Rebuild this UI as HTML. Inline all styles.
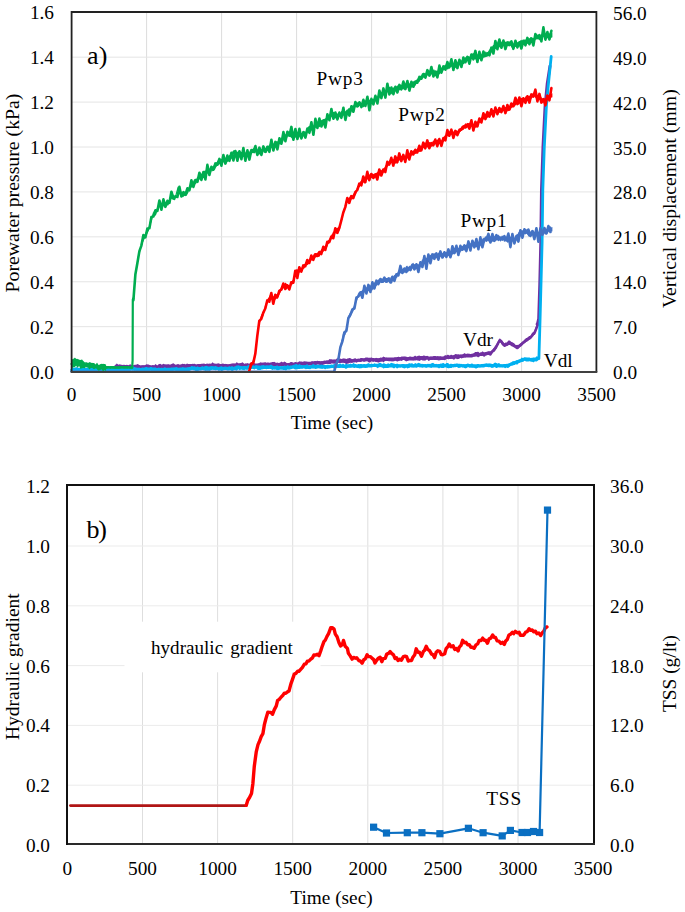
<!DOCTYPE html>
<html><head><meta charset="utf-8"><style>
html,body{margin:0;padding:0;background:#fff;}
svg{display:block;}
text{font-family:"Liberation Serif",serif;fill:#000;}
</style></head><body>
<svg width="685" height="912" viewBox="0 0 685 912">
<rect width="685" height="912" fill="#fff"/>
<g stroke="#e2e2e2" stroke-width="1"><line x1="146.6" y1="12" x2="146.6" y2="372" stroke="#dcdcdc"/><line x1="221.6" y1="12" x2="221.6" y2="372" stroke="#dcdcdc"/><line x1="296.6" y1="12" x2="296.6" y2="372" stroke="#dcdcdc"/><line x1="371.6" y1="12" x2="371.6" y2="372" stroke="#dcdcdc"/><line x1="446.6" y1="12" x2="446.6" y2="372" stroke="#dcdcdc"/><line x1="521.6" y1="12" x2="521.6" y2="372" stroke="#dcdcdc"/><line x1="72" y1="326.68" x2="597" y2="326.68" stroke="#e4e4e4"/><line x1="72" y1="281.76" x2="597" y2="281.76" stroke="#e4e4e4"/><line x1="72" y1="236.84" x2="597" y2="236.84" stroke="#e4e4e4"/><line x1="72" y1="191.92" x2="597" y2="191.92" stroke="#e4e4e4"/><line x1="72" y1="147.0" x2="597" y2="147.0" stroke="#e4e4e4"/><line x1="72" y1="102.08" x2="597" y2="102.08" stroke="#e4e4e4"/><line x1="72" y1="57.16" x2="597" y2="57.16" stroke="#e4e4e4"/></g>
<path d="M115.1,365.2 L115.6,364.6 L116.1,364.2 L116.6,363.4 L117.1,363.8 L117.6,364.1 L118.1,364.7 L118.6,364.5 L119.1,364.5 L119.6,364.3 L120.1,364.5 L120.6,364.6 L121.1,364.7 L121.6,364.8 L122.1,364.8 L122.6,364.9 L123.1,364.9 L123.6,364.8 L124.1,364.6 L124.6,364.9 L125.1,364.9 L125.6,364.9 L126.1,364.9 L126.6,364.8 L127.1,364.8 L127.6,364.9 L128.1,365.2 L128.6,365.3 L129.1,364.9 L129.6,364.5 L130.1,364.3 L130.6,364.5 L131.1,364.7 L131.6,365.3 L132.1,365.1 L132.6,365 L133.1,365 L133.6,365.2 L134.1,365.1 L134.6,364.8 L135.1,364.8 L135.6,364.8 L136.1,364.8 L136.6,364.5 L137.1,364.3 L137.6,364 L138.1,364.2 L138.6,364.6 L139.1,365 L139.6,365.1 L140.1,365.2 L140.6,365.4 L141.1,365.4 L141.6,365.3 L142.1,365.2 L142.6,365.3 L143.1,365.3 L143.6,365.2 L144.1,365.2 L144.6,365.2 L145.1,365.3 L145.6,364.7 L146.1,364.6 L146.6,364.3 L147.1,364.2 L147.6,364.4 L148.1,364.4 L148.6,364.5 L149.1,364.8 L149.6,365.1 L150.1,365.1 L150.6,365.3 L151.1,365.5 L151.6,365.3 L152.1,365.1 L152.6,365.2 L153.1,365.1 L153.6,365.2 L154.1,365.4 L154.6,365 L155.1,364.6 L155.6,363.9 L156.1,364.6 L156.6,365.1 L157.1,365.6 L157.6,365.3 L158.1,364.8 L158.6,364.3 L159.1,364 L159.6,364.1 L160.1,363.8 L160.6,364.1 L161.1,364.3 L161.6,364.7 L162.1,364.5 L162.6,364.3 L163.1,363.9 L163.6,363.8 L164.1,364.1 L164.6,364.3 L165.1,364.4 L165.6,364.3 L166.1,364.2 L166.6,364.4 L167.1,364.3 L167.6,364.4 L168.1,364.2 L168.6,364.3 L169.1,364.5 L169.6,364.5 L170.1,364.5 L170.6,364.5 L171.1,364.3 L171.6,364 L172.1,363.8 L172.6,363.5 L173.1,363.4 L173.6,363.3 L174.1,363.7 L174.6,364.2 L175.1,364.6 L175.6,364.7 L176.1,364.6 L176.6,364.6 L177.1,364.4 L177.6,364.1 L178.1,363.9 L178.6,364.2 L179.1,364.3 L179.6,364.7 L180.1,364.5 L180.6,364.4 L181.1,364.3 L181.6,364.2 L182.1,363.7 L182.6,363.8 L183.1,363.9 L183.6,363.9 L184.1,363.8 L184.6,364 L185.1,364.2 L185.6,364.3 L186.1,364.2 L186.6,363.8 L187.1,363.5 L187.6,363.8 L188.1,364 L188.6,364 L189.1,364 L189.6,363.9 L190.1,363.9 L190.6,364 L191.1,363.9 L191.6,363.9 L192.1,364 L192.6,363.8 L193.1,363.7 L193.6,363.9 L194.1,363.8 L194.6,363.7 L195.1,364 L195.6,364.2 L196.1,364.5 L196.6,364.5 L197.1,364.2 L197.6,364.1 L198.1,364 L198.6,363.9 L199.1,363.9 L199.6,364.1 L200.1,364.1 L200.6,363.9 L201.1,363.7 L201.6,363.8 L202.1,363.9 L202.6,363.6 L203.1,363.8 L203.6,363.6 L204.1,363.6 L204.6,363.8 L205.1,364.1 L205.6,364 L206.1,363.9 L206.6,363.6 L207.1,363.7 L207.6,363.6 L208.1,363.8 L208.6,363.7 L209.1,363.7 L209.6,363.5 L210.1,363.6 L210.6,363.7 L211.1,363.8 L211.6,363.3 L212.1,362.8 L212.6,362.3 L213.1,362.8 L213.6,363.2 L214.1,363.5 L214.6,363.6 L215.1,363.6 L215.6,363.7 L216.1,363.7 L216.6,363.7 L217.1,363.6 L217.6,363.5 L218.1,363.4 L218.6,363.3 L219.1,363.5 L219.6,363.7 L220.1,363.9 L220.6,364 L221.1,363.9 L221.6,364 L222.1,363.8 L222.6,363.5 L223.1,363.4 L223.6,363.7 L224.1,363.9 L224.6,364 L225.1,363.8 L225.6,363.9 L226.1,363.9 L226.6,364.1 L227.1,364.1 L227.6,364.2 L228.1,364.2 L228.6,364.2 L229.1,364.2 L229.6,364.1 L230.1,363.9 L230.6,363.7 L231.1,363.7 L231.6,363.5 L232.1,363.4 L232.6,363.4 L233.1,363.4 L233.6,363.6 L234.1,363.5 L234.6,363.4 L235.1,363.7 L235.6,363.3 L236.1,362.8 L236.6,362.3 L237.1,362.6 L237.6,362.8 L238.1,363.2 L238.6,363.3 L239.1,363.3 L239.6,363.3 L240.1,363.2 L240.6,363 L241.1,362.9 L241.6,362.8 L242.1,362.5 L242.6,362.3 L243.1,362.8 L243.6,363.2 L244.1,363.8 L244.6,363.7 L245.1,363.6 L245.6,363.5 L246.1,363.5 L246.6,363.4 L247.1,363.1 L247.6,363.2 L248.1,363.4 L248.6,363.5 L249.1,363.4 L249.6,363.5 L250.1,363.6 L250.6,363.5 L251.1,363.3 L251.6,363.1 L252.1,362.8 L252.6,362.3 L253.1,362.2 L253.6,362.5 L254.1,362.7 L254.6,363.3 L255.1,363.4 L255.6,363.5 L256.1,363.6 L256.6,363.6 L257.1,363.5 L257.6,363.4 L258.1,363.3 L258.6,363.3 L259.1,363.3 L259.6,362.8 L260.1,362.5 L260.6,362.2 L261.1,362.4 L261.6,362.6 L262.1,362.7 L262.6,362.6 L263.1,362.5 L263.6,362.6 L264.1,362.4 L264.6,362.3 L265.1,362.2 L265.6,362.3 L266.1,362.5 L266.6,362.7 L267.1,362.4 L267.6,362.5 L268.1,362.6 L268.6,362.6 L269.1,362.8 L269.6,362.8 L270.1,362.6 L270.6,362.6 L271.1,362.5 L271.6,362.3 L272.1,362 L272.6,362 L273.1,361.9 L273.6,361.9 L274.1,361.8 L274.6,362 L275.1,362.2 L275.6,362.7 L276.1,362.8 L276.6,362.8 L277.1,362.7 L277.6,362.6 L278.1,362.7 L278.6,362.9 L279.1,362.9 L279.6,362.8 L280.1,362.6 L280.6,362.3 L281.1,361.9 L281.6,361.5 L282.1,361.9 L282.6,362.3 L283.1,362.6 L283.6,362.1 L284.1,361.7 L284.6,361.5 L285.1,361.9 L285.6,362.1 L286.1,362.7 L286.6,362.7 L287.1,363.2 L287.6,363.1 L288.1,363 L288.6,362.9 L289.1,362.9 L289.6,362.7 L290.1,362.4 L290.6,362 L291.1,362.1 L291.6,362.1 L292.1,362.2 L292.6,362.5 L293.1,362.6 L293.6,362.8 L294.1,362.5 L294.6,362.3 L295.1,362 L295.6,362 L296.1,362.2 L296.6,362.3 L297.1,362.3 L297.6,362.4 L298.1,362.2 L298.6,361.8 L299.1,361.6 L299.6,361.3 L300.1,361.4 L300.6,361.5 L301.1,361.5 L301.6,361.6 L302.1,361.8 L302.6,361.8 L303.1,361.7 L303.6,361.4 L304.1,361.1 L304.6,361.4 L305.1,361.3 L305.6,361.4 L306.1,361.4 L306.6,361.5 L307.1,361.6 L307.6,361.7 L308.1,361.7 L308.6,361.8 L309.1,361.8 L309.6,361.7 L310.1,361.7 L310.6,361.7 L311.1,361.5 L311.6,361.3 L312.1,361.3 L312.6,361.2 L313.1,361.4 L313.6,361.3 L314.1,361.2 L314.6,361 L315.1,361 L315.6,361.1 L316.1,361.3 L316.6,361 L317.1,360.8 L317.6,360.8 L318.1,361 L318.6,361 L319.1,361.1 L319.6,361.1 L320.1,361.3 L320.6,361.2 L321.1,361.2 L321.6,361.1 L322.1,361.2 L322.6,361 L323.1,360.9 L323.6,360.7 L324.1,360.6 L324.6,360.6 L325.1,360.7 L325.6,360.6 L326.1,360.4 L326.6,360.2 L327.1,360.2 L327.6,360.3 L328.1,360.4 L328.6,359.9 L329.1,359.6 L329.6,359.1 L330.1,359.3 L330.6,359.2 L331.1,359.2 L331.6,359.3 L332.1,359.5 L332.6,359.6 L333.1,359.5 L333.6,359.4 L334.1,359.3 L334.6,359.4 L335.1,359.6 L335.6,359.6 L336.1,359.1 L336.6,358.7 L337.1,358.1 L337.6,358.4 L338.1,358.6 L338.6,358.9 L339.1,358.7 L339.6,358.6 L340.1,358.6 L340.6,358.8 L341.1,358.8 L341.6,359.1 L342.1,358.9 L342.6,358.5 L343.1,358.3 L343.6,358.4 L344.1,358.4 L344.6,358.5 L345.1,358.6 L345.6,358.8 L346.1,359.1 L346.6,358.9 L347.1,358.6 L347.6,358.6 L348.1,358.4 L348.6,358.2 L349.1,357.9 L349.6,358 L350.1,358.2 L350.6,358.3 L351.1,358.5 L351.6,358.9 L352.1,359.2 L352.6,359 L353.1,358.9 L353.6,358.8 L354.1,358.6 L354.6,358.5 L355.1,358.1 L355.6,358.5 L356.1,358.7 L356.6,359 L357.1,358.8 L357.6,358.8 L358.1,358.7 L358.6,358.5 L359.1,358.6 L359.6,358.7 L360.1,358.4 L360.6,358.1 L361.1,357.9 L361.6,357.9 L362.1,358.1 L362.6,358.2 L363.1,358.3 L363.6,358.3 L364.1,358.2 L364.6,358.2 L365.1,357.8 L365.6,357.6 L366.1,357.5 L366.6,357.5 L367.1,357.5 L367.6,357.6 L368.1,357.8 L368.6,357.8 L369.1,357.8 L369.6,357.7 L370.1,357.7 L370.6,357.7 L371.1,357.6 L371.6,357.6 L372.1,357.7 L372.6,357.9 L373.1,357.9 L373.6,358 L374.1,358.3 L374.6,358.3 L375.1,358.2 L375.6,358.1 L376.1,357.8 L376.6,358 L377.1,358.1 L377.6,358.2 L378.1,358.2 L378.6,358.2 L379.1,358.1 L379.6,357.9 L380.1,357.7 L380.6,357.5 L381.1,357.6 L381.6,357.7 L382.1,357.6 L382.6,357.2 L383.1,356.8 L383.6,356.6 L384.1,356.9 L384.6,357 L385.1,357.4 L385.6,357.5 L386.1,357.6 L386.6,357.5 L387.1,357.4 L387.6,357.4 L388.1,357.4 L388.6,357.5 L389.1,357.6 L389.6,357.5 L390.1,357.5 L390.6,357.5 L391.1,357.5 L391.6,357.6 L392.1,357.5 L392.6,357.5 L393.1,357.5 L393.6,357.5 L394.1,357.5 L394.6,357.3 L395.1,357.3 L395.6,357.3 L396.1,357.2 L396.6,357.2 L397.1,357.1 L397.6,357 L398.1,356.9 L398.6,356.6 L399.1,357 L399.6,357.1 L400.1,357.3 L400.6,357 L401.1,356.7 L401.6,356.6 L402.1,356.6 L402.6,356.6 L403.1,356.7 L403.6,356.5 L404.1,356.5 L404.6,356.6 L405.1,356.6 L405.6,356.6 L406.1,356.7 L406.6,356.8 L407.1,356.9 L407.6,357.2 L408.1,357 L408.6,356.9 L409.1,356.8 L409.6,356.6 L410.1,356.6 L410.6,356.6 L411.1,356.7 L411.6,356.8 L412.1,357 L412.6,356.8 L413.1,356.7 L413.6,356.7 L414.1,356.2 L414.6,355.9 L415.1,355.5 L415.6,356 L416.1,356.2 L416.6,356.6 L417.1,356.3 L417.6,356.1 L418.1,355.8 L418.6,355.8 L419.1,355.7 L419.6,355.6 L420.1,355.9 L420.6,355.9 L421.1,356 L421.6,356 L422.1,356 L422.6,355.9 L423.1,355.7 L423.6,355.6 L424.1,355.5 L424.6,355.7 L425.1,355.8 L425.6,356.2 L426.1,356 L426.6,355.9 L427.1,355.8 L427.6,355.9 L428.1,356.3 L428.6,356.6 L429.1,356.7 L429.6,356.6 L430.1,356.4 L430.6,356.5 L431.1,356.5 L431.6,356.6 L432.1,356.5 L432.6,356.4 L433.1,356.2 L433.6,356.1 L434.1,356.1 L434.6,356 L435.1,356 L435.6,356.1 L436.1,356.3 L436.6,356.2 L437.1,356.3 L437.6,356.1 L438.1,356.2 L438.6,356.3 L439.1,356.4 L439.6,356.3 L440.1,356.3 L440.6,356.2 L441.1,356.3 L441.6,356.4 L442.1,356.4 L442.6,356.4 L443.1,356.5 L443.6,356.4 L444.1,356.1 L444.6,355.6 L445.1,355.2 L445.6,355.2 L446.1,355.3 L446.6,355.4 L447.1,355 L447.6,354.8 L448.1,354.7 L448.6,355 L449.1,355.3 L449.6,355.6 L450.1,355.2 L450.6,355 L451.1,354.5 L451.6,354.9 L452.1,355 L452.6,355.5 L453.1,355.5 L453.6,355.1 L454.1,354.9 L454.6,354.6 L455.1,354.2 L455.6,354 L456.1,354.1 L456.6,354.3 L457.1,354.4 L457.6,354.3 L458.1,354.3 L458.6,354.3 L459.1,354.5 L459.6,354.6 L460.1,354.6 L460.6,354.5 L461.1,354.5 L461.6,354.5 L462.1,354.4 L462.6,354.2 L463.1,354 L463.6,353.7 L464.1,353.5 L464.6,353.1 L465.1,353.6 L465.6,353.8 L466.1,354 L466.6,353.8 L467.1,353.8 L467.6,353.6 L468.1,353.6 L468.6,353.7 L469.1,353.8 L469.6,353.8 L470.1,353.9 L470.6,354 L471.1,353.9 L471.6,353.8 L472.1,353.6 L472.6,353.7 L473.1,353.5 L473.6,353.3 L474.1,353 L474.6,352.5 L475.1,352 L475.6,352.1 L476.1,352.1 L476.6,352.1 L477.1,352 L477.6,351.8 L478.1,351.8 L478.6,352.1 L479.1,352.4 L479.6,352.9 L480.1,352.6 L480.6,352.4 L481.1,352.4 L481.6,352.1 L482.1,351.7 L482.6,351.2 L483.1,351.7 L483.6,352.1 L484.1,352.6 L484.6,352.3 L485.1,352.2 L485.6,352.1 L486.1,351.9 L486.6,351.8 L487.1,351.8 L487.6,351.5 L488.1,351.3 L488.6,351.2 L489.1,351.3 L489.6,351.3 L490.1,351.5 L490.6,351.3 L491.1,351 L491.6,350.4 L492.1,350 L492.6,349.6 L493.1,349.1 L493.6,348.2 L494.1,347.4 L494.6,346.4 L495.1,346 L495.6,345.4 L496.1,344.5 L496.6,343.5 L497.1,342.7 L497.6,342.1 L498.1,341 L498.6,339.9 L499.1,339 L499.6,338.5 L500.1,338.6 L500.6,339.3 L501.1,339.6 L501.6,340 L502.1,340.3 L502.6,341.1 L503.1,342 L503.6,342.9 L504.1,343.3 L504.6,343.2 L505.1,342.8 L505.6,342.6 L506.1,342.6 L506.6,342.5 L507.1,342.2 L507.6,341.5 L508.1,340.8 L508.6,340.5 L509.1,340.5 L509.6,340.5 L510.1,340.7 L510.6,341.3 L511.1,341.8 L511.6,342.1 L512.1,342.3 L512.6,342.3 L513.1,342.7 L513.6,343.1 L514.1,343.3 L514.6,343.8 L515.1,344.4 L515.6,344.9 L516.1,344.9 L516.6,345 L517.1,344.8 L517.6,345.1 L518.1,345 L518.6,344.8 L519.1,344.5 L519.6,343.9 L520.1,343.5 L520.6,343.2 L521.1,342.8 L521.6,342.4 L522.1,342.1 L522.6,341.5 L523.1,341.1 L523.6,340.7 L524.1,340 L524.6,339.5 L525.1,339.1 L525.6,338.4 L526.1,337.9 L526.6,337.9 L527.1,337.8 L527.6,337.5 L528.1,337 L528.6,336.4 L529.1,335.9 L529.6,336 L530.1,336 L530.6,335.8 L531.1,334.9 L531.6,333.8 L532.1,332.9 L532.6,332.6 L533.1,332.2 L533.6,332.1 L534.1,331.2 L534.6,330.2 L535.1,328.9 L535.6,327.6 L536.1,326.3 L536.6,324.9 L537.1,323.8 L537.6,322.6 L538.1,321.6 L538.1,326.4 L537.6,327.3 L537.1,328.5 L536.6,329.6 L536.1,331.3 L535.6,333 L535.1,334.6 L534.6,335 L534.1,335.1 L533.6,335.2 L533.1,335.7 L532.6,336.6 L532.1,337.2 L531.6,337.8 L531.1,338.4 L530.6,338.9 L530.1,339.4 L529.6,339.8 L529.1,340 L528.6,340.4 L528.1,340.8 L527.6,341.2 L527.1,341.6 L526.6,341.8 L526.1,342 L525.6,342.4 L525.1,343 L524.6,343.3 L524.1,343.6 L523.6,344.1 L523.1,344.3 L522.6,344.9 L522.1,345.6 L521.6,346.1 L521.1,346.4 L520.6,346.7 L520.1,346.8 L519.6,347.3 L519.1,348 L518.6,348.4 L518.1,348.9 L517.6,349.3 L517.1,349.3 L516.6,349.2 L516.1,348.7 L515.6,348.4 L515.1,348 L514.6,347.6 L514.1,347.4 L513.6,347.2 L513.1,346.8 L512.6,346.5 L512.1,346.4 L511.6,346.3 L511.1,346 L510.6,345.6 L510.1,345.1 L509.6,344.9 L509.1,345 L508.6,345.1 L508.1,345.4 L507.6,345.8 L507.1,346.1 L506.6,346.1 L506.1,346.4 L505.6,346.4 L505.1,346.8 L504.6,347 L504.1,347 L503.6,346.4 L503.1,346 L502.6,345.6 L502.1,345.2 L501.6,344.4 L501.1,343.5 L500.6,342.6 L500.1,342.2 L499.6,342.3 L499.1,343.1 L498.6,343.9 L498.1,345 L497.6,346 L497.1,346.8 L496.6,347.9 L496.1,349.1 L495.6,350.2 L495.1,350.9 L494.6,351.5 L494.1,351.9 L493.6,352.1 L493.1,352.3 L492.6,353.3 L492.1,354.1 L491.6,354.9 L491.1,355.4 L490.6,355.7 L490.1,355.8 L489.6,355.5 L489.1,355.2 L488.6,354.9 L488.1,354.9 L487.6,355.1 L487.1,355.3 L486.6,355.4 L486.1,355.5 L485.6,355.7 L485.1,356.2 L484.6,356.5 L484.1,357 L483.6,356.6 L483.1,356.2 L482.6,355.7 L482.1,355.9 L481.6,356 L481.1,355.9 L480.6,355.9 L480.1,356.1 L479.6,356.4 L479.1,356.7 L478.6,357.1 L478.1,357.6 L477.6,357.1 L477.1,356.8 L476.6,356.5 L476.1,356.6 L475.6,356.6 L475.1,356.6 L474.6,356.7 L474.1,356.8 L473.6,356.7 L473.1,357 L472.6,357.3 L472.1,357.4 L471.6,357.5 L471.1,357.4 L470.6,357.4 L470.1,357.5 L469.6,357.4 L469.1,357.4 L468.6,357.5 L468.1,357.4 L467.6,357.5 L467.1,357.5 L466.6,357.4 L466.1,357.4 L465.6,357.6 L465.1,357.7 L464.6,357.6 L464.1,357.8 L463.6,357.8 L463.1,357.9 L462.6,358.1 L462.1,358.3 L461.6,358.4 L461.1,358.2 L460.6,358 L460.1,357.9 L459.6,358.4 L459.1,358.7 L458.6,359 L458.1,359 L457.6,359.1 L457.1,359.3 L456.6,359.1 L456.1,358.6 L455.6,358.4 L455.1,358.8 L454.6,359.3 L454.1,359.8 L453.6,359.5 L453.1,359.4 L452.6,359 L452.1,358.7 L451.6,358.9 L451.1,358.8 L450.6,359 L450.1,358.9 L449.6,358.9 L449.1,359.1 L448.6,359.2 L448.1,359.2 L447.6,359.1 L447.1,359 L446.6,359.1 L446.1,359.4 L445.6,359.8 L445.1,360.2 L444.6,360.2 L444.1,360.1 L443.6,360 L443.1,360.1 L442.6,360 L442.1,360 L441.6,360.1 L441.1,360.1 L440.6,360.1 L440.1,360.3 L439.6,360.3 L439.1,360.6 L438.6,360.4 L438.1,360.2 L437.6,360 L437.1,360.2 L436.6,360.1 L436.1,360.1 L435.6,359.9 L435.1,359.9 L434.6,360 L434.1,360 L433.6,359.9 L433.1,359.8 L432.6,360 L432.1,359.9 L431.6,359.9 L431.1,359.9 L430.6,359.9 L430.1,359.9 L429.6,360.4 L429.1,360.7 L428.6,360.9 L428.1,360.4 L427.6,359.8 L427.1,359.5 L426.6,359.8 L426.1,360.1 L425.6,360.5 L425.1,360.4 L424.6,360.6 L424.1,360.8 L423.6,360.6 L423.1,360.4 L422.6,360.4 L422.1,360.3 L421.6,360.1 L421.1,359.8 L420.6,360.2 L420.1,360.7 L419.6,360.9 L419.1,360.8 L418.6,360.7 L418.1,360.6 L417.6,360.5 L417.1,360.4 L416.6,360.2 L416.1,360.3 L415.6,360.5 L415.1,360.5 L414.6,360.6 L414.1,360.6 L413.6,360.7 L413.1,360.6 L412.6,360.6 L412.1,360.6 L411.6,360.5 L411.1,360.4 L410.6,360.4 L410.1,360.4 L409.6,360.4 L409.1,360.6 L408.6,360.7 L408.1,360.8 L407.6,360.9 L407.1,361 L406.6,361.2 L406.1,361.5 L405.6,361.1 L405.1,360.7 L404.6,360.4 L404.1,360.1 L403.6,360 L403.1,360.1 L402.6,360.3 L402.1,360.7 L401.6,361.1 L401.1,360.7 L400.6,360.7 L400.1,360.6 L399.6,360.8 L399.1,361.1 L398.6,361.1 L398.1,361.3 L397.6,361.4 L397.1,361.4 L396.6,361.2 L396.1,360.9 L395.6,360.7 L395.1,360.8 L394.6,361 L394.1,361.2 L393.6,361.3 L393.1,361.4 L392.6,361.5 L392.1,361.3 L391.6,361.4 L391.1,361.2 L390.6,361.3 L390.1,361.3 L389.6,361.3 L389.1,361.3 L388.6,361.2 L388.1,361.1 L387.6,360.9 L387.1,360.9 L386.6,360.8 L386.1,360.9 L385.6,360.9 L385.1,360.8 L384.6,361.3 L384.1,362 L383.6,362.5 L383.1,362.1 L382.6,361.8 L382.1,361.5 L381.6,361.7 L381.1,361.8 L380.6,361.7 L380.1,361.9 L379.6,362.1 L379.1,362.4 L378.6,362.4 L378.1,362.4 L377.6,362.3 L377.1,362.2 L376.6,362.1 L376.1,362 L375.6,362 L375.1,361.8 L374.6,361.6 L374.1,361.8 L373.6,361.8 L373.1,362 L372.6,361.8 L372.1,361.5 L371.6,361.3 L371.1,361.7 L370.6,362.1 L370.1,362.5 L369.6,362.4 L369.1,362.4 L368.6,362.3 L368.1,362 L367.6,361.6 L367.1,361.3 L366.6,361.3 L366.1,361.4 L365.6,361.6 L365.1,361.6 L364.6,361.8 L364.1,361.7 L363.6,361.7 L363.1,361.6 L362.6,361.3 L362.1,361.6 L361.6,361.8 L361.1,362.1 L360.6,362 L360.1,362 L359.6,362 L359.1,361.8 L358.6,361.8 L358.1,361.9 L357.6,362.1 L357.1,362.4 L356.6,362.7 L356.1,362.5 L355.6,362.4 L355.1,362.1 L354.6,362.4 L354.1,362.5 L353.6,362.6 L353.1,362.6 L352.6,362.7 L352.1,362.8 L351.6,362.9 L351.1,362.7 L350.6,362.8 L350.1,362.8 L349.6,362.9 L349.1,363 L348.6,363.4 L348.1,363.6 L347.6,363.8 L347.1,363.8 L346.6,364.2 L346.1,364.3 L345.6,363.7 L345.1,363.3 L344.6,362.9 L344.1,362.9 L343.6,362.8 L343.1,362.7 L342.6,362.7 L342.1,362.8 L341.6,362.8 L341.1,362.9 L340.6,363.1 L340.1,363.1 L339.6,363 L339.1,362.9 L338.6,362.8 L338.1,362.9 L337.6,362.9 L337.1,362.8 L336.6,363.2 L336.1,363.3 L335.6,363.5 L335.1,363.7 L334.6,363.7 L334.1,363.8 L333.6,363.7 L333.1,363.5 L332.6,363.4 L332.1,363.5 L331.6,363.5 L331.1,363.6 L330.6,363.9 L330.1,364.1 L329.6,364.2 L329.1,364.1 L328.6,364 L328.1,364 L327.6,363.9 L327.1,363.8 L326.6,363.8 L326.1,363.9 L325.6,364.1 L325.1,364.1 L324.6,364.2 L324.1,364.4 L323.6,364.5 L323.1,364.9 L322.6,365.1 L322.1,365.4 L321.6,365.5 L321.1,365.6 L320.6,365.8 L320.1,365.5 L319.6,365 L319.1,364.6 L318.6,364.6 L318.1,364.6 L317.6,364.4 L317.1,364.6 L316.6,365.1 L316.1,365.6 L315.6,365.2 L315.1,364.9 L314.6,364.7 L314.1,364.8 L313.6,365 L313.1,365 L312.6,365 L312.1,365.3 L311.6,365.5 L311.1,365.5 L310.6,365.5 L310.1,365.4 L309.6,365.5 L309.1,365.6 L308.6,365.8 L308.1,365.4 L307.6,365.2 L307.1,364.9 L306.6,365 L306.1,365.2 L305.6,365.5 L305.1,365.7 L304.6,366.3 L304.1,366.4 L303.6,366.4 L303.1,366.5 L302.6,366.4 L302.1,366 L301.6,365.5 L301.1,365.2 L300.6,365.5 L300.1,365.7 L299.6,366 L299.1,366.2 L298.6,366.3 L298.1,366.5 L297.6,366.9 L297.1,367.1 L296.6,367.3 L296.1,366.8 L295.6,366.4 L295.1,366 L294.6,366 L294.1,366 L293.6,366.1 L293.1,366.1 L292.6,366.1 L292.1,365.9 L291.6,366 L291.1,366 L290.6,366 L290.1,366.2 L289.6,366.4 L289.1,366.5 L288.6,366.8 L288.1,367.2 L287.6,367.6 L287.1,367.4 L286.6,366.7 L286.1,366.4 L285.6,366.3 L285.1,366.5 L284.6,366.6 L284.1,366.2 L283.6,366 L283.1,365.9 L282.6,366.1 L282.1,366.1 L281.6,366.2 L281.1,366.2 L280.6,366.2 L280.1,366.2 L279.6,366.6 L279.1,366.9 L278.6,367 L278.1,366.7 L277.6,366.5 L277.1,366.5 L276.6,366.5 L276.1,366.4 L275.6,366.1 L275.1,366.3 L274.6,366.6 L274.1,367 L273.6,366.7 L273.1,366.4 L272.6,366.1 L272.1,366 L271.6,366.1 L271.1,366.1 L270.6,366.2 L270.1,366.2 L269.6,366.4 L269.1,366.5 L268.6,366.3 L268.1,366.5 L267.6,366.3 L267.1,366.2 L266.6,366.4 L266.1,366.3 L265.6,366.2 L265.1,366.3 L264.6,366.3 L264.1,366.2 L263.6,366.2 L263.1,366 L262.6,366 L262.1,366 L261.6,366.5 L261.1,367 L260.6,367.4 L260.1,367.2 L259.6,366.9 L259.1,366.8 L258.6,366.9 L258.1,367 L257.6,367.1 L257.1,367.2 L256.6,367.1 L256.1,367.1 L255.6,367.1 L255.1,367.2 L254.6,367.2 L254.1,367.3 L253.6,367.7 L253.1,368 L252.6,367.6 L252.1,367.5 L251.6,367.2 L251.1,367.1 L250.6,367.1 L250.1,366.9 L249.6,367 L249.1,367.1 L248.6,367.3 L248.1,367.2 L247.6,367 L247.1,366.9 L246.6,367.1 L246.1,367.1 L245.6,367 L245.1,367 L244.6,367 L244.1,367 L243.6,367 L243.1,367.4 L242.6,367.6 L242.1,367.2 L241.6,366.9 L241.1,366.6 L240.6,366.8 L240.1,367.2 L239.6,367.5 L239.1,367.3 L238.6,367.1 L238.1,366.7 L237.6,366.7 L237.1,366.9 L236.6,367 L236.1,366.9 L235.6,366.9 L235.1,366.8 L234.6,366.8 L234.1,367.2 L233.6,367.6 L233.1,367.5 L232.6,367.5 L232.1,367.6 L231.6,367.3 L231.1,367.2 L230.6,366.9 L230.1,367 L229.6,367.2 L229.1,367.2 L228.6,367.6 L228.1,367.8 L227.6,368.1 L227.1,368 L226.6,368 L226.1,367.8 L225.6,367.6 L225.1,367.4 L224.6,367.3 L224.1,367.5 L223.6,367.4 L223.1,367.3 L222.6,367.4 L222.1,367.6 L221.6,367.9 L221.1,367.7 L220.6,367.7 L220.1,367.5 L219.6,367.8 L219.1,367.9 L218.6,368.2 L218.1,368 L217.6,367.7 L217.1,367.4 L216.6,367.7 L216.1,367.9 L215.6,368 L215.1,368 L214.6,368 L214.1,368 L213.6,367.8 L213.1,367.4 L212.6,366.9 L212.1,367.2 L211.6,367.4 L211.1,367.6 L210.6,367.6 L210.1,367.6 L209.6,367.6 L209.1,367.7 L208.6,367.7 L208.1,367.8 L207.6,367.8 L207.1,368 L206.6,368 L206.1,368.3 L205.6,368.5 L205.1,368.6 L204.6,368.6 L204.1,368.7 L203.6,369 L203.1,368.9 L202.6,368.6 L202.1,368.6 L201.6,368.2 L201.1,367.6 L200.6,367.4 L200.1,367.7 L199.6,367.9 L199.1,367.9 L198.6,368 L198.1,368.2 L197.6,368.3 L197.1,368 L196.6,368 L196.1,367.6 L195.6,367.7 L195.1,367.9 L194.6,367.8 L194.1,367.8 L193.6,367.8 L193.1,367.4 L192.6,367.6 L192.1,367.9 L191.6,367.9 L191.1,367.7 L190.6,367.6 L190.1,367.3 L189.6,367.4 L189.1,367.6 L188.6,367.7 L188.1,367.9 L187.6,368 L187.1,367.9 L186.6,368 L186.1,368.2 L185.6,368.1 L185.1,368.3 L184.6,368.4 L184.1,368.6 L183.6,368.7 L183.1,368.6 L182.6,368.4 L182.1,368.3 L181.6,368.7 L181.1,368.8 L180.6,368.7 L180.1,368.5 L179.6,368.5 L179.1,368.4 L178.6,368.6 L178.1,368.5 L177.6,368.4 L177.1,368.5 L176.6,368.3 L176.1,368.2 L175.6,368.3 L175.1,368.1 L174.6,368 L174.1,368 L173.6,367.9 L173.1,368.1 L172.6,368.3 L172.1,368.7 L171.6,368.6 L171.1,368.5 L170.6,368.3 L170.1,368.4 L169.6,368.4 L169.1,368.5 L168.6,368.2 L168.1,368.2 L167.6,368.3 L167.1,368.2 L166.6,368.2 L166.1,367.9 L165.6,368.1 L165.1,368.2 L164.6,368.2 L164.1,368.1 L163.6,368.1 L163.1,368.4 L162.6,368.6 L162.1,368.7 L161.6,368.7 L161.1,368.7 L160.6,368.8 L160.1,368.9 L159.6,369.3 L159.1,369.4 L158.6,369.8 L158.1,369.7 L157.6,369.6 L157.1,369.3 L156.6,369.4 L156.1,369.5 L155.6,369.4 L155.1,369.4 L154.6,369.2 L154.1,369 L153.6,368.9 L153.1,369.1 L152.6,369.4 L152.1,369.5 L151.6,369.7 L151.1,370 L150.6,369.8 L150.1,369.7 L149.6,369.7 L149.1,369.6 L148.6,369.7 L148.1,369.8 L147.6,369.7 L147.1,369.5 L146.6,369.5 L146.1,369.1 L145.6,368.6 L145.1,368.5 L144.6,368.6 L144.1,368.8 L143.6,368.9 L143.1,368.9 L142.6,368.8 L142.1,368.7 L141.6,368.7 L141.1,368.8 L140.6,368.7 L140.1,369 L139.6,369.5 L139.1,370 L138.6,369.4 L138.1,368.9 L137.6,368.5 L137.1,368.5 L136.6,368.6 L136.1,368.6 L135.6,368.9 L135.1,369.3 L134.6,369.5 L134.1,369.5 L133.6,369.3 L133.1,368.8 L132.6,368.9 L132.1,369.2 L131.6,369.7 L131.1,369.2 L130.6,369 L130.1,368.8 L129.6,368.7 L129.1,368.7 L128.6,368.8 L128.1,368.7 L127.6,368.3 L127.1,368.2 L126.6,368.4 L126.1,368.6 L125.6,368.7 L125.1,368.8 L124.6,368.8 L124.1,368.6 L123.6,368.6 L123.1,368.5 L122.6,368.4 L122.1,368.8 L121.6,369.2 L121.1,369.5 L120.6,369.5 L120.1,369.4 L119.6,369.3 L119.1,369.3 L118.6,369 L118.1,368.9 L117.6,368.6 L117.1,368.6 L116.6,368.4 L116.1,368.7 L115.6,368.6 L115.1,368.7Z" fill="#7030a0"/><polyline points="115.1,366.8 115.6,366.6 116.1,366.7 116.6,366.5 117.1,366.5 117.6,366.3 118.1,366.4 118.6,366.5 119.1,366.6 119.6,366.6 120.1,366.7 120.6,366.6 121.1,366.6 121.6,366.6 122.1,366.5 122.6,366.5 123.1,366.6 123.6,366.6 124.1,366.5 124.6,366.8 125.1,366.8 125.6,366.7 126.1,366.8 126.6,366.7 127.1,366.7 127.6,366.6 128.1,366.9 128.6,366.9 129.1,366.9 129.6,366.9 130.1,367.1 130.6,367.1 131.1,367 131.6,367.2 132.1,367 132.6,367 133.1,367 133.6,367.3 134.1,367.1 134.6,366.8 135.1,366.9 135.6,366.8 136.1,366.8 136.6,366.8 137.1,366.8 137.6,366.8 138.1,366.8 138.6,366.9 139.1,367.1 139.6,367 140.1,367 140.6,367 141.1,367.1 141.6,366.9 142.1,366.8 142.6,366.9 143.1,366.9 143.6,366.9 144.1,366.9 144.6,366.8 145.1,366.8 145.6,366.6 146.1,366.8 146.6,366.8 147.1,366.7 147.6,366.8 148.1,366.8 148.6,366.8 149.1,366.9 149.6,367.1 150.1,367.1 150.6,367.3 151.1,367.5 151.6,367.3 152.1,367.2 152.6,367.2 153.1,367 153.6,366.9 154.1,367 154.6,367.1 155.1,367.1 155.6,366.9 156.1,367.1 156.6,367.1 157.1,367.2 157.6,367.2 158.1,366.9 158.6,366.7 159.1,366.6 159.6,366.8 160.1,366.7 160.6,366.6 161.1,366.6 161.6,366.6 162.1,366.7 162.6,366.7 163.1,366.5 163.6,366.2 164.1,366.2 164.6,366.2 165.1,366.4 165.6,366.4 166.1,366.3 166.6,366.3 167.1,366.2 167.6,366.1 168.1,366 168.6,366 169.1,366.3 169.6,366.4 170.1,366.5 170.6,366.5 171.1,366.5 171.6,366.4 172.1,366.4 172.6,366.1 173.1,366 173.6,365.9 174.1,366 174.6,366.1 175.1,366.2 175.6,366.4 176.1,366.4 176.6,366.5 177.1,366.7 177.6,366.6 178.1,366.7 178.6,366.7 179.1,366.5 179.6,366.4 180.1,366.3 180.6,366.3 181.1,366.3 181.6,366.3 182.1,366.1 182.6,366.3 183.1,366.4 183.6,366.4 184.1,366.3 184.6,366.2 185.1,366.3 185.6,366.3 186.1,366.4 186.6,366.1 187.1,366 187.6,366.2 188.1,366.2 188.6,366 189.1,365.9 189.6,365.8 190.1,365.7 190.6,365.8 191.1,365.8 191.6,366 192.1,366 192.6,365.8 193.1,365.8 193.6,366 194.1,365.9 194.6,365.8 195.1,366 195.6,366 196.1,366 196.6,366.2 197.1,365.9 197.6,366 198.1,365.9 198.6,365.7 199.1,365.6 199.6,365.8 200.1,365.8 200.6,365.6 201.1,365.5 201.6,365.7 202.1,365.8 202.6,365.7 203.1,366 203.6,365.9 204.1,365.8 204.6,365.8 205.1,365.9 205.6,366.1 206.1,366.2 206.6,366.1 207.1,366 207.6,365.9 208.1,365.8 208.6,365.8 209.1,365.8 209.6,365.7 210.1,365.6 210.6,365.5 211.1,365.4 211.6,365.3 212.1,365.2 212.6,365.1 213.1,365.2 213.6,365.3 214.1,365.2 214.6,365.3 215.1,365.3 215.6,365.5 216.1,365.5 216.6,365.5 217.1,365.5 217.6,365.5 218.1,365.6 218.6,365.6 219.1,365.6 219.6,365.6 220.1,365.7 220.6,365.7 221.1,365.6 221.6,365.6 222.1,365.5 222.6,365.4 223.1,365.4 223.6,365.7 224.1,365.8 224.6,365.8 225.1,365.7 225.6,365.8 226.1,366 226.6,366.1 227.1,366 227.6,366 228.1,365.9 228.6,365.8 229.1,365.7 229.6,365.7 230.1,365.4 230.6,365.3 231.1,365.3 231.6,365.2 232.1,365.3 232.6,365.1 233.1,365.1 233.6,365.2 234.1,365.1 234.6,365 235.1,365.3 235.6,365.2 236.1,365.1 236.6,365.1 237.1,365.1 237.6,365.1 238.1,365.2 238.6,365.3 239.1,365.3 239.6,365.2 240.1,365 240.6,364.9 241.1,364.8 241.6,364.9 242.1,364.9 242.6,365 243.1,365.2 243.6,365.1 244.1,365.4 244.6,365.3 245.1,365.2 245.6,365.1 246.1,365.3 246.6,365.2 247.1,365.1 247.6,365.2 248.1,365.3 248.6,365.2 249.1,365.2 249.6,365.3 250.1,365.4 250.6,365.5 251.1,365.3 251.6,365.3 252.1,365.3 252.6,365.1 253.1,365.2 253.6,365.2 254.1,365.1 254.6,365.4 255.1,365.4 255.6,365.2 256.1,365.2 256.6,365.2 257.1,365.3 257.6,365.2 258.1,365.1 258.6,365 259.1,364.9 259.6,364.8 260.1,364.7 260.6,364.7 261.1,364.7 261.6,364.6 262.1,364.5 262.6,364.5 263.1,364.5 263.6,364.6 264.1,364.5 264.6,364.5 265.1,364.5 265.6,364.4 266.1,364.5 266.6,364.5 267.1,364.3 267.6,364.3 268.1,364.5 268.6,364.4 269.1,364.6 269.6,364.6 270.1,364.4 270.6,364.5 271.1,364.5 271.6,364.3 272.1,364.1 272.6,364.1 273.1,364 273.6,364.1 274.1,364.2 274.6,364.1 275.1,364.1 275.6,364.3 276.1,364.5 276.6,364.6 277.1,364.5 277.6,364.4 278.1,364.3 278.6,364.5 279.1,364.5 279.6,364.5 280.1,364.3 280.6,364.3 281.1,364.2 281.6,364.2 282.1,364.3 282.6,364.4 283.1,364.4 283.6,364.4 284.1,364.4 284.6,364.5 285.1,364.6 285.6,364.4 286.1,364.5 286.6,364.5 287.1,364.9 287.6,364.8 288.1,364.7 288.6,364.6 289.1,364.6 289.6,364.5 290.1,364.3 290.6,364.1 291.1,364 291.6,364 292.1,363.9 292.6,364.1 293.1,364.2 293.6,364.3 294.1,364.2 294.6,364.2 295.1,364.2 295.6,364.1 296.1,364.2 296.6,364.2 297.1,364.2 297.6,364.2 298.1,364 298.6,363.9 299.1,363.9 299.6,363.8 300.1,363.7 300.6,363.7 301.1,363.6 301.6,363.5 302.1,363.5 302.6,363.5 303.1,363.6 303.6,363.6 304.1,363.7 304.6,363.8 305.1,363.5 305.6,363.4 306.1,363.3 306.6,363.2 307.1,363.2 307.6,363.3 308.1,363.3 308.6,363.4 309.1,363.3 309.6,363.3 310.1,363.2 310.6,363.3 311.1,363.3 311.6,363.2 312.1,363.1 312.6,362.9 313.1,363 313.6,363.1 314.1,363.1 314.6,363.1 315.1,363 315.6,362.9 316.1,362.9 316.6,362.8 317.1,362.7 317.6,362.8 318.1,363 318.6,362.9 319.1,363 319.6,362.9 320.1,363 320.6,362.9 321.1,362.9 321.6,362.9 322.1,363 322.6,362.9 323.1,362.8 323.6,362.7 324.1,362.6 324.6,362.5 325.1,362.4 325.6,362.5 326.1,362.4 326.6,362.3 327.1,362.2 327.6,362.2 328.1,362.2 328.6,362 329.1,362.1 329.6,361.9 330.1,362 330.6,361.8 331.1,361.7 331.6,361.6 332.1,361.6 332.6,361.4 333.1,361.5 333.6,361.5 334.1,361.5 334.6,361.5 335.1,361.6 335.6,361.5 336.1,361.4 336.6,361.4 337.1,361.2 337.6,361.2 338.1,361.1 338.6,361 339.1,361 339.6,361 340.1,361 340.6,361.1 341.1,361 341.6,361.1 342.1,361.1 342.6,361 343.1,361 343.6,361.1 344.1,361.1 344.6,361.2 345.1,361.1 345.6,361.2 346.1,361.5 346.6,361.4 347.1,361.2 347.6,361.4 348.1,361.2 348.6,361 349.1,360.7 349.6,360.8 350.1,360.9 350.6,360.9 351.1,360.9 351.6,361 352.1,360.9 352.6,360.8 353.1,360.8 353.6,360.8 354.1,360.8 354.6,360.8 355.1,360.5 355.6,360.6 356.1,360.5 356.6,360.6 357.1,360.4 357.6,360.4 358.1,360.4 358.6,360.2 359.1,360.2 359.6,360.3 360.1,360.1 360.6,359.9 361.1,359.8 361.6,359.7 362.1,359.7 362.6,359.7 363.1,359.9 363.6,360 364.1,359.9 364.6,359.9 365.1,359.6 365.6,359.5 366.1,359.4 366.6,359.4 367.1,359.4 367.6,359.5 368.1,359.6 368.6,359.5 369.1,359.5 369.6,359.5 370.1,359.5 370.6,359.5 371.1,359.5 371.6,359.5 372.1,359.5 372.6,359.6 373.1,359.5 373.6,359.5 374.1,359.8 374.6,359.8 375.1,359.8 375.6,359.9 376.1,359.7 376.6,359.7 377.1,359.8 377.6,359.8 378.1,359.8 378.6,359.8 379.1,359.9 379.6,359.8 380.1,359.8 380.6,359.7 381.1,359.8 381.6,359.7 382.1,359.5 382.6,359.5 383.1,359.4 383.6,359.5 384.1,359.4 384.6,359.1 385.1,359.1 385.6,359.2 386.1,359.2 386.6,359.1 387.1,359.2 387.6,359.2 388.1,359.4 388.6,359.4 389.1,359.5 389.6,359.3 390.1,359.3 390.6,359.3 391.1,359.3 391.6,359.3 392.1,359.2 392.6,359.2 393.1,359.2 393.6,359.2 394.1,359.2 394.6,359.1 395.1,359.1 395.6,359.2 396.1,359.1 396.6,359.1 397.1,359 397.6,359.1 398.1,359 398.6,358.9 399.1,359 399.6,358.9 400.1,358.9 400.6,358.7 401.1,358.5 401.6,358.6 402.1,358.5 402.6,358.3 403.1,358.3 403.6,358.1 404.1,358.1 404.6,358.4 405.1,358.3 405.6,358.4 406.1,358.5 406.6,358.5 407.1,358.5 407.6,358.7 408.1,358.7 408.6,358.7 409.1,358.7 409.6,358.6 410.1,358.6 410.6,358.6 411.1,358.7 411.6,358.7 412.1,358.9 412.6,358.6 413.1,358.6 413.6,358.5 414.1,358.4 414.6,358.5 415.1,358.5 415.6,358.5 416.1,358.3 416.6,358.2 417.1,358.2 417.6,358.2 418.1,358.1 418.6,358.1 419.1,358.1 419.6,358 420.1,358.2 420.6,358.2 421.1,358.2 421.6,358.3 422.1,358.4 422.6,358.4 423.1,358.2 423.6,358.3 424.1,358.3 424.6,358.1 425.1,357.8 425.6,357.8 426.1,357.8 426.6,357.8 427.1,357.8 427.6,357.8 428.1,358.1 428.6,358.2 429.1,358.3 429.6,358.4 430.1,358.1 430.6,358.1 431.1,358.1 431.6,358.1 432.1,358.1 432.6,358.2 433.1,358.1 433.6,358.1 434.1,358.1 434.6,358 435.1,357.9 435.6,358 436.1,358.2 436.6,358.2 437.1,358.3 437.6,358.1 438.1,358.1 438.6,358.1 439.1,358.2 439.6,358 440.1,358.1 440.6,358.1 441.1,358.2 441.6,358.3 442.1,358.3 442.6,358.2 443.1,358.2 443.6,358 444.1,357.9 444.6,357.7 445.1,357.5 445.6,357.4 446.1,357.3 446.6,357.3 447.1,357.2 447.6,357.2 448.1,357.2 448.6,357.3 449.1,357.3 449.6,357.3 450.1,357.3 450.6,357.3 451.1,357.2 451.6,357.2 452.1,356.9 452.6,357.1 453.1,357.2 453.6,356.9 454.1,356.9 454.6,356.7 455.1,356.5 455.6,356.5 456.1,356.4 456.6,356.5 457.1,356.4 457.6,356.3 458.1,356.3 458.6,356.3 459.1,356.4 459.6,356.4 460.1,356.2 460.6,356.1 461.1,356.1 461.6,356 462.1,356.1 462.6,356 463.1,356 463.6,356 464.1,355.9 464.6,355.8 465.1,356 465.6,355.9 466.1,355.8 466.6,355.6 467.1,355.6 467.6,355.4 468.1,355.4 468.6,355.5 469.1,355.6 469.6,355.5 470.1,355.6 470.6,355.6 471.1,355.5 471.6,355.5 472.1,355.4 472.6,355.4 473.1,355.2 473.6,355 474.1,355.1 474.6,355 475.1,354.9 475.6,354.9 476.1,354.8 476.6,354.6 477.1,354.6 477.6,354.5 478.1,354.5 478.6,354.4 479.1,354.4 479.6,354.4 480.1,354.2 480.6,354.1 481.1,354.1 481.6,354.2 482.1,354.2 482.6,354.1 483.1,354.2 483.6,354.2 484.1,354.2 484.6,353.9 485.1,353.8 485.6,353.6 486.1,353.4 486.6,353.4 487.1,353.4 487.6,353.2 488.1,353.1 488.6,353.2 489.1,353.2 489.6,353 490.1,353 490.6,352.9 491.1,352.6 491.6,352.1 492.1,351.7 492.6,351.3 493.1,350.6 493.6,350.1 494.1,349.5 494.6,348.9 495.1,348.6 495.6,348.1 496.1,347.3 496.6,346.1 497.1,345.1 497.6,344.4 498.1,343.3 498.6,342.2 499.1,341.4 499.6,340.6 500.1,340.5 500.6,340.9 501.1,341.5 501.6,342.1 502.1,342.6 502.6,343.2 503.1,343.8 503.6,344.4 504.1,345.1 504.6,345.2 505.1,345 505.6,344.6 506.1,344.5 506.6,344.2 507.1,344.3 507.6,344.1 508.1,343.7 508.6,343.4 509.1,343.3 509.6,343.2 510.1,343.2 510.6,343.6 511.1,343.8 511.6,344.2 512.1,344.4 512.6,344.6 513.1,345 513.6,345.4 514.1,345.6 514.6,345.9 515.1,346.3 515.6,346.7 516.1,346.9 516.6,347.3 517.1,347.4 517.6,347.4 518.1,347.1 518.6,346.7 519.1,346.3 519.6,345.7 520.1,345.3 520.6,345 521.1,344.5 521.6,344.2 522.1,343.8 522.6,343.1 523.1,342.7 523.6,342.4 524.1,341.9 524.6,341.5 525.1,341.2 525.6,340.7 526.1,340.3 526.6,340.1 527.1,339.8 527.6,339.3 528.1,339 528.6,338.7 529.1,338.3 529.6,338.1 530.1,337.8 530.6,337.4 531.1,336.8 531.6,336.2 532.1,335.7 532.6,335 533.1,334.1 533.6,333.7 534.1,333.1 534.6,332.5 535.1,331.6 535.6,330.3 536.1,329 536.6,327.6 537.1,326.5 537.6,325.2 538.1,324.1" fill="none" stroke="#7030a0" stroke-width="2.6" stroke-linejoin="round" stroke-linecap="round" />
<polyline points="537.2,324 537.6,323.3 538.7,318.8 539.8,284 540.8,242.5 541.5,189.9 543,147 545.1,105.9 547.2,84.1 550,66.1" fill="none" stroke="#7030a0" stroke-width="3.0" stroke-linejoin="round" stroke-linecap="round" />
<path d="M71.6,368 L72.1,367.6 L72.6,367.4 L73.1,367.2 L73.6,367.7 L74.1,368 L74.6,368.1 L75.1,367.7 L75.6,367.2 L76.1,367 L76.6,367.2 L77.1,367.5 L77.6,367.7 L78.1,367.7 L78.6,367.7 L79.1,367.9 L79.6,367.8 L80.1,367.9 L80.6,367.8 L81.1,367.7 L81.6,367.8 L82.1,367.7 L82.6,367.7 L83.1,367.6 L83.6,367.7 L84.1,367.9 L84.6,368 L85.1,368 L85.6,368.1 L86.1,368.1 L86.6,368.1 L87.1,367.6 L87.6,367.4 L88.1,367 L88.6,367.3 L89.1,367.6 L89.6,367.6 L90.1,367.6 L90.6,367.5 L91.1,367.2 L91.6,367.4 L92.1,367.6 L92.6,368.1 L93.1,367.7 L93.6,367.8 L94.1,367.8 L94.6,367.7 L95.1,367.6 L95.6,367.6 L96.1,367.3 L96.6,367.2 L97.1,366.8 L97.6,367.1 L98.1,367.5 L98.6,367.6 L99.1,367.7 L99.6,367.6 L100.1,367.6 L100.6,367.8 L101.1,368.1 L101.6,368.3 L102.1,368.3 L102.6,368.3 L103.1,368.3 L103.6,368 L104.1,368.1 L104.6,367.9 L105.1,367.8 L105.6,367.7 L106.1,367.7 L106.6,367.8 L107.1,367.9 L107.6,367.7 L108.1,367.6 L108.6,367.5 L109.1,367.3 L109.6,367.5 L110.1,367.7 L110.6,368.1 L111.1,368.2 L111.6,368.2 L112.1,368.1 L112.6,367.9 L113.1,368.1 L113.6,368.2 L114.1,368 L114.6,367.9 L115.1,367.9 L115.6,367.7 L116.1,367.7 L116.6,367.5 L117.1,367.4 L117.6,367.2 L118.1,367.2 L118.6,367.2 L119.1,367.3 L119.6,367.4 L120.1,367.4 L120.6,367.3 L121.1,367.4 L121.6,367.3 L122.1,367.5 L122.6,367.6 L123.1,367.3 L123.6,367.1 L124.1,366.6 L124.6,366.9 L125.1,367.4 L125.6,367.8 L126.1,367.7 L126.6,367.7 L127.1,367.7 L127.6,367.7 L128.1,367.6 L128.6,367.4 L129.1,367.1 L129.6,367.2 L130.1,367.2 L130.6,367.3 L131.1,367.4 L131.6,367.4 L132.1,367.2 L132.6,366.9 L133.1,366.3 L133.6,366.6 L134.1,366.9 L134.6,367.1 L135.1,367.2 L135.6,367.4 L136.1,367.4 L136.6,367.6 L137.1,367.8 L137.6,367.7 L138.1,367.8 L138.6,367.7 L139.1,367.6 L139.6,367.8 L140.1,368.1 L140.6,368.1 L141.1,367.9 L141.6,367.8 L142.1,367.5 L142.6,367.5 L143.1,367.6 L143.6,367.8 L144.1,367.6 L144.6,367.4 L145.1,367.2 L145.6,367.1 L146.1,367.1 L146.6,367 L147.1,367.1 L147.6,367.4 L148.1,367.6 L148.6,367.4 L149.1,367.5 L149.6,367.5 L150.1,367.1 L150.6,367 L151.1,367 L151.6,367.1 L152.1,367.2 L152.6,367.4 L153.1,367.4 L153.6,367.6 L154.1,367.6 L154.6,367.5 L155.1,367.3 L155.6,367.5 L156.1,367.8 L156.6,368 L157.1,368 L157.6,367.9 L158.1,367.7 L158.6,367.5 L159.1,367.7 L159.6,367.8 L160.1,367.9 L160.6,367.9 L161.1,367.8 L161.6,367.8 L162.1,367.8 L162.6,367.9 L163.1,367.9 L163.6,367.7 L164.1,367.4 L164.6,367.2 L165.1,367.3 L165.6,367.6 L166.1,367.9 L166.6,367.8 L167.1,367.7 L167.6,367.8 L168.1,367.7 L168.6,367.7 L169.1,367.7 L169.6,367.8 L170.1,367.7 L170.6,367.7 L171.1,367.6 L171.6,367.5 L172.1,367.5 L172.6,367.5 L173.1,367.5 L173.6,367.5 L174.1,367.4 L174.6,367.4 L175.1,367.4 L175.6,367.3 L176.1,367.1 L176.6,367 L177.1,367.2 L177.6,367.5 L178.1,367.8 L178.6,367.7 L179.1,367.7 L179.6,367.5 L180.1,367.5 L180.6,367.5 L181.1,367.6 L181.6,367.5 L182.1,367.2 L182.6,367 L183.1,367.2 L183.6,367.3 L184.1,367.5 L184.6,367.6 L185.1,367.5 L185.6,367.5 L186.1,367.6 L186.6,367.5 L187.1,367.5 L187.6,367.2 L188.1,367.4 L188.6,367.3 L189.1,367.2 L189.6,367.2 L190.1,367.1 L190.6,366.8 L191.1,366.3 L191.6,365.9 L192.1,365.9 L192.6,366.2 L193.1,366.6 L193.6,366.4 L194.1,366.2 L194.6,366.2 L195.1,366.4 L195.6,366.7 L196.1,366.9 L196.6,366.7 L197.1,366.4 L197.6,366.2 L198.1,366.6 L198.6,367 L199.1,367.3 L199.6,367.1 L200.1,366.9 L200.6,366.9 L201.1,366.8 L201.6,366.5 L202.1,366 L202.6,366.3 L203.1,366.6 L203.6,366.7 L204.1,366.5 L204.6,366.2 L205.1,365.9 L205.6,366 L206.1,365.9 L206.6,365.8 L207.1,366 L207.6,366.2 L208.1,366.4 L208.6,366.4 L209.1,366.4 L209.6,366.5 L210.1,366.3 L210.6,366.3 L211.1,366.2 L211.6,366.1 L212.1,366.1 L212.6,366.2 L213.1,366.2 L213.6,366.5 L214.1,366.6 L214.6,366.4 L215.1,366.1 L215.6,366.1 L216.1,366.3 L216.6,366.5 L217.1,366.6 L217.6,366.8 L218.1,367 L218.6,367.2 L219.1,367 L219.6,366.8 L220.1,366.4 L220.6,366.4 L221.1,366.3 L221.6,366.3 L222.1,366.5 L222.6,366.7 L223.1,366.9 L223.6,366.8 L224.1,366.7 L224.6,366.6 L225.1,366.5 L225.6,366.5 L226.1,366.5 L226.6,366.7 L227.1,366.9 L227.6,366.8 L228.1,366.8 L228.6,366.5 L229.1,366.3 L229.6,366.3 L230.1,366.5 L230.6,366.8 L231.1,366.6 L231.6,366.3 L232.1,366.1 L232.6,366.4 L233.1,366.5 L233.6,367 L234.1,366.8 L234.6,366.6 L235.1,366.4 L235.6,366 L236.1,365.7 L236.6,365.6 L237.1,365.5 L237.6,365.4 L238.1,365.2 L238.6,365.2 L239.1,365.5 L239.6,365.7 L240.1,365.8 L240.6,366.1 L241.1,366.1 L241.6,366.2 L242.1,366.2 L242.6,366.2 L243.1,366.2 L243.6,365.9 L244.1,366 L244.6,366.1 L245.1,366.1 L245.6,366.1 L246.1,366.2 L246.6,366 L247.1,365.9 L247.6,365.5 L248.1,365.2 L248.6,364.8 L249.1,364.9 L249.6,365.2 L250.1,365.2 L250.6,365.1 L251.1,365.3 L251.6,365.4 L252.1,365.4 L252.6,365.3 L253.1,365.2 L253.6,365.6 L254.1,365.8 L254.6,365.8 L255.1,365.5 L255.6,365.3 L256.1,365 L256.6,365.2 L257.1,365.3 L257.6,365.6 L258.1,365.6 L258.6,365.6 L259.1,365.5 L259.6,365.6 L260.1,365.7 L260.6,365.7 L261.1,365.3 L261.6,365.4 L262.1,365.3 L262.6,365.2 L263.1,365 L263.6,364.9 L264.1,365.3 L264.6,365.5 L265.1,365.6 L265.6,365.5 L266.1,365.5 L266.6,365.2 L267.1,365.2 L267.6,365.4 L268.1,365.4 L268.6,365.5 L269.1,365.5 L269.6,365.2 L270.1,365.1 L270.6,364.7 L271.1,364.4 L271.6,364.9 L272.1,365.3 L272.6,365.7 L273.1,365.7 L273.6,365.9 L274.1,365.9 L274.6,366.2 L275.1,366.2 L275.6,366.1 L276.1,365.9 L276.6,365.6 L277.1,365.5 L277.6,365.6 L278.1,365.9 L278.6,366.3 L279.1,366.4 L279.6,366.1 L280.1,366.2 L280.6,366.2 L281.1,366.3 L281.6,366.1 L282.1,366.1 L282.6,366.3 L283.1,366.3 L283.6,366.1 L284.1,365.8 L284.6,365.5 L285.1,365.6 L285.6,366 L286.1,366.1 L286.6,365.7 L287.1,365.3 L287.6,365.1 L288.1,365.4 L288.6,365.6 L289.1,365.7 L289.6,365.8 L290.1,365.6 L290.6,365.4 L291.1,365.5 L291.6,365.4 L292.1,365.5 L292.6,365.2 L293.1,365 L293.6,364.7 L294.1,364.7 L294.6,364.5 L295.1,364.3 L295.6,364.3 L296.1,364 L296.6,364 L297.1,364.3 L297.6,364.7 L298.1,364.9 L298.6,364.5 L299.1,364.3 L299.6,364 L300.1,364.4 L300.6,364.8 L301.1,365.3 L301.6,365.3 L302.1,365.3 L302.6,365.3 L303.1,365.1 L303.6,365.2 L304.1,365.2 L304.6,365.1 L305.1,364.9 L305.6,365.1 L306.1,364.8 L306.6,364.4 L307.1,364.1 L307.6,364.6 L308.1,365.2 L308.6,365.6 L309.1,365.6 L309.6,365.4 L310.1,365.3 L310.6,365.3 L311.1,365.3 L311.6,365.1 L312.1,364.8 L312.6,364.3 L313.1,363.8 L313.6,364.1 L314.1,364.5 L314.6,364.9 L315.1,364.9 L315.6,364.8 L316.1,364.7 L316.6,364.6 L317.1,364.7 L317.6,364.7 L318.1,364.8 L318.6,364.7 L319.1,364.8 L319.6,364.9 L320.1,364.8 L320.6,364.8 L321.1,364.7 L321.6,364.6 L322.1,364.6 L322.6,364.7 L323.1,365 L323.6,365.1 L324.1,365 L324.6,365 L325.1,365 L325.6,364.9 L326.1,364.9 L326.6,364.9 L327.1,364.8 L327.6,364.8 L328.1,364.8 L328.6,364.8 L329.1,365 L329.6,365.2 L330.1,364.8 L330.6,364.7 L331.1,364.4 L331.6,364.4 L332.1,364.5 L332.6,364.7 L333.1,364.5 L333.6,364.3 L334.1,364.1 L334.6,363.7 L335.1,363.5 L335.6,363.4 L336.1,364 L336.6,364.3 L337.1,364.5 L337.6,364.5 L338.1,364.3 L338.6,364.3 L339.1,363.9 L339.6,363.6 L340.1,363.3 L340.6,363.7 L341.1,364.2 L341.6,364.6 L342.1,364.2 L342.6,363.8 L343.1,363.4 L343.6,363.9 L344.1,364.3 L344.6,364.7 L345.1,364.4 L345.6,364 L346.1,363.5 L346.6,363.7 L347.1,364.1 L347.6,364.4 L348.1,364.3 L348.6,364.2 L349.1,364.2 L349.6,364 L350.1,363.8 L350.6,363.6 L351.1,364 L351.6,364.1 L352.1,364.3 L352.6,363.8 L353.1,363.3 L353.6,363 L354.1,363.6 L354.6,363.8 L355.1,364 L355.6,364 L356.1,364.3 L356.6,364.5 L357.1,364.4 L357.6,364.2 L358.1,363.9 L358.6,363.9 L359.1,364 L359.6,364.2 L360.1,364.1 L360.6,363.9 L361.1,364 L361.6,364 L362.1,364.3 L362.6,364.3 L363.1,364.3 L363.6,364.1 L364.1,364.1 L364.6,364.1 L365.1,364.2 L365.6,364.3 L366.1,364.2 L366.6,363.9 L367.1,363.8 L367.6,363.6 L368.1,363.6 L368.6,363.1 L369.1,363.4 L369.6,363.8 L370.1,364 L370.6,363.9 L371.1,363.8 L371.6,363.7 L372.1,363.8 L372.6,364 L373.1,363.9 L373.6,363.7 L374.1,363.6 L374.6,363.3 L375.1,363.6 L375.6,363.7 L376.1,363.8 L376.6,363.8 L377.1,363.8 L377.6,363.8 L378.1,363.7 L378.6,363.3 L379.1,362.9 L379.6,362.9 L380.1,362.7 L380.6,362.9 L381.1,363.2 L381.6,363.6 L382.1,364.2 L382.6,363.7 L383.1,363.6 L383.6,363.2 L384.1,363.3 L384.6,363.5 L385.1,363.8 L385.6,363.9 L386.1,364.1 L386.6,364.2 L387.1,363.9 L387.6,363.6 L388.1,363.3 L388.6,363.6 L389.1,363.8 L389.6,363.9 L390.1,363.6 L390.6,363.2 L391.1,362.8 L391.6,363 L392.1,363 L392.6,363.2 L393.1,363.3 L393.6,363.5 L394.1,363.5 L394.6,363.7 L395.1,364 L395.6,364.1 L396.1,364 L396.6,363.7 L397.1,363.4 L397.6,363.7 L398.1,364.2 L398.6,364.3 L399.1,364.2 L399.6,364.3 L400.1,364.5 L400.6,364.3 L401.1,364.2 L401.6,364.2 L402.1,363.9 L402.6,364 L403.1,363.9 L403.6,364 L404.1,364 L404.6,364.2 L405.1,364.2 L405.6,364.2 L406.1,364.1 L406.6,364.2 L407.1,364.2 L407.6,364.1 L408.1,363.8 L408.6,363.4 L409.1,363.2 L409.6,363.2 L410.1,363.4 L410.6,363.6 L411.1,363.4 L411.6,363.2 L412.1,363.2 L412.6,363.4 L413.1,363.9 L413.6,364.3 L414.1,363.9 L414.6,363.4 L415.1,362.9 L415.6,363.2 L416.1,363.6 L416.6,363.7 L417.1,363.5 L417.6,363.2 L418.1,362.9 L418.6,362.8 L419.1,363 L419.6,363.2 L420.1,363.3 L420.6,363.7 L421.1,363.9 L421.6,363.8 L422.1,363.9 L422.6,363.8 L423.1,364 L423.6,364.1 L424.1,364.2 L424.6,364.1 L425.1,364.1 L425.6,364.1 L426.1,364.2 L426.6,364.2 L427.1,364 L427.6,363.8 L428.1,363.9 L428.6,363.8 L429.1,363.9 L429.6,363.8 L430.1,363.9 L430.6,363.7 L431.1,363.6 L431.6,363.2 L432.1,363 L432.6,362.9 L433.1,362.8 L433.6,363.2 L434.1,363.6 L434.6,364.1 L435.1,364 L435.6,363.9 L436.1,363.8 L436.6,363.9 L437.1,364.1 L437.6,364.3 L438.1,364.1 L438.6,364.1 L439.1,364 L439.6,363.9 L440.1,363.8 L440.6,363.6 L441.1,363.7 L441.6,363.6 L442.1,363.3 L442.6,363.2 L443.1,363.1 L443.6,363 L444.1,363.4 L444.6,363.7 L445.1,364 L445.6,363.7 L446.1,363.2 L446.6,362.9 L447.1,362.9 L447.6,363 L448.1,363.1 L448.6,363.6 L449.1,364 L449.6,364.4 L450.1,364.1 L450.6,363.8 L451.1,363.5 L451.6,363.9 L452.1,363.9 L452.6,364 L453.1,364 L453.6,363.9 L454.1,363.7 L454.6,363.7 L455.1,363.7 L455.6,363.7 L456.1,363.6 L456.6,363.5 L457.1,363.6 L457.6,363.6 L458.1,363.7 L458.6,363.7 L459.1,363.8 L459.6,363.8 L460.1,363.8 L460.6,363.9 L461.1,363.8 L461.6,364 L462.1,364.1 L462.6,364.2 L463.1,364.3 L463.6,364.1 L464.1,364.2 L464.6,364.2 L465.1,364.3 L465.6,364.2 L466.1,364 L466.6,363.9 L467.1,363.8 L467.6,363.6 L468.1,363.6 L468.6,363.7 L469.1,364 L469.6,364.1 L470.1,364.2 L470.6,363.9 L471.1,363.8 L471.6,363.6 L472.1,363.5 L472.6,363.7 L473.1,364.1 L473.6,364.4 L474.1,364.2 L474.6,364.4 L475.1,364.4 L475.6,364.3 L476.1,364.4 L476.6,364.2 L477.1,364 L477.6,364.1 L478.1,364 L478.6,364.1 L479.1,364.1 L479.6,364.4 L480.1,364.4 L480.6,364.3 L481.1,364.1 L481.6,364.1 L482.1,363.9 L482.6,363.9 L483.1,363.8 L483.6,363.9 L484.1,363.8 L484.6,363.7 L485.1,363.4 L485.6,363.4 L486.1,363.4 L486.6,363.2 L487.1,363.4 L487.6,363.4 L488.1,363.6 L488.6,363.5 L489.1,363.3 L489.6,363.4 L490.1,363.6 L490.6,363.5 L491.1,363.7 L491.6,363.8 L492.1,363.9 L492.6,363.9 L493.1,363.9 L493.6,363.5 L494.1,363.1 L494.6,362.7 L495.1,362.8 L495.6,362.6 L496.1,362.9 L496.6,363.1 L497.1,363.4 L497.6,363.6 L498.1,363.4 L498.6,363 L499.1,363.1 L499.6,363.5 L500.1,363.9 L500.6,364.3 L501.1,364.2 L501.6,364.2 L502.1,364.3 L502.6,364.4 L503.1,364.1 L503.6,364.2 L504.1,363.9 L504.6,364 L505.1,364 L505.6,363.9 L506.1,363.9 L506.6,363.8 L507.1,363.7 L507.6,363.7 L508.1,363.7 L508.6,363.5 L509.1,363.3 L509.6,363.2 L510.1,362.8 L510.6,362.6 L511.1,362.4 L511.6,362 L512.1,361.7 L512.6,361.2 L513.1,361.1 L513.6,361.2 L514.1,361.2 L514.6,361.1 L515.1,361 L515.6,360.7 L516.1,360.3 L516.6,360.3 L517.1,360 L517.6,360 L518.1,359.8 L518.6,359.6 L519.1,359.6 L519.6,359.2 L520.1,359.1 L520.6,358.7 L521.1,358.2 L521.6,357.6 L522.1,357.6 L522.6,358 L523.1,358.1 L523.6,357.7 L524.1,357.4 L524.6,357.3 L525.1,357.3 L525.6,357.4 L526.1,357.4 L526.6,357.4 L527.1,357.4 L527.6,357.4 L528.1,357.4 L528.6,357.5 L529.1,357.4 L529.6,357.6 L530.1,357.8 L530.6,357.9 L531.1,357.9 L531.6,357.8 L532.1,357.8 L532.6,357.7 L533.1,357.5 L533.6,357.5 L534.1,357.5 L534.6,357.6 L535.1,357.7 L535.6,357.3 L536.1,356.7 L536.6,356.2 L537.1,356.4 L537.6,356.6 L538.1,356.8 L538.1,360.5 L537.6,360.8 L537.1,361.2 L536.6,361.5 L536.1,361.5 L535.6,361.4 L535.1,361.3 L534.6,361.6 L534.1,361.9 L533.6,362.4 L533.1,362.1 L532.6,362 L532.1,361.8 L531.6,361.7 L531.1,361.7 L530.6,361.5 L530.1,361.5 L529.6,361.3 L529.1,361.2 L528.6,361.4 L528.1,361.5 L527.6,361.6 L527.1,361.6 L526.6,361.6 L526.1,361.6 L525.6,361.3 L525.1,361 L524.6,360.8 L524.1,361 L523.6,361.4 L523.1,361.9 L522.6,361.9 L522.1,361.8 L521.6,362 L521.1,362.3 L520.6,362.5 L520.1,362.5 L519.6,362.8 L519.1,363.1 L518.6,363.2 L518.1,363.8 L517.6,364.3 L517.1,364.7 L516.6,364.6 L516.1,364.3 L515.6,364.3 L515.1,364.7 L514.6,364.9 L514.1,365 L513.6,365.2 L513.1,365.3 L512.6,365.6 L512.1,365.8 L511.6,365.8 L511.1,365.8 L510.6,366.1 L510.1,366.5 L509.6,367 L509.1,367.3 L508.6,367.7 L508.1,368.1 L507.6,367.9 L507.1,367.7 L506.6,367.5 L506.1,367.8 L505.6,368.1 L505.1,368.3 L504.6,368 L504.1,367.6 L503.6,367.5 L503.1,367.4 L502.6,367.6 L502.1,367.5 L501.6,367.4 L501.1,367.5 L500.6,367.6 L500.1,367.6 L499.6,367.5 L499.1,367.5 L498.6,367.3 L498.1,367.6 L497.6,367.6 L497.1,367.9 L496.6,367.9 L496.1,368.1 L495.6,367.6 L495.1,367.5 L494.6,367.1 L494.1,367.3 L493.6,367.5 L493.1,367.7 L492.6,367.8 L492.1,367.9 L491.6,367.9 L491.1,367.6 L490.6,367.3 L490.1,367.3 L489.6,367.2 L489.1,367 L488.6,367.2 L488.1,367.3 L487.6,367.1 L487.1,367.1 L486.6,366.8 L486.1,366.9 L485.6,366.8 L485.1,366.9 L484.6,367.2 L484.1,367.5 L483.6,367.6 L483.1,367.4 L482.6,367.4 L482.1,367.4 L481.6,367.6 L481.1,367.5 L480.6,367.6 L480.1,367.6 L479.6,367.6 L479.1,367.4 L478.6,367.5 L478.1,367.5 L477.6,367.9 L477.1,368.1 L476.6,368.6 L476.1,368.6 L475.6,368.4 L475.1,368.3 L474.6,368.1 L474.1,367.8 L473.6,367.7 L473.1,367.8 L472.6,367.7 L472.1,367.8 L471.6,367.7 L471.1,367.6 L470.6,367.5 L470.1,367.7 L469.6,367.7 L469.1,367.6 L468.6,367.3 L468.1,367.3 L467.6,367.3 L467.1,367.7 L466.6,368 L466.1,368.3 L465.6,368.3 L465.1,368.4 L464.6,368.1 L464.1,367.9 L463.6,367.6 L463.1,367.5 L462.6,367.5 L462.1,367.4 L461.6,367.3 L461.1,367.3 L460.6,367.6 L460.1,367.7 L459.6,367.8 L459.1,367.9 L458.6,367.9 L458.1,367.7 L457.6,367.4 L457.1,367.1 L456.6,367 L456.1,367.1 L455.6,367.2 L455.1,367.2 L454.6,367.3 L454.1,367.3 L453.6,367.4 L453.1,367.4 L452.6,367.3 L452.1,367.6 L451.6,367.9 L451.1,367.9 L450.6,367.9 L450.1,368 L449.6,368 L449.1,368.2 L448.6,368.3 L448.1,368.2 L447.6,368 L447.1,367.9 L446.6,367.7 L446.1,367.5 L445.6,367.4 L445.1,367.2 L444.6,367.4 L444.1,367.7 L443.6,367.9 L443.1,367.9 L442.6,367.9 L442.1,367.9 L441.6,367.9 L441.1,367.8 L440.6,367.4 L440.1,367.8 L439.6,368.1 L439.1,368.5 L438.6,368.2 L438.1,367.8 L437.6,367.5 L437.1,367.4 L436.6,367.4 L436.1,367.5 L435.6,367.5 L435.1,367.6 L434.6,367.6 L434.1,367.4 L433.6,367.4 L433.1,367.4 L432.6,367.5 L432.1,367.6 L431.6,367.8 L431.1,368 L430.6,367.7 L430.1,367.6 L429.6,367.5 L429.1,367.5 L428.6,367.3 L428.1,367.5 L427.6,367.4 L427.1,367.5 L426.6,367.8 L426.1,367.9 L425.6,367.8 L425.1,367.6 L424.6,367.4 L424.1,367.3 L423.6,367.4 L423.1,367.6 L422.6,367.7 L422.1,367.7 L421.6,367.5 L421.1,367.5 L420.6,367.5 L420.1,367.3 L419.6,367.5 L419.1,367.2 L418.6,367.1 L418.1,367.2 L417.6,367.3 L417.1,367.5 L416.6,367.7 L416.1,367.7 L415.6,367.6 L415.1,367.5 L414.6,367.5 L414.1,367.6 L413.6,367.6 L413.1,367.7 L412.6,367.6 L412.1,367.7 L411.6,367.5 L411.1,367.4 L410.6,367.3 L410.1,367.6 L409.6,367.7 L409.1,368.1 L408.6,368.1 L408.1,368.2 L407.6,368.4 L407.1,368.2 L406.6,367.8 L406.1,367.4 L405.6,367.9 L405.1,368.3 L404.6,368.6 L404.1,368.3 L403.6,368.2 L403.1,368 L402.6,367.9 L402.1,367.5 L401.6,367.5 L401.1,367.5 L400.6,367.5 L400.1,367.7 L399.6,367.4 L399.1,367.4 L398.6,367.4 L398.1,368 L397.6,368.2 L397.1,368.6 L396.6,368.2 L396.1,367.8 L395.6,367.3 L395.1,367.7 L394.6,368 L394.1,368.4 L393.6,368.2 L393.1,367.9 L392.6,367.7 L392.1,367.6 L391.6,367.5 L391.1,367.4 L390.6,367.4 L390.1,367.4 L389.6,367.4 L389.1,367.7 L388.6,367.8 L388.1,368 L387.6,368 L387.1,367.9 L386.6,367.9 L386.1,367.9 L385.6,367.9 L385.1,367.9 L384.6,368 L384.1,368.2 L383.6,368.6 L383.1,368.3 L382.6,367.7 L382.1,367.4 L381.6,367.2 L381.1,367.2 L380.6,367.3 L380.1,367.1 L379.6,367.3 L379.1,367.3 L378.6,367.6 L378.1,368 L377.6,368.2 L377.1,367.8 L376.6,367.4 L376.1,367 L375.6,367.1 L375.1,367.1 L374.6,367 L374.1,367 L373.6,366.9 L373.1,366.9 L372.6,367.3 L372.1,367.3 L371.6,367.5 L371.1,367.6 L370.6,367.5 L370.1,367.6 L369.6,367.6 L369.1,367.4 L368.6,367.3 L368.1,367.7 L367.6,367.7 L367.1,367.7 L366.6,367.8 L366.1,368 L365.6,368.1 L365.1,367.9 L364.6,367.8 L364.1,367.7 L363.6,367.6 L363.1,367.8 L362.6,367.8 L362.1,368.1 L361.6,368.1 L361.1,368.5 L360.6,368.3 L360.1,368.3 L359.6,368.4 L359.1,368.2 L358.6,368.1 L358.1,368.2 L357.6,368.1 L357.1,368 L356.6,367.8 L356.1,367.7 L355.6,367.6 L355.1,367.8 L354.6,367.9 L354.1,367.9 L353.6,367.7 L353.1,367.5 L352.6,367.5 L352.1,367.5 L351.6,367.6 L351.1,367.7 L350.6,367.7 L350.1,367.7 L349.6,367.7 L349.1,367.8 L348.6,367.8 L348.1,367.8 L347.6,367.9 L347.1,368.2 L346.6,368.5 L346.1,369 L345.6,368.7 L345.1,368.4 L344.6,367.9 L344.1,368 L343.6,368 L343.1,368 L342.6,367.9 L342.1,367.8 L341.6,367.7 L341.1,367.8 L340.6,367.8 L340.1,367.9 L339.6,367.9 L339.1,367.9 L338.6,368.1 L338.1,368 L337.6,368 L337.1,367.8 L336.6,368 L336.1,368.1 L335.6,367.9 L335.1,368 L334.6,368.3 L334.1,368.7 L333.6,368.4 L333.1,368.1 L332.6,367.9 L332.1,367.9 L331.6,368 L331.1,368.2 L330.6,368.3 L330.1,368.3 L329.6,368.5 L329.1,368.5 L328.6,368.5 L328.1,368.8 L327.6,368.7 L327.1,368.7 L326.6,368.6 L326.1,368.9 L325.6,369.1 L325.1,369.4 L324.6,369.1 L324.1,368.7 L323.6,368.4 L323.1,368.7 L322.6,368.7 L322.1,369 L321.6,368.8 L321.1,368.7 L320.6,368.7 L320.1,368.6 L319.6,368.6 L319.1,368.4 L318.6,368.3 L318.1,368.4 L317.6,368.4 L317.1,368.6 L316.6,368.8 L316.1,369.1 L315.6,369 L315.1,368.9 L314.6,368.6 L314.1,368.6 L313.6,368.5 L313.1,368.7 L312.6,368.6 L312.1,368.6 L311.6,368.3 L311.1,368.7 L310.6,368.9 L310.1,369.2 L309.6,369.1 L309.1,369.2 L308.6,369 L308.1,369 L307.6,368.9 L307.1,368.8 L306.6,369 L306.1,369.3 L305.6,369.3 L305.1,368.8 L304.6,368.7 L304.1,368.4 L303.6,368.5 L303.1,368.5 L302.6,368.8 L302.1,368.8 L301.6,368.8 L301.1,368.8 L300.6,368.8 L300.1,368.9 L299.6,368.9 L299.1,368.9 L298.6,369 L298.1,369.1 L297.6,369.2 L297.1,369.2 L296.6,369.2 L296.1,369.2 L295.6,369.5 L295.1,369.5 L294.6,369.2 L294.1,368.9 L293.6,368.4 L293.1,368.7 L292.6,368.6 L292.1,368.8 L291.6,369 L291.1,369.2 L290.6,369.3 L290.1,369.5 L289.6,369.7 L289.1,369.6 L288.6,369.7 L288.1,369.6 L287.6,369.5 L287.1,369.7 L286.6,370.1 L286.1,370.4 L285.6,370.4 L285.1,370 L284.6,370 L284.1,370 L283.6,370 L283.1,369.9 L282.6,369.8 L282.1,369.6 L281.6,369.5 L281.1,369.7 L280.6,369.6 L280.1,369.6 L279.6,369.7 L279.1,370.1 L278.6,370.2 L278.1,370.1 L277.6,370.1 L277.1,370.4 L276.6,370 L276.1,369.8 L275.6,369.6 L275.1,369.7 L274.6,369.7 L274.1,369.4 L273.6,369.6 L273.1,369.7 L272.6,369.9 L272.1,369.7 L271.6,369.6 L271.1,369.3 L270.6,369.1 L270.1,369 L269.6,368.7 L269.1,369 L268.6,369 L268.1,369 L267.6,369.1 L267.1,369.1 L266.6,369.2 L266.1,369.2 L265.6,369.1 L265.1,369 L264.6,369.1 L264.1,369.1 L263.6,369 L263.1,369.2 L262.6,369.3 L262.1,369.5 L261.6,369.6 L261.1,369.6 L260.6,370 L260.1,370 L259.6,370 L259.1,369.9 L258.6,370 L258.1,370.1 L257.6,370 L257.1,369.5 L256.6,369 L256.1,368.5 L255.6,368.8 L255.1,369.1 L254.6,369.4 L254.1,369.4 L253.6,369.2 L253.1,368.8 L252.6,368.7 L252.1,368.8 L251.6,368.9 L251.1,369.2 L250.6,369.5 L250.1,369.9 L249.6,369.8 L249.1,369.4 L248.6,369.1 L248.1,369.4 L247.6,369.7 L247.1,369.9 L246.6,369.8 L246.1,369.8 L245.6,369.5 L245.1,369.8 L244.6,370.1 L244.1,370.4 L243.6,370.1 L243.1,370.1 L242.6,369.9 L242.1,369.8 L241.6,369.6 L241.1,369.4 L240.6,369.8 L240.1,370 L239.6,370.3 L239.1,369.9 L238.6,369.5 L238.1,369.3 L237.6,369.9 L237.1,370.3 L236.6,370.8 L236.1,370.4 L235.6,370.2 L235.1,370 L234.6,370.1 L234.1,370.3 L233.6,370.5 L233.1,370.6 L232.6,371 L232.1,371.2 L231.6,370.9 L231.1,370.6 L230.6,370.3 L230.1,370.2 L229.6,370.2 L229.1,370.4 L228.6,370.4 L228.1,370.6 L227.6,370.5 L227.1,370.5 L226.6,370.2 L226.1,370 L225.6,369.9 L225.1,369.9 L224.6,370 L224.1,370.2 L223.6,370.3 L223.1,370.4 L222.6,370.8 L222.1,371.1 L221.6,371.5 L221.1,371.1 L220.6,370.7 L220.1,370.3 L219.6,370.6 L219.1,370.7 L218.6,370.9 L218.1,370.5 L217.6,370.1 L217.1,369.8 L216.6,370 L216.1,370.2 L215.6,370.4 L215.1,370.1 L214.6,370 L214.1,369.9 L213.6,369.9 L213.1,369.7 L212.6,369.8 L212.1,369.8 L211.6,369.9 L211.1,370.1 L210.6,370.4 L210.1,370.5 L209.6,370.9 L209.1,370.7 L208.6,370.7 L208.1,370.8 L207.6,370.8 L207.1,370.7 L206.6,370.7 L206.1,370.8 L205.6,370.9 L205.1,370.8 L204.6,370.6 L204.1,370.5 L203.6,370.3 L203.1,370.2 L202.6,370 L202.1,369.9 L201.6,370.2 L201.1,370.4 L200.6,370.4 L200.1,370.4 L199.6,370.4 L199.1,370.6 L198.6,370.8 L198.1,370.9 L197.6,371 L197.1,371 L196.6,371.1 L196.1,371.1 L195.6,370.9 L195.1,370.7 L194.6,370.6 L194.1,370.3 L193.6,370.2 L193.1,370.2 L192.6,370 L192.1,369.8 L191.6,370 L191.1,370.2 L190.6,370.4 L190.1,370.4 L189.6,370.9 L189.1,371.2 L188.6,371.6 L188.1,371.5 L187.6,370.9 L187.1,370.9 L186.6,371.1 L186.1,371.5 L185.6,371.7 L185.1,371.6 L184.6,371.8 L184.1,371.7 L183.6,371.8 L183.1,372 L182.6,372.2 L182.1,371.8 L181.6,371.5 L181.1,371 L180.6,371 L180.1,371.2 L179.6,371.3 L179.1,371.6 L178.6,371.6 L178.1,371.7 L177.6,371.5 L177.1,371.3 L176.6,371.1 L176.1,371 L175.6,370.9 L175.1,370.7 L174.6,370.7 L174.1,370.8 L173.6,370.8 L173.1,371.4 L172.6,371.8 L172.1,372.3 L171.6,372.2 L171.1,372.3 L170.6,372.3 L170.1,372 L169.6,371.8 L169.1,371.4 L168.6,371.7 L168.1,372 L167.6,372.3 L167.1,371.8 L166.6,371.6 L166.1,371.3 L165.6,371.2 L165.1,371 L164.6,371.1 L164.1,371.1 L163.6,371.3 L163.1,371.2 L162.6,371.4 L162.1,371.5 L161.6,371.6 L161.1,371.6 L160.6,371.6 L160.1,371.6 L159.6,371.5 L159.1,371.3 L158.6,371 L158.1,371.2 L157.6,371.5 L157.1,371.6 L156.6,371.6 L156.1,371.4 L155.6,371.1 L155.1,371.2 L154.6,371.7 L154.1,372.1 L153.6,371.9 L153.1,371.5 L152.6,371.4 L152.1,371.2 L151.6,371.1 L151.1,371 L150.6,370.8 L150.1,370.7 L149.6,370.9 L149.1,371.1 L148.6,371.2 L148.1,371.6 L147.6,371.4 L147.1,371.2 L146.6,371.1 L146.1,371.1 L145.6,371.2 L145.1,371.3 L144.6,371.3 L144.1,371.3 L143.6,371.4 L143.1,371.2 L142.6,371.2 L142.1,371.3 L141.6,371.4 L141.1,371.3 L140.6,371.3 L140.1,371.7 L139.6,371.8 L139.1,372 L138.6,372 L138.1,371.8 L137.6,371.5 L137.1,371.5 L136.6,371.2 L136.1,370.9 L135.6,370.9 L135.1,370.8 L134.6,370.9 L134.1,370.9 L133.6,370.8 L133.1,370.7 L132.6,370.8 L132.1,370.7 L131.6,370.5 L131.1,370.7 L130.6,370.8 L130.1,370.9 L129.6,371 L129.1,370.9 L128.6,371.1 L128.1,371.2 L127.6,371.2 L127.1,371.2 L126.6,371.3 L126.1,371.6 L125.6,371.8 L125.1,371.6 L124.6,371.3 L124.1,371.1 L123.6,371.4 L123.1,371.4 L122.6,371.5 L122.1,371.4 L121.6,371.3 L121.1,371.4 L120.6,371.3 L120.1,371.2 L119.6,371 L119.1,371.1 L118.6,371.4 L118.1,371.6 L117.6,371.3 L117.1,371.2 L116.6,371.1 L116.1,371.2 L115.6,371.2 L115.1,371.3 L114.6,371.6 L114.1,372 L113.6,372.4 L113.1,372.4 L112.6,372.4 L112.1,372.6 L111.6,372.6 L111.1,372.6 L110.6,372.4 L110.1,372.2 L109.6,372.2 L109.1,372.1 L108.6,372.3 L108.1,372.5 L107.6,372.7 L107.1,372.5 L106.6,372 L106.1,371.6 L105.6,371.4 L105.1,371.4 L104.6,371.4 L104.1,371.7 L103.6,371.6 L103.1,372 L102.6,372.1 L102.1,372.3 L101.6,372.4 L101.1,372.5 L100.6,372.3 L100.1,372.2 L99.6,372.3 L99.1,372.5 L98.6,372.6 L98.1,372.4 L97.6,372.2 L97.1,371.9 L96.6,371.7 L96.1,371.3 L95.6,371 L95.1,371.5 L94.6,371.9 L94.1,372.4 L93.6,372 L93.1,371.6 L92.6,371.6 L92.1,371.7 L91.6,371.9 L91.1,372.2 L90.6,372.1 L90.1,371.8 L89.6,371.4 L89.1,371.6 L88.6,371.4 L88.1,371.4 L87.6,371.5 L87.1,371.5 L86.6,371.7 L86.1,372.1 L85.6,372.3 L85.1,372.5 L84.6,372.2 L84.1,371.8 L83.6,371.3 L83.1,371.1 L82.6,371.2 L82.1,371.2 L81.6,371.6 L81.1,371.7 L80.6,372 L80.1,371.8 L79.6,371.4 L79.1,371.1 L78.6,371.4 L78.1,371.9 L77.6,372.3 L77.1,372.1 L76.6,371.8 L76.1,371.6 L75.6,371.5 L75.1,371.6 L74.6,371.6 L74.1,371.6 L73.6,371.6 L73.1,371.3 L72.6,371.4 L72.1,371.7 L71.6,372.1Z" fill="#00b0f0"/><polyline points="71.6,369.9 72.1,369.7 72.6,369.6 73.1,369.6 73.6,369.8 74.1,369.8 74.6,369.6 75.1,369.6 75.6,369.5 76.1,369.7 76.6,369.6 77.1,369.8 77.6,369.8 78.1,369.7 78.6,369.5 79.1,369.5 79.6,369.6 80.1,369.7 80.6,369.7 81.1,369.7 81.6,369.7 82.1,369.6 82.6,369.6 83.1,369.5 83.6,369.7 84.1,369.8 84.6,369.9 85.1,369.7 85.6,369.8 86.1,369.8 86.6,369.8 87.1,369.7 87.6,369.8 88.1,369.8 88.6,369.8 89.1,369.9 89.6,369.8 90.1,370 90.6,370 91.1,369.9 91.6,369.8 92.1,369.7 92.6,369.8 93.1,369.5 93.6,369.6 94.1,369.6 94.6,369.5 95.1,369.5 95.6,369.5 96.1,369.4 96.6,369.6 97.1,369.5 97.6,369.6 98.1,369.7 98.6,369.7 99.1,369.7 99.6,369.7 100.1,369.7 100.6,369.7 101.1,369.9 101.6,369.9 102.1,369.9 102.6,369.8 103.1,369.8 103.6,369.7 104.1,369.9 104.6,369.8 105.1,369.7 105.6,369.6 106.1,369.7 106.6,370 107.1,370.3 107.6,370.4 108.1,370.3 108.6,370.3 109.1,370.1 109.6,370.2 110.1,370.1 110.6,370.3 111.1,370.2 111.6,370.1 112.1,369.8 112.6,369.6 113.1,369.7 113.6,369.7 114.1,369.5 114.6,369.4 115.1,369.4 115.6,369.4 116.1,369.4 116.6,369.4 117.1,369.3 117.6,369.2 118.1,369.2 118.6,369.2 119.1,369.3 119.6,369.4 120.1,369.5 120.6,369.4 121.1,369.5 121.6,369.3 122.1,369.3 122.6,369.4 123.1,369.5 123.6,369.6 124.1,369.5 124.6,369.5 125.1,369.6 125.6,369.5 126.1,369.5 126.6,369.4 127.1,369.5 127.6,369.5 128.1,369.4 128.6,369.3 129.1,369 129.6,369.2 130.1,369.1 130.6,369.1 131.1,369 131.6,369 132.1,369.1 132.6,369.2 133.1,368.9 133.6,369 134.1,369 134.6,369 135.1,369 135.6,369.2 136.1,369.3 136.6,369.4 137.1,369.5 137.6,369.4 138.1,369.6 138.6,369.6 139.1,369.5 139.6,369.6 140.1,369.8 140.6,369.7 141.1,369.6 141.6,369.6 142.1,369.4 142.6,369.3 143.1,369.3 143.6,369.4 144.1,369.4 144.6,369.5 145.1,369.6 145.6,369.6 146.1,369.5 146.6,369.5 147.1,369.4 147.6,369.5 148.1,369.6 148.6,369.3 149.1,369.4 149.6,369.3 150.1,369.1 150.6,369.3 151.1,369.4 151.6,369.5 152.1,369.6 152.6,369.8 153.1,369.6 153.6,369.7 154.1,369.5 154.6,369.5 155.1,369.2 155.6,369.4 156.1,369.6 156.6,369.7 157.1,369.6 157.6,369.5 158.1,369.4 158.6,369.3 159.1,369.5 159.6,369.6 160.1,369.7 160.6,369.7 161.1,369.7 161.6,369.7 162.1,369.6 162.6,369.6 163.1,369.5 163.6,369.6 164.1,369.5 164.6,369.5 165.1,369.5 165.6,369.6 166.1,369.7 166.6,369.5 167.1,369.4 167.6,369.4 168.1,369.4 168.6,369.3 169.1,369.3 169.6,369.5 170.1,369.4 170.6,369.6 171.1,369.5 171.6,369.4 172.1,369.4 172.6,369.4 173.1,369.3 173.6,369.1 174.1,369.1 174.6,369 175.1,369 175.6,369.1 176.1,369.1 176.6,369.3 177.1,369.2 177.6,369.3 178.1,369.3 178.6,369.4 179.1,369.4 179.6,369.3 180.1,369.3 180.6,369.3 181.1,369.4 181.6,369.5 182.1,369.4 182.6,369.4 183.1,369.4 183.6,369.4 184.1,369.5 184.6,369.4 185.1,369.2 185.6,369.2 186.1,369.3 186.6,369.2 187.1,369.2 187.6,368.9 188.1,369.1 188.6,368.9 189.1,368.8 189.6,368.8 190.1,368.6 190.6,368.6 191.1,368.5 191.6,368.4 192.1,368.1 192.6,368.3 193.1,368.4 193.6,368.4 194.1,368.4 194.6,368.6 195.1,368.7 195.6,368.8 196.1,368.9 196.6,368.9 197.1,369 197.6,369.1 198.1,369.1 198.6,369 199.1,368.9 199.6,368.7 200.1,368.5 200.6,368.5 201.1,368.6 201.6,368.6 202.1,368.3 202.6,368.4 203.1,368.6 203.6,368.6 204.1,368.6 204.6,368.6 205.1,368.6 205.6,368.8 206.1,368.6 206.6,368.5 207.1,368.4 207.6,368.3 208.1,368.2 208.6,368.2 209.1,368.2 209.6,368.3 210.1,368.2 210.6,368.2 211.1,368.1 211.6,368.1 212.1,368 212.6,368.1 213.1,367.9 213.6,368.1 214.1,368.1 214.6,368.1 215.1,367.9 215.6,368.1 216.1,368.1 216.6,368.3 217.1,368.3 217.6,368.5 218.1,368.6 218.6,368.8 219.1,368.8 219.6,368.9 220.1,368.8 220.6,368.8 221.1,368.7 221.6,368.7 222.1,368.7 222.6,368.6 223.1,368.6 223.6,368.6 224.1,368.5 224.6,368.4 225.1,368.3 225.6,368.4 226.1,368.5 226.6,368.5 227.1,368.8 227.6,368.6 228.1,368.7 228.6,368.5 229.1,368.4 229.6,368.3 230.1,368.3 230.6,368.4 231.1,368.6 231.6,368.6 232.1,368.6 232.6,368.6 233.1,368.5 233.6,368.6 234.1,368.5 234.6,368.4 235.1,368.4 235.6,368.2 236.1,368.1 236.6,368.2 237.1,368.1 237.6,368 238.1,367.8 238.6,367.6 239.1,367.7 239.6,367.7 240.1,367.7 240.6,367.9 241.1,367.8 241.6,367.9 242.1,367.8 242.6,367.8 243.1,367.8 243.6,367.7 244.1,367.8 244.6,367.8 245.1,367.8 245.6,367.8 246.1,367.9 246.6,367.7 247.1,367.6 247.6,367.6 248.1,367.6 248.6,367.6 249.1,367.6 249.6,367.8 250.1,367.7 250.6,367.4 251.1,367.4 251.6,367.2 252.1,367.2 252.6,367.2 253.1,367.2 253.6,367.5 254.1,367.5 254.6,367.3 255.1,367.2 255.6,367.1 256.1,367 256.6,367.1 257.1,367.1 257.6,367.3 258.1,367.4 258.6,367.4 259.1,367.4 259.6,367.3 260.1,367.3 260.6,367.3 261.1,367.1 261.6,367.4 262.1,367.6 262.6,367.5 263.1,367.5 263.6,367.5 264.1,367.5 264.6,367.5 265.1,367.2 265.6,367.3 266.1,367.4 266.6,367.2 267.1,367.1 267.6,367.1 268.1,367 268.6,367.1 269.1,367.3 269.6,367.1 270.1,367.1 270.6,367 271.1,367 271.6,367.1 272.1,367.1 272.6,367.2 273.1,367.2 273.6,367.4 274.1,367.4 274.6,367.8 275.1,367.8 275.6,367.7 276.1,367.7 276.6,367.7 277.1,367.8 277.6,367.7 278.1,367.7 278.6,367.9 279.1,368 279.6,367.8 280.1,367.9 280.6,367.9 281.1,368 281.6,367.8 282.1,367.8 282.6,367.9 283.1,367.9 283.6,367.9 284.1,367.8 284.6,367.7 285.1,367.7 285.6,367.9 286.1,367.9 286.6,367.8 287.1,367.6 287.6,367.6 288.1,367.6 288.6,367.5 289.1,367.3 289.6,367.5 290.1,367.5 290.6,367.4 291.1,367.4 291.6,367.3 292.1,367.2 292.6,367 293.1,366.9 293.6,366.6 294.1,366.8 294.6,366.8 295.1,366.8 295.6,366.8 296.1,366.6 296.6,366.6 297.1,366.7 297.6,366.8 298.1,366.7 298.6,366.7 299.1,366.7 299.6,366.7 300.1,366.7 300.6,366.7 301.1,366.8 301.6,366.9 302.1,366.9 302.6,366.9 303.1,366.7 303.6,366.8 304.1,366.7 304.6,366.7 305.1,366.6 305.6,366.8 306.1,366.9 306.6,366.8 307.1,366.9 307.6,367 308.1,367.2 308.6,367.2 309.1,367.3 309.6,367.1 310.1,367.1 310.6,367 311.1,366.9 311.6,366.8 312.1,366.9 312.6,366.7 313.1,366.6 313.6,366.6 314.1,366.8 314.6,366.9 315.1,366.8 315.6,366.7 316.1,366.5 316.6,366.5 317.1,366.6 317.6,366.7 318.1,366.7 318.6,366.6 319.1,366.6 319.6,366.7 320.1,366.7 320.6,366.8 321.1,366.7 321.6,366.7 322.1,366.8 322.6,366.7 323.1,366.8 323.6,366.8 324.1,366.7 324.6,366.8 325.1,366.9 325.6,366.8 326.1,366.7 326.6,366.7 327.1,366.7 327.6,366.6 328.1,366.7 328.6,366.6 329.1,366.7 329.6,366.7 330.1,366.6 330.6,366.5 331.1,366.4 331.6,366.2 332.1,366.3 332.6,366.3 333.1,366.3 333.6,366.3 334.1,366.3 334.6,366.1 335.1,366.1 335.6,366.2 336.1,366.3 336.6,366.2 337.1,366 337.6,366.1 338.1,366 338.6,366.1 339.1,366 339.6,366.1 340.1,366.2 340.6,366.1 341.1,366.1 341.6,366.1 342.1,366.2 342.6,366.2 343.1,366.2 343.6,366.3 344.1,366.3 344.6,366.3 345.1,366.3 345.6,366.3 346.1,366.1 346.6,366 347.1,366 347.6,366 348.1,366 348.6,366 349.1,366 349.6,366 350.1,366 350.6,366 351.1,366.1 351.6,366 352.1,365.9 352.6,365.8 353.1,365.7 353.6,365.8 354.1,366.1 354.6,366.1 355.1,366 355.6,365.8 356.1,366 356.6,366.1 357.1,366.2 357.6,366.3 358.1,366.2 358.6,366.1 359.1,366.1 359.6,366.2 360.1,366.1 360.6,366 361.1,366.1 361.6,365.9 362.1,366.1 362.6,366 363.1,366.1 363.6,366 364.1,366.2 364.6,366.1 365.1,366.1 365.6,366.1 366.1,366.1 366.6,365.9 367.1,365.8 367.6,365.8 368.1,365.8 368.6,365.4 369.1,365.6 369.6,365.8 370.1,365.8 370.6,365.7 371.1,365.7 371.6,365.6 372.1,365.5 372.6,365.7 373.1,365.4 373.6,365.4 374.1,365.4 374.6,365.3 375.1,365.5 375.6,365.5 376.1,365.5 376.6,365.5 377.1,365.5 377.6,365.4 378.1,365.6 378.6,365.5 379.1,365.4 379.6,365.6 380.1,365.4 380.6,365.7 381.1,365.6 381.6,365.6 382.1,365.9 382.6,365.7 383.1,365.9 383.6,365.8 384.1,365.7 384.6,365.8 385.1,366 385.6,366 386.1,366 386.6,366 387.1,366 387.6,366 388.1,366 388.6,365.9 389.1,365.8 389.6,365.5 390.1,365.6 390.6,365.5 391.1,365.5 391.6,365.6 392.1,365.6 392.6,365.7 393.1,365.7 393.6,365.8 394.1,365.8 394.6,365.8 395.1,365.8 395.6,365.7 396.1,365.8 396.6,365.8 397.1,365.7 397.6,365.8 398.1,366 398.6,365.8 399.1,365.8 399.6,365.9 400.1,366.1 400.6,365.9 401.1,365.8 401.6,365.7 402.1,365.6 402.6,365.8 403.1,365.9 403.6,365.9 404.1,365.8 404.6,366 405.1,366 405.6,366 406.1,365.9 406.6,365.9 407.1,365.9 407.6,365.8 408.1,365.7 408.6,365.6 409.1,365.8 409.6,365.6 410.1,365.7 410.6,365.7 411.1,365.7 411.6,365.6 412.1,365.7 412.6,365.7 413.1,365.8 413.6,365.9 414.1,365.9 414.6,365.8 415.1,365.8 415.6,365.8 416.1,365.9 416.6,365.7 417.1,365.6 417.6,365.5 418.1,365.5 418.6,365.3 419.1,365.4 419.6,365.6 420.1,365.4 420.6,365.6 421.1,365.5 421.6,365.6 422.1,365.7 422.6,365.7 423.1,365.8 423.6,365.8 424.1,365.8 424.6,365.7 425.1,365.7 425.6,365.7 426.1,365.8 426.6,365.8 427.1,365.6 427.6,365.6 428.1,365.7 428.6,365.6 429.1,365.7 429.6,365.6 430.1,365.7 430.6,365.8 431.1,366 431.6,365.9 432.1,365.8 432.6,365.6 433.1,365.6 433.6,365.5 434.1,365.5 434.6,365.7 435.1,365.7 435.6,365.7 436.1,365.7 436.6,365.7 437.1,365.8 437.6,366 438.1,365.9 438.6,366 439.1,366 439.6,365.9 440.1,365.9 440.6,365.8 441.1,366.1 441.6,366.2 442.1,366.1 442.6,366 443.1,365.9 443.6,365.9 444.1,365.8 444.6,365.7 445.1,365.6 445.6,365.7 446.1,365.7 446.6,365.8 447.1,365.7 447.6,365.6 448.1,365.6 448.6,365.8 449.1,366 449.6,366 450.1,366 450.6,365.9 451.1,366 451.6,366.1 452.1,365.9 452.6,365.7 453.1,365.8 453.6,365.8 454.1,365.8 454.6,365.6 455.1,365.4 455.6,365.3 456.1,365.3 456.6,365.3 457.1,365.3 457.6,365.4 458.1,365.5 458.6,365.5 459.1,365.6 459.6,365.7 460.1,365.7 460.6,365.7 461.1,365.6 461.6,365.7 462.1,365.8 462.6,365.9 463.1,365.9 463.6,365.8 464.1,365.8 464.6,365.8 465.1,366 465.6,365.9 466.1,365.8 466.6,365.7 467.1,365.6 467.6,365.5 468.1,365.4 468.6,365.4 469.1,365.6 469.6,365.8 470.1,366 470.6,365.8 471.1,365.8 471.6,365.9 472.1,366 472.6,365.8 473.1,366 473.6,365.9 474.1,365.8 474.6,366 475.1,366.1 475.6,366.1 476.1,366.2 476.6,366.1 477.1,365.9 477.6,366 478.1,365.9 478.6,365.9 479.1,365.9 479.6,366.1 480.1,366 480.6,365.9 481.1,365.7 481.6,365.7 482.1,365.5 482.6,365.5 483.1,365.6 483.6,365.7 484.1,365.7 484.6,365.5 485.1,365.2 485.6,365.2 486.1,365.3 486.6,365.1 487.1,365.3 487.6,365.3 488.1,365.6 488.6,365.4 489.1,365.3 489.6,365.4 490.1,365.6 490.6,365.4 491.1,365.5 491.6,365.6 492.1,365.6 492.6,365.5 493.1,365.4 493.6,365.4 494.1,365.4 494.6,365.4 495.1,365.5 495.6,365.4 496.1,365.6 496.6,365.5 497.1,365.6 497.6,365.4 498.1,365.5 498.6,365.4 499.1,365.7 499.6,365.7 500.1,365.8 500.6,365.8 501.1,365.7 501.6,365.7 502.1,365.8 502.6,365.9 503.1,365.7 503.6,365.8 504.1,365.6 504.6,365.8 505.1,365.9 505.6,365.8 506.1,365.8 506.6,365.8 507.1,365.6 507.6,365.4 508.1,365.2 508.6,365.1 509.1,364.9 509.6,364.9 510.1,364.4 510.6,364.2 511.1,364.1 511.6,363.9 512.1,363.9 512.6,363.6 513.1,363.3 513.6,363.2 514.1,363 514.6,362.9 515.1,362.7 515.6,362.5 516.1,362.1 516.6,362.2 517.1,361.9 517.6,361.9 518.1,361.7 518.6,361.5 519.1,361.4 519.6,361 520.1,360.7 520.6,360.6 521.1,360.4 521.6,360.1 522.1,359.8 522.6,359.9 523.1,359.7 523.6,359.4 524.1,359.1 524.6,359 525.1,359 525.6,359.1 526.1,359.1 526.6,359.2 527.1,359.2 527.6,359.3 528.1,359.3 528.6,359.3 529.1,359.2 529.6,359.4 530.1,359.5 530.6,359.5 531.1,359.6 531.6,359.5 532.1,359.6 532.6,359.6 533.1,359.5 533.6,359.5 534.1,359.4 534.6,359.3 535.1,359.3 535.6,359.3 536.1,359.1 536.6,358.9 537.1,358.9 537.6,358.8 538.1,358.7" fill="none" stroke="#00b0f0" stroke-width="2.6" stroke-linejoin="round" stroke-linecap="round" />
<polyline points="538.5,358.7 538.9,358.6 540,321.7 541,284 542.1,242.5 542.8,189.9 544.3,147 546.4,105.9 548.5,83 551.2,56.5" fill="none" stroke="#00b0f0" stroke-width="2.8" stroke-linejoin="round" stroke-linecap="round" />
<polyline points="71.6,371.6 334.4,371.6" fill="none" stroke="#4472c4" stroke-width="2.4" stroke-linejoin="round" stroke-linecap="round" />
<path d="M334.4,369.4 L334.9,367.8 L335.4,365.6 L335.9,363.9 L336.4,362.6 L336.9,360.9 L337.4,359.9 L337.9,357.3 L338.4,355.4 L338.9,353.1 L339.4,350.7 L339.9,348.2 L340.4,345.5 L340.9,342.8 L341.4,340.2 L341.9,339.2 L342.4,337.3 L342.9,334 L343.4,332.3 L343.9,331.5 L344.4,330.7 L344.9,331 L345.4,330.4 L345.9,328.8 L346.4,327.9 L346.9,325.1 L347.4,321.8 L347.9,318.7 L348.4,316 L348.9,315 L349.4,313.8 L349.9,313 L350.4,313.1 L350.9,311.6 L351.4,310.2 L351.9,309.1 L352.4,308.8 L352.9,307.3 L353.4,307.2 L353.9,305.4 L354.4,303.8 L354.9,302.5 L355.4,300.5 L355.9,298.8 L356.4,297.7 L356.9,296.7 L357.4,295.4 L357.9,293.8 L358.4,293.2 L358.9,292 L359.4,291.6 L359.9,292 L360.4,291.1 L360.9,290.9 L361.4,290.9 L361.9,290.6 L362.4,289.9 L362.9,289.8 L363.4,289.1 L363.9,288.4 L364.4,287.5 L364.9,288.1 L365.4,287.4 L365.9,287.8 L366.4,287.6 L366.9,287.1 L367.4,287.1 L367.9,286.9 L368.4,286.6 L368.9,285.4 L369.4,285.1 L369.9,285.3 L370.4,285.2 L370.9,285.4 L371.4,285.8 L371.9,285.6 L372.4,286.2 L372.9,284.8 L373.4,284.1 L373.9,282.2 L374.4,282.5 L374.9,282.3 L375.4,283.1 L375.9,282.5 L376.4,281 L376.9,281.6 L377.4,280.6 L377.9,279.6 L378.4,279.4 L378.9,279.6 L379.4,279.2 L379.9,279.1 L380.4,277.9 L380.9,278.8 L381.4,278.6 L381.9,278.5 L382.4,278.7 L382.9,278.6 L383.4,278.6 L383.9,277.9 L384.4,277.7 L384.9,277.8 L385.4,278.3 L385.9,278 L386.4,277.9 L386.9,277.9 L387.4,278.1 L387.9,278 L388.4,277.6 L388.9,277.1 L389.4,277.6 L389.9,277.5 L390.4,277.3 L390.9,279.1 L391.4,279.1 L391.9,278.8 L392.4,278.1 L392.9,276.6 L393.4,276.5 L393.9,275.6 L394.4,274.9 L394.9,274.7 L395.4,274.5 L395.9,273.8 L396.4,273 L396.9,273.4 L397.4,272.8 L397.9,271.4 L398.4,271 L398.9,270.2 L399.4,269.4 L399.9,269 L400.4,268.6 L400.9,269.4 L401.4,269.2 L401.9,268.9 L402.4,269.2 L402.9,268.5 L403.4,268.7 L403.9,268.3 L404.4,268.7 L404.9,267.8 L405.4,267.7 L405.9,266.4 L406.4,265.9 L406.9,265.7 L407.4,265.7 L407.9,266.7 L408.4,267.5 L408.9,266.3 L409.4,265.6 L409.9,266.2 L410.4,266.2 L410.9,265.1 L411.4,265.3 L411.9,264.4 L412.4,263.8 L412.9,262.9 L413.4,262.7 L413.9,264.1 L414.4,264.2 L414.9,264 L415.4,265.3 L415.9,264.8 L416.4,264.6 L416.9,264.2 L417.4,264.3 L417.9,263.9 L418.4,264.4 L418.9,263.9 L419.4,263.8 L419.9,263.6 L420.4,262.7 L420.9,261.8 L421.4,261.4 L421.9,259.8 L422.4,259.6 L422.9,259.5 L423.4,259.4 L423.9,259.1 L424.4,259.1 L424.9,258.7 L425.4,258.9 L425.9,257.7 L426.4,258 L426.9,257.3 L427.4,257.4 L427.9,256.9 L428.4,256.5 L428.9,255.8 L429.4,256.5 L429.9,255.6 L430.4,254.7 L430.9,254.7 L431.4,254.7 L431.9,254.6 L432.4,253.9 L432.9,253.4 L433.4,253.8 L433.9,253 L434.4,253.2 L434.9,253.5 L435.4,253.5 L435.9,252.7 L436.4,253.8 L436.9,253.8 L437.4,253.8 L437.9,253.4 L438.4,252.8 L438.9,252.5 L439.4,252.6 L439.9,252 L440.4,252.1 L440.9,252.7 L441.4,252.8 L441.9,252.7 L442.4,253.2 L442.9,253.6 L443.4,253.9 L443.9,253.2 L444.4,252 L444.9,252.4 L445.4,252.3 L445.9,252 L446.4,252.2 L446.9,251.9 L447.4,251.4 L447.9,252.4 L448.4,251.4 L448.9,251.8 L449.4,252.3 L449.9,253.2 L450.4,253.2 L450.9,253.2 L451.4,252.3 L451.9,252 L452.4,250.4 L452.9,249.9 L453.4,249.7 L453.9,249.4 L454.4,249 L454.9,249.5 L455.4,248.3 L455.9,248.3 L456.4,247.9 L456.9,247.7 L457.4,247.6 L457.9,248.6 L458.4,247.7 L458.9,248.3 L459.4,248.9 L459.9,248.5 L460.4,247.8 L460.9,246.8 L461.4,246.1 L461.9,247.2 L462.4,245.7 L462.9,245.9 L463.4,245.3 L463.9,246.3 L464.4,246.3 L464.9,245.3 L465.4,244.9 L465.9,244.9 L466.4,244.8 L466.9,244.1 L467.4,243.8 L467.9,243.5 L468.4,243.7 L468.9,243.7 L469.4,243.7 L469.9,243.2 L470.4,243.6 L470.9,243.1 L471.4,242.5 L471.9,242.2 L472.4,242 L472.9,241.8 L473.4,240.7 L473.9,241.6 L474.4,242 L474.9,242.7 L475.4,242.4 L475.9,242.8 L476.4,242.8 L476.9,242.7 L477.4,243.7 L477.9,243.2 L478.4,243.4 L478.9,242.2 L479.4,242.4 L479.9,242.2 L480.4,241.5 L480.9,241.1 L481.4,239.8 L481.9,239.2 L482.4,239.3 L482.9,237.7 L483.4,238.4 L483.9,238.9 L484.4,238.4 L484.9,237.5 L485.4,236.6 L485.9,235.9 L486.4,235.5 L486.9,236.9 L487.4,236.2 L487.9,236.7 L488.4,237.4 L488.9,236.7 L489.4,236.5 L489.9,236.8 L490.4,236.3 L490.9,237 L491.4,238.1 L491.9,237.8 L492.4,237.1 L492.9,237.3 L493.4,237.3 L493.9,236.6 L494.4,236.4 L494.9,236.3 L495.4,236.4 L495.9,236.9 L496.4,236.4 L496.9,235.5 L497.4,234.4 L497.9,235.4 L498.4,235 L498.9,234.6 L499.4,235.9 L499.9,236.3 L500.4,237.4 L500.9,236.9 L501.4,236.2 L501.9,235.6 L502.4,235.7 L502.9,235.7 L503.4,235.8 L503.9,237 L504.4,237.6 L504.9,236.8 L505.4,236.9 L505.9,237.1 L506.4,236.4 L506.9,237.7 L507.4,238 L507.9,238.7 L508.4,238.1 L508.9,237.2 L509.4,237.5 L509.9,237.2 L510.4,236.7 L510.9,236.5 L511.4,236.5 L511.9,236.5 L512.4,236.3 L512.9,236.5 L513.4,238.1 L513.9,238.5 L514.4,237.7 L514.9,238.5 L515.4,237.8 L515.9,236.4 L516.4,235.2 L516.9,233.8 L517.4,234.2 L517.9,233.4 L518.4,232.3 L518.9,231.9 L519.4,231.6 L519.9,230.8 L520.4,230.4 L520.9,230.3 L521.4,230.7 L521.9,230 L522.4,230.3 L522.9,230.4 L523.4,230.6 L523.9,230.1 L524.4,229.4 L524.9,229.9 L525.4,230.2 L525.9,229.7 L526.4,229.2 L526.9,229.6 L527.4,230.7 L527.9,230.8 L528.4,232.1 L528.9,232 L529.4,232 L529.9,232 L530.4,232.3 L530.9,231.1 L531.4,231 L531.9,231.5 L532.4,230.3 L532.9,230.2 L533.4,230.5 L533.9,231.3 L534.4,231.9 L534.9,231.6 L535.4,232.7 L535.9,231.8 L536.4,230.9 L536.9,231.6 L537.4,231.9 L537.9,231.1 L538.4,231.7 L538.9,232.1 L539.4,232.4 L539.9,232 L540.4,231.1 L540.9,230.1 L541.4,230 L541.9,229.9 L542.4,229.7 L542.9,229.4 L543.4,230.1 L543.9,229.5 L544.4,229.1 L544.9,230.4 L545.4,229.9 L545.9,229.4 L546.4,229.9 L546.9,228.6 L547.4,229.5 L547.9,228.5 L548.4,227.9 L548.9,227 L549.4,226.4 L549.9,226 L550.4,226.5 L550.9,226.4 L551.4,227.2 L551.9,227.6 L552.4,226.7 L552.4,231.1 L551.9,232 L551.4,231.6 L550.9,230.8 L550.4,230.9 L549.9,230.4 L549.4,230.8 L548.9,231.4 L548.4,232.3 L547.9,232.9 L547.4,233.9 L546.9,233 L546.4,234.3 L545.9,233.8 L545.4,234.3 L544.9,234.8 L544.4,233.5 L543.9,233.9 L543.4,234.5 L542.9,233.8 L542.4,234.1 L541.9,234.3 L541.4,234.4 L540.9,234.5 L540.4,235.5 L539.9,236.4 L539.4,236.8 L538.9,236.5 L538.4,236.1 L537.9,235.5 L537.4,236.3 L536.9,236 L536.4,235.3 L535.9,236.2 L535.4,237.1 L534.9,236 L534.4,236.3 L533.9,235.7 L533.4,234.9 L532.9,234.6 L532.4,234.7 L531.9,235.9 L531.4,235.4 L530.9,235.5 L530.4,236.7 L529.9,236.4 L529.4,236.4 L528.9,236.4 L528.4,236.5 L527.9,235.2 L527.4,235.1 L526.9,234 L526.4,233.6 L525.9,234.1 L525.4,234.6 L524.9,234.3 L524.4,233.8 L523.9,234.5 L523.4,235 L522.9,234.8 L522.4,234.7 L521.9,234.4 L521.4,235.1 L520.9,234.7 L520.4,234.8 L519.9,235.2 L519.4,236 L518.9,236.3 L518.4,236.7 L517.9,237.8 L517.4,238.6 L516.9,238.2 L516.4,239.6 L515.9,240.8 L515.4,242.2 L514.9,242.9 L514.4,242.1 L513.9,242.9 L513.4,242.5 L512.9,240.9 L512.4,240.7 L511.9,240.9 L511.4,240.9 L510.9,240.9 L510.4,241.1 L509.9,241.6 L509.4,241.9 L508.9,241.6 L508.4,242.5 L507.9,243.1 L507.4,242.4 L506.9,242.1 L506.4,240.8 L505.9,241.5 L505.4,241.3 L504.9,241.2 L504.4,242 L503.9,241.4 L503.4,240.2 L502.9,240.1 L502.4,240.1 L501.9,240 L501.4,240.6 L500.9,241.3 L500.4,241.8 L499.9,240.7 L499.4,240.3 L498.9,239 L498.4,239.4 L497.9,239.8 L497.4,238.8 L496.9,239.9 L496.4,240.8 L495.9,241.3 L495.4,240.8 L494.9,240.7 L494.4,240.8 L493.9,241 L493.4,241.7 L492.9,241.7 L492.4,241.5 L491.9,242.2 L491.4,242.5 L490.9,241.4 L490.4,240.7 L489.9,241.2 L489.4,240.9 L488.9,241.1 L488.4,241.8 L487.9,241.1 L487.4,240.6 L486.9,241.3 L486.4,239.9 L485.9,240.3 L485.4,241 L484.9,241.9 L484.4,242.8 L483.9,243.3 L483.4,242.8 L482.9,242.1 L482.4,243.7 L481.9,243.6 L481.4,244.2 L480.9,245.5 L480.4,245.9 L479.9,246.6 L479.4,246.8 L478.9,246.6 L478.4,247.8 L477.9,247.6 L477.4,248.1 L476.9,247.1 L476.4,247.2 L475.9,247.2 L475.4,246.8 L474.9,247.1 L474.4,246.4 L473.9,246 L473.4,245.1 L472.9,246.2 L472.4,246.4 L471.9,246.6 L471.4,246.9 L470.9,247.5 L470.4,248 L469.9,247.6 L469.4,248.1 L468.9,248.1 L468.4,248.1 L467.9,247.9 L467.4,248.2 L466.9,248.5 L466.4,249.2 L465.9,249.3 L465.4,249.3 L464.9,249.7 L464.4,250.7 L463.9,250.7 L463.4,249.7 L462.9,250.3 L462.4,250.1 L461.9,251.6 L461.4,250.5 L460.9,251.2 L460.4,252.2 L459.9,252.9 L459.4,253.3 L458.9,252.7 L458.4,252.1 L457.9,253 L457.4,252 L456.9,252.1 L456.4,252.3 L455.9,252.7 L455.4,252.7 L454.9,253.9 L454.4,253.4 L453.9,253.8 L453.4,254.1 L452.9,254.3 L452.4,254.8 L451.9,256.4 L451.4,256.7 L450.9,257.6 L450.4,257.6 L449.9,257.6 L449.4,256.7 L448.9,256.2 L448.4,255.8 L447.9,256.8 L447.4,255.8 L446.9,256.3 L446.4,256.6 L445.9,256.4 L445.4,256.7 L444.9,256.8 L444.4,256.4 L443.9,257.6 L443.4,258.3 L442.9,258 L442.4,257.6 L441.9,257.1 L441.4,257.2 L440.9,257.1 L440.4,256.5 L439.9,256.4 L439.4,257 L438.9,256.9 L438.4,257.2 L437.9,257.8 L437.4,258.2 L436.9,258.2 L436.4,258.2 L435.9,257.1 L435.4,257.9 L434.9,257.9 L434.4,257.6 L433.9,257.4 L433.4,258.2 L432.9,257.8 L432.4,258.3 L431.9,259 L431.4,259.1 L430.9,259.1 L430.4,259.1 L429.9,260 L429.4,260.9 L428.9,260.2 L428.4,260.9 L427.9,261.3 L427.4,261.8 L426.9,261.7 L426.4,262.4 L425.9,262.1 L425.4,263.3 L424.9,263.1 L424.4,263.5 L423.9,263.5 L423.4,263.8 L422.9,263.9 L422.4,264 L421.9,264.2 L421.4,265.8 L420.9,266.2 L420.4,267.1 L419.9,268 L419.4,268.2 L418.9,268.3 L418.4,268.8 L417.9,268.3 L417.4,268.7 L416.9,268.6 L416.4,269 L415.9,269.2 L415.4,269.7 L414.9,268.4 L414.4,268.6 L413.9,268.5 L413.4,267.1 L412.9,267.3 L412.4,268.2 L411.9,268.8 L411.4,269.7 L410.9,269.5 L410.4,270.6 L409.9,270.6 L409.4,270 L408.9,270.7 L408.4,271.9 L407.9,271.1 L407.4,270.1 L406.9,270.1 L406.4,270.3 L405.9,270.8 L405.4,272.1 L404.9,272.2 L404.4,273.1 L403.9,272.7 L403.4,273.1 L402.9,272.9 L402.4,273.6 L401.9,273.3 L401.4,273.6 L400.9,273.8 L400.4,273 L399.9,273.4 L399.4,273.8 L398.9,274.6 L398.4,275.4 L397.9,275.8 L397.4,277.2 L396.9,277.8 L396.4,277.4 L395.9,278.2 L395.4,278.9 L394.9,279.1 L394.4,279.3 L393.9,280 L393.4,280.9 L392.9,281 L392.4,282.5 L391.9,283.2 L391.4,283.5 L390.9,283.5 L390.4,281.7 L389.9,281.9 L389.4,282 L388.9,281.5 L388.4,282 L387.9,282.4 L387.4,282.5 L386.9,282.3 L386.4,282.3 L385.9,282.4 L385.4,282.7 L384.9,282.2 L384.4,282.1 L383.9,282.3 L383.4,283 L382.9,283 L382.4,283.1 L381.9,282.9 L381.4,283 L380.9,283.2 L380.4,282.3 L379.9,283.5 L379.4,283.6 L378.9,284 L378.4,283.8 L377.9,284 L377.4,285 L376.9,286 L376.4,285.4 L375.9,286.9 L375.4,287.5 L374.9,286.7 L374.4,286.9 L373.9,286.6 L373.4,288.5 L372.9,289.2 L372.4,290.6 L371.9,290 L371.4,290.2 L370.9,289.8 L370.4,289.6 L369.9,289.7 L369.4,289.5 L368.9,289.8 L368.4,291 L367.9,291.3 L367.4,291.5 L366.9,291.5 L366.4,292 L365.9,292.2 L365.4,291.8 L364.9,292.5 L364.4,291.9 L363.9,292.8 L363.4,293.5 L362.9,294.2 L362.4,294.3 L361.9,295 L361.4,295.3 L360.9,295.3 L360.4,295.5 L359.9,296.4 L359.4,296 L358.9,296.4 L358.4,297.6 L357.9,298.2 L357.4,299.8 L356.9,301.1 L356.4,302.1 L355.9,303.2 L355.4,304.9 L354.9,306.9 L354.4,308.2 L353.9,309.8 L353.4,311.6 L352.9,311.7 L352.4,313.2 L351.9,313.5 L351.4,314.6 L350.9,316 L350.4,317.5 L349.9,317.4 L349.4,318.2 L348.9,319.4 L348.4,320.4 L347.9,323.1 L347.4,326.2 L346.9,329.5 L346.4,332.3 L345.9,333.2 L345.4,334.8 L344.9,335.4 L344.4,335.1 L343.9,335.9 L343.4,336.7 L342.9,338.4 L342.4,341.7 L341.9,343.6 L341.4,344.6 L340.9,347.2 L340.4,349.9 L339.9,352.6 L339.4,355.1 L338.9,357.5 L338.4,359.8 L337.9,361.7 L337.4,364.3 L336.9,365.3 L336.4,367 L335.9,368.3 L335.4,370 L334.9,370.6 L334.4,370.6Z" fill="#4472c4"/><polyline points="334.4,370.6 336.4,363.8 338.4,359.1 340.4,347.1 342.4,341.3 344.4,332.4 346.4,330.8 348.4,317.9 350.4,314.7 352.4,309.4 354.4,308.5 356.4,297.7 358.4,296.5 360.4,292.6 362.4,297.7 364.4,285.7 366.4,293.5 368.4,284.9 370.4,291.9 372.4,282.3 374.4,288.5 376.4,280.7 378.4,284.1 380.4,279 382.4,281.7 384.4,277.6 386.4,281.7 388.4,278.5 390.4,282.5 392.4,276.8 394.4,280.8 396.4,274.3 398.4,275.3 400.4,265.9 402.4,273 404.4,268.5 406.4,272 408.4,268.2 410.4,270.2 412.4,264.8 414.4,269.4 416.4,264.3 418.4,271.9 420.4,262.2 422.4,267 424.4,256.1 426.4,268.8 428.4,254.5 430.4,263.2 432.4,254.4 434.4,258.9 436.4,253.4 438.4,259.7 440.4,251.4 442.4,257.5 444.4,252.3 446.4,257 448.4,249.4 450.4,257.3 452.4,246.2 454.4,253.1 456.4,245.8 458.4,254.9 460.4,245.8 462.4,249.6 464.4,245.4 466.4,251.1 468.4,241.4 470.4,250.5 472.4,240.7 474.4,247.3 476.4,239.1 478.4,249.2 480.4,237.4 482.4,247.2 484.4,238.7 486.4,240.7 488.4,233.9 490.4,242.5 492.4,234.1 494.4,240.8 496.4,235.2 498.4,239.8 500.4,237.7 502.4,239.5 504.4,236.2 506.4,240.3 508.4,233.6 510.4,247.1 512.4,234 514.4,243.4 516.4,236.1 518.4,241.6 520.4,230.3 522.4,237.7 524.4,229.3 526.4,232.5 528.4,229.6 530.4,235.9 532.4,231.1 534.4,239.1 536.4,228.3 538.4,241.8 540.4,228.2 542.4,234.8 544.4,228 546.4,233.5 548.4,226.1 550.4,232" fill="none" stroke="#4472c4" stroke-width="2.6" stroke-linejoin="round" stroke-linecap="round" />
<path d="M249.3,368.5 L249.8,367.8 L250.3,366 L250.8,365.1 L251.3,363.6 L251.8,362.1 L252.3,361.7 L252.8,360.4 L253.3,359 L253.8,358 L254.3,357.2 L254.8,355.7 L255.3,352.5 L255.8,347.2 L256.4,342.1 L256.9,337.6 L257.3,332.7 L257.9,328.1 L258.4,325 L258.8,322.5 L259.4,320.4 L259.9,318.9 L260.3,317.7 L260.9,315.7 L261.4,314.4 L261.8,314 L262.4,313.9 L262.9,312.9 L263.3,312.1 L263.9,310.1 L264.4,308.6 L264.8,306.1 L265.4,304.1 L265.9,303.5 L266.3,301.1 L266.9,300.5 L267.4,299.7 L267.8,298.5 L268.4,297.7 L268.9,296.9 L269.3,296.3 L269.9,295.1 L270.4,295.1 L270.8,295.2 L271.4,295.1 L271.9,295.6 L272.3,295.7 L272.9,296.7 L273.4,296.2 L273.8,296.2 L274.4,296.1 L274.9,295 L275.3,296.1 L275.9,294.9 L276.4,294.8 L276.8,294.6 L277.4,295.1 L277.9,293.1 L278.3,292.9 L278.9,291.6 L279.4,290.7 L279.8,289.5 L280.4,289 L280.9,287.6 L281.3,286.7 L281.9,286.1 L282.4,286.2 L282.8,284.1 L283.4,284.5 L283.9,284.4 L284.3,283.6 L284.9,283.2 L285.4,282.4 L285.8,283.1 L286.4,283.6 L286.9,283.9 L287.3,284.3 L287.9,284.6 L288.4,285 L288.9,285 L289.4,286.3 L289.9,284.7 L290.4,282.2 L290.9,281.7 L291.4,281.2 L291.9,280.9 L292.4,280.4 L292.9,279.8 L293.4,279.5 L293.9,277.6 L294.4,274.5 L294.9,271.5 L295.4,271.2 L295.9,270.6 L296.4,269.1 L296.9,269.3 L297.4,269.4 L297.9,269.2 L298.4,268.7 L298.9,269 L299.4,268.7 L299.9,268.3 L300.4,267.8 L300.9,267.8 L301.4,268.5 L301.9,267.5 L302.4,266 L302.9,265.6 L303.4,264.9 L303.9,264.6 L304.4,264.4 L304.9,263.5 L305.4,262.6 L305.9,261.9 L306.4,260.9 L306.9,260.9 L307.4,261.2 L307.9,260.8 L308.4,260.3 L308.9,259.7 L309.4,258.9 L309.9,258.3 L310.4,257.8 L310.9,257.2 L311.4,256.8 L311.9,255.8 L312.4,255.9 L312.9,255.7 L313.4,255 L313.9,253.7 L314.4,253.6 L314.9,254.1 L315.4,253.6 L315.9,253.3 L316.4,252.9 L316.9,253.2 L317.4,252.6 L317.9,253 L318.4,252.7 L318.9,253 L319.4,252.8 L319.9,252.1 L320.4,250.8 L320.9,249.9 L321.4,249.3 L321.9,249.1 L322.4,248.7 L322.9,247.8 L323.4,247.5 L323.9,247.4 L324.4,246.8 L324.9,245.9 L325.4,245.2 L325.9,245 L326.4,244.7 L326.9,243.2 L327.4,242.5 L327.9,241.3 L328.4,240 L328.9,239.8 L329.4,239.3 L329.9,237.9 L330.4,237 L330.9,236.3 L331.4,235 L331.9,234 L332.4,233.6 L332.9,232 L333.4,231.7 L333.9,231.5 L334.4,231.1 L334.9,229.8 L335.4,229.4 L335.9,228.4 L336.4,228.2 L336.9,228 L337.4,227.9 L337.9,227.3 L338.4,226.8 L338.9,227.1 L339.4,226.5 L339.9,225.5 L340.4,223 L340.9,220 L341.4,218.5 L341.9,216.5 L342.4,215.8 L342.9,212.8 L343.4,209.9 L343.9,208.6 L344.4,207.2 L344.9,205.2 L345.4,203.4 L345.9,200.8 L346.4,200 L346.9,199.1 L347.4,198.6 L347.9,198.6 L348.4,198.2 L348.9,198 L349.4,197.2 L349.9,196.5 L350.4,196.2 L350.9,195.6 L351.4,195.8 L351.9,194.9 L352.4,195.4 L352.9,194.4 L353.4,194.1 L353.9,192.9 L354.4,192.9 L354.9,192 L355.4,191.3 L355.9,190.8 L356.4,189.5 L356.9,188.1 L357.4,186.2 L357.9,186 L358.4,184.8 L358.9,183.7 L359.4,182.9 L359.9,183.1 L360.4,181.3 L360.9,180.8 L361.4,180.3 L361.9,180.2 L362.4,178.9 L362.9,178.4 L363.4,178.5 L363.9,179 L364.4,179.4 L364.9,178.5 L365.4,178.1 L365.9,177.7 L366.4,176.5 L366.9,175.4 L367.4,175.5 L367.9,175.3 L368.4,174.9 L368.9,175.3 L369.4,174.5 L369.9,174.5 L370.4,174.3 L370.9,174 L371.4,174 L371.9,173.8 L372.4,173.7 L372.9,173.6 L373.4,174.3 L373.9,173.8 L374.4,173.9 L374.9,173.9 L375.4,173.3 L375.9,173.4 L376.4,172.6 L376.9,172.8 L377.4,172.1 L377.9,171.5 L378.4,171.4 L378.9,171.5 L379.4,171.6 L379.9,171.7 L380.4,171.2 L380.9,170.4 L381.4,170.3 L381.9,170.1 L382.4,169.3 L382.9,169.4 L383.4,168.9 L383.9,167.9 L384.4,167.6 L384.9,166.4 L385.4,165.5 L385.9,165.3 L386.4,164 L386.9,163.7 L387.4,162.6 L387.9,162.6 L388.4,161.8 L388.9,161.6 L389.4,160.4 L389.9,159.9 L390.4,160.1 L390.9,160 L391.4,158.7 L391.9,159.1 L392.4,159.4 L392.9,159.1 L393.4,159.6 L393.9,158.9 L394.4,158.7 L394.9,159.1 L395.4,159.6 L395.9,160 L396.4,159.1 L396.9,157.9 L397.4,158 L397.9,157 L398.4,156.8 L398.9,156 L399.4,156.4 L399.9,156.7 L400.4,156.8 L400.9,156.5 L401.4,156.3 L401.9,155.9 L402.4,155.8 L402.9,155.7 L403.4,155.7 L403.9,155.2 L404.4,155.9 L404.9,155.7 L405.4,156.1 L405.9,156.4 L406.4,155.5 L406.9,154.3 L407.4,154.7 L407.9,154.2 L408.4,154.1 L408.9,153.8 L409.4,153.7 L409.9,152.9 L410.4,152.7 L410.9,152.3 L411.4,152.2 L411.9,150.9 L412.4,151.3 L412.9,151.4 L413.4,150.5 L413.9,150.1 L414.4,149.9 L414.9,150 L415.4,149.7 L415.9,150.1 L416.4,149.7 L416.9,148.9 L417.4,148.2 L417.9,148.2 L418.4,147.6 L418.9,147.7 L419.4,147.9 L419.9,147.8 L420.4,147.9 L420.9,147.4 L421.4,147 L421.9,146.4 L422.4,145.8 L422.9,144.7 L423.4,144.3 L423.9,143.5 L424.4,142.7 L424.9,142.6 L425.4,142.8 L425.9,142.5 L426.4,143 L426.9,143.3 L427.4,143.7 L427.9,143.1 L428.4,142.1 L428.9,142.2 L429.4,142.1 L429.9,142.3 L430.4,142.3 L430.9,142.9 L431.4,142.6 L431.9,142.7 L432.4,142.1 L432.9,140.8 L433.4,140.5 L433.9,141.2 L434.4,140.2 L434.9,140.7 L435.4,140.3 L435.9,140 L436.4,140 L436.9,140.1 L437.4,139.5 L437.9,139.5 L438.4,139.7 L438.9,140 L439.4,139.3 L439.9,139.8 L440.4,140.4 L440.9,141.2 L441.4,140 L441.9,139.6 L442.4,138.2 L442.9,138 L443.4,137.9 L443.9,136.9 L444.4,135.7 L444.9,135.5 L445.4,135.5 L445.9,134.8 L446.4,134.3 L446.9,132.7 L447.4,132.1 L447.9,132.1 L448.4,132.1 L448.9,132.8 L449.4,132 L449.9,130.7 L450.4,130.8 L450.9,130.4 L451.4,130.5 L451.9,130.7 L452.4,130.9 L452.9,131.5 L453.4,132 L453.9,130.8 L454.4,130.6 L454.9,131.4 L455.4,130.9 L455.9,131.1 L456.4,130.8 L456.9,130.3 L457.4,130.8 L457.9,130.9 L458.4,130.3 L458.9,130.2 L459.4,128.9 L459.9,128 L460.4,128 L460.9,127.5 L461.4,126.5 L461.9,126.2 L462.4,125.9 L462.9,126.1 L463.4,126 L463.9,125.3 L464.4,124.5 L464.9,124 L465.4,123.3 L465.9,123.6 L466.4,123.9 L466.9,124 L467.4,123.5 L467.9,122.8 L468.4,123.2 L468.9,123 L469.4,123.2 L469.9,122.4 L470.4,122.3 L470.9,123.2 L471.4,122.7 L471.9,122.1 L472.4,122.2 L472.9,123.2 L473.4,124.1 L473.9,124 L474.4,123.9 L474.9,124 L475.4,123.6 L475.9,123.8 L476.4,123.6 L476.9,122.2 L477.4,121.4 L477.9,120.7 L478.4,119.8 L478.9,118.7 L479.4,118.7 L479.9,119.2 L480.4,118.5 L480.9,117.7 L481.4,117.4 L481.9,116.7 L482.4,115.9 L482.9,116.4 L483.4,115.6 L483.9,115 L484.4,114.5 L484.9,113.8 L485.4,113.6 L485.9,113.7 L486.4,114.3 L486.9,114.4 L487.4,114.1 L487.9,113.2 L488.4,113 L488.9,112.3 L489.4,112 L489.9,112.4 L490.4,112.2 L490.9,111.9 L491.4,111.3 L491.9,111.1 L492.4,110.9 L492.9,110.2 L493.4,109.8 L493.9,110 L494.4,109 L494.9,108.7 L495.4,108.1 L495.9,108.9 L496.4,109.2 L496.9,109.4 L497.4,109.5 L497.9,109.5 L498.4,109.6 L498.9,108.6 L499.4,108.7 L499.9,108.9 L500.4,108 L500.9,108.4 L501.4,108.6 L501.9,107.7 L502.4,107.4 L502.9,107.3 L503.4,107 L503.9,107.3 L504.4,106.7 L504.9,106.7 L505.4,106.9 L505.9,107.3 L506.4,107.4 L506.9,107.3 L507.4,107.7 L507.9,106.6 L508.4,107.2 L508.9,107.1 L509.4,106.5 L509.9,106.3 L510.4,105.5 L510.9,104.5 L511.4,104.2 L511.9,103.6 L512.4,103.8 L512.9,103.1 L513.4,102.3 L513.9,101.6 L514.4,102.4 L514.9,102.2 L515.4,101.6 L515.9,100.9 L516.4,100.1 L516.9,99.8 L517.4,99.9 L517.9,100.3 L518.4,100.6 L518.9,100.4 L519.4,99.9 L519.9,99.4 L520.4,98.2 L520.9,97.7 L521.4,98 L521.9,97.9 L522.4,98.1 L522.9,97.5 L523.4,98 L523.9,98 L524.4,97.9 L524.9,98 L525.4,96.6 L525.9,96.2 L526.4,95.7 L526.9,96.6 L527.4,96.3 L527.9,95.9 L528.4,96.2 L528.9,95.5 L529.4,96.1 L529.9,95.5 L530.4,95.3 L530.9,94.6 L531.4,94.9 L531.9,93.5 L532.4,93.8 L532.9,93.2 L533.4,93.1 L533.9,92.3 L534.4,92.8 L534.9,93.2 L535.4,93.8 L535.9,94.3 L536.4,94.9 L536.9,95.7 L537.4,95.7 L537.9,95.3 L538.4,94.9 L538.9,95.6 L539.4,95.7 L539.9,96.5 L540.4,96.8 L540.9,96.5 L541.4,97.3 L541.9,98.5 L542.4,98.6 L542.9,98.3 L543.4,98.1 L543.9,98.8 L544.4,98.7 L544.9,98.1 L545.4,98.1 L545.9,97.7 L546.4,97.3 L546.9,96.6 L547.4,95.9 L547.9,95.6 L548.4,95.3 L548.9,95.2 L549.4,94.5 L549.9,94.3 L550.4,94.1 L550.9,93.7 L551.4,93.6 L551.9,93.6 L552.4,93.2 L552.4,93.2 L552.4,97.2 L552.4,97.2 L551.9,97.6 L551.4,97.6 L550.9,97.7 L550.4,98.1 L549.9,98.3 L549.4,98.5 L548.9,99.2 L548.4,99.3 L547.9,99.6 L547.4,99.9 L546.9,100.6 L546.4,101.3 L545.9,101.7 L545.4,102.1 L544.9,102.1 L544.4,102.7 L543.9,102.8 L543.4,102.1 L542.9,102.3 L542.4,102.6 L541.9,102.5 L541.4,101.3 L540.9,100.5 L540.4,100.8 L539.9,100.5 L539.4,99.7 L538.9,99.6 L538.4,98.9 L537.9,99.3 L537.4,99.7 L536.9,99.7 L536.4,98.9 L535.9,98.3 L535.4,97.8 L534.9,97.2 L534.4,96.8 L533.9,96.3 L533.4,97.1 L532.9,97.2 L532.4,97.8 L531.9,97.5 L531.4,98.9 L530.9,98.6 L530.4,99.3 L529.9,99.5 L529.4,100.1 L528.9,99.5 L528.4,100.2 L527.9,99.9 L527.4,100.3 L526.9,100.6 L526.4,99.7 L525.9,100.2 L525.4,100.6 L524.9,102 L524.4,101.9 L523.9,102 L523.4,102 L522.9,101.5 L522.4,102.1 L521.9,101.9 L521.4,102 L520.9,101.7 L520.4,102.2 L519.9,103.4 L519.4,103.9 L518.9,104.4 L518.4,104.6 L517.9,104.3 L517.4,103.9 L516.9,103.8 L516.4,104.1 L515.9,104.9 L515.4,105.6 L514.9,106.2 L514.4,106.4 L513.9,105.6 L513.4,106.3 L512.9,107.1 L512.4,107.8 L511.9,107.6 L511.4,108.2 L510.9,108.5 L510.4,109.5 L509.9,110.3 L509.4,110.5 L508.9,111.1 L508.4,111.2 L507.9,110.6 L507.4,111.7 L506.9,111.3 L506.4,111.4 L505.9,111.3 L505.4,110.9 L504.9,110.7 L504.4,110.7 L503.9,111.3 L503.4,111 L502.9,111.3 L502.4,111.4 L501.9,111.7 L501.4,112.6 L500.9,112.4 L500.4,112 L499.9,112.9 L499.4,112.7 L498.9,112.6 L498.4,113.6 L497.9,113.5 L497.4,113.5 L496.9,113.4 L496.4,113.2 L495.9,112.9 L495.4,112.1 L494.9,112.7 L494.4,113 L493.9,114 L493.4,113.8 L492.9,114.2 L492.4,114.9 L491.9,115.1 L491.4,115.3 L490.9,115.9 L490.4,116.2 L489.9,116.4 L489.4,116 L488.9,116.3 L488.4,117 L487.9,117.2 L487.4,118.1 L486.9,118.4 L486.4,118.3 L485.9,117.7 L485.4,117.6 L484.9,117.8 L484.4,118.5 L483.9,119 L483.4,119.6 L482.9,120.4 L482.4,119.9 L481.9,120.7 L481.4,121.4 L480.9,121.7 L480.4,122.5 L479.9,123.2 L479.4,122.7 L478.9,122.7 L478.4,123.8 L477.9,124.7 L477.4,125.4 L476.9,126.2 L476.4,127.6 L475.9,127.8 L475.4,127.6 L474.9,128 L474.4,127.9 L473.9,128 L473.4,128.1 L472.9,127.2 L472.4,126.2 L471.9,126.1 L471.4,126.7 L470.9,127.2 L470.4,126.3 L469.9,126.4 L469.4,127.2 L468.9,127 L468.4,127.2 L467.9,126.8 L467.4,127.5 L466.9,128 L466.4,127.9 L465.9,127.6 L465.4,127.3 L464.9,128 L464.4,128.5 L463.9,129.3 L463.4,130 L462.9,130.1 L462.4,129.9 L461.9,130.2 L461.4,130.5 L460.9,131.5 L460.4,132 L459.9,132 L459.4,132.9 L458.9,134.2 L458.4,134.3 L457.9,134.9 L457.4,134.8 L456.9,134.3 L456.4,134.8 L455.9,135.1 L455.4,134.9 L454.9,135.4 L454.4,134.6 L453.9,134.8 L453.4,136 L452.9,135.5 L452.4,134.9 L451.9,134.7 L451.4,134.5 L450.9,134.4 L450.4,134.8 L449.9,134.7 L449.4,136 L448.9,136.8 L448.4,136.1 L447.9,136.1 L447.4,136.1 L446.9,136.7 L446.4,138.3 L445.9,138.8 L445.4,139.5 L444.9,139.5 L444.4,139.7 L443.9,140.9 L443.4,141.9 L442.9,142 L442.4,142.2 L441.9,143.6 L441.4,144 L440.9,145.2 L440.4,144.4 L439.9,143.8 L439.4,143.3 L438.9,144 L438.4,143.7 L437.9,143.5 L437.4,143.5 L436.9,144.1 L436.4,144 L435.9,144 L435.4,144.3 L434.9,144.7 L434.4,144.2 L433.9,145.2 L433.4,144.5 L432.9,144.8 L432.4,146.1 L431.9,146.7 L431.4,146.6 L430.9,146.9 L430.4,146.3 L429.9,146.3 L429.4,146.1 L428.9,146.2 L428.4,146.1 L427.9,147.1 L427.4,147.7 L426.9,147.3 L426.4,147 L425.9,146.5 L425.4,146.8 L424.9,146.6 L424.4,146.7 L423.9,147.5 L423.4,148.3 L422.9,148.7 L422.4,149.8 L421.9,150.4 L421.4,151 L420.9,151.4 L420.4,151.9 L419.9,151.8 L419.4,151.9 L418.9,151.7 L418.4,151.6 L417.9,152.2 L417.4,152.2 L416.9,152.9 L416.4,153.7 L415.9,154.1 L415.4,153.7 L414.9,154 L414.4,153.9 L413.9,154.1 L413.4,154.5 L412.9,155.4 L412.4,155.3 L411.9,154.9 L411.4,156.2 L410.9,156.3 L410.4,156.7 L409.9,156.9 L409.4,157.7 L408.9,157.8 L408.4,158.1 L407.9,158.2 L407.4,158.7 L406.9,158.3 L406.4,159.5 L405.9,160.4 L405.4,160.1 L404.9,159.7 L404.4,159.9 L403.9,159.2 L403.4,159.7 L402.9,159.7 L402.4,159.8 L401.9,159.9 L401.4,160.3 L400.9,160.5 L400.4,160.8 L399.9,160.7 L399.4,160.4 L398.9,160 L398.4,160.8 L397.9,161 L397.4,162 L396.9,161.9 L396.4,163.1 L395.9,164 L395.4,163.6 L394.9,163.1 L394.4,162.7 L393.9,162.9 L393.4,163.6 L392.9,163.1 L392.4,163.4 L391.9,163.1 L391.4,162.7 L390.9,164 L390.4,164.1 L389.9,163.9 L389.4,164.4 L388.9,165.6 L388.4,165.8 L387.9,166.6 L387.4,166.6 L386.9,167.7 L386.4,168 L385.9,169.3 L385.4,169.5 L384.9,170.4 L384.4,171.6 L383.9,171.9 L383.4,172.9 L382.9,173.4 L382.4,173.3 L381.9,174.1 L381.4,174.3 L380.9,174.4 L380.4,175.2 L379.9,175.7 L379.4,175.6 L378.9,175.5 L378.4,175.4 L377.9,175.5 L377.4,176.1 L376.9,176.8 L376.4,176.6 L375.9,177.4 L375.4,177.3 L374.9,177.9 L374.4,177.9 L373.9,177.8 L373.4,178.3 L372.9,177.6 L372.4,177.7 L371.9,177.8 L371.4,178 L370.9,178 L370.4,178.3 L369.9,178.5 L369.4,178.5 L368.9,179.3 L368.4,178.9 L367.9,179.3 L367.4,179.5 L366.9,179.4 L366.4,180.5 L365.9,181.7 L365.4,182.1 L364.9,182.5 L364.4,183.4 L363.9,183 L363.4,182.5 L362.9,182.4 L362.4,182.9 L361.9,184.2 L361.4,184.3 L360.9,184.8 L360.4,185.3 L359.9,187.1 L359.4,186.9 L358.9,187.7 L358.4,188.8 L357.9,190 L357.4,190.2 L356.9,192.1 L356.4,193.5 L355.9,194.8 L355.4,195.3 L354.9,196 L354.4,196.9 L353.9,196.9 L353.4,198.1 L352.9,198.4 L352.4,199.4 L351.9,198.9 L351.4,199.8 L350.9,199.6 L350.4,200.2 L349.9,200.5 L349.4,201.2 L348.9,202 L348.4,202.2 L347.9,202.6 L347.4,202.6 L346.9,203.1 L346.4,204 L345.9,204.8 L345.4,207.4 L344.9,209.2 L344.4,211.2 L343.9,212.6 L343.4,213.9 L342.9,216.8 L342.4,219.8 L341.9,220.5 L341.4,222.5 L340.9,224 L340.4,227 L339.9,229.5 L339.4,230.5 L338.9,231.1 L338.4,230.8 L337.9,231.3 L337.4,231.9 L336.9,232 L336.4,232.2 L335.9,232.4 L335.4,233.4 L334.9,233.8 L334.4,235.1 L333.9,235.5 L333.4,235.7 L332.9,236 L332.4,237.6 L331.9,238 L331.4,239 L330.9,240.3 L330.4,241 L329.9,241.9 L329.4,243.3 L328.9,243.8 L328.4,244 L327.9,245.3 L327.4,246.5 L326.9,247.2 L326.4,248.7 L325.9,249 L325.4,249.2 L324.9,249.9 L324.4,250.8 L323.9,251.4 L323.4,251.5 L322.9,251.8 L322.4,252.7 L321.9,253.1 L321.4,253.3 L320.9,253.9 L320.4,254.8 L319.9,256.1 L319.4,256.8 L318.9,257 L318.4,256.7 L317.9,257 L317.4,256.6 L316.9,257.2 L316.4,256.9 L315.9,257.3 L315.4,257.6 L314.9,258.1 L314.4,257.6 L313.9,257.7 L313.4,259 L312.9,259.7 L312.4,259.9 L311.9,259.8 L311.4,260.8 L310.9,261.2 L310.4,261.8 L309.9,262.3 L309.4,262.9 L308.9,263.7 L308.4,264.3 L307.9,264.8 L307.4,265.2 L306.9,264.9 L306.4,264.9 L305.9,265.9 L305.4,266.6 L304.9,267.5 L304.4,268.4 L303.9,268.6 L303.4,268.9 L302.9,269.6 L302.4,270 L301.9,271.5 L301.4,272.5 L300.9,271.8 L300.4,271.8 L299.9,272.3 L299.4,272.7 L298.9,273 L298.4,272.7 L297.9,273.2 L297.4,273.4 L296.9,273.3 L296.4,273.1 L295.9,274.6 L295.4,275.2 L294.9,275.5 L294.4,278.5 L293.9,281.6 L293.4,283.5 L292.9,283.8 L292.4,284.4 L291.9,284.9 L291.4,285.2 L290.9,285.7 L290.4,286.2 L289.9,288.7 L289.4,290.3 L288.9,289 L288.4,289 L287.9,288.6 L287.3,288.3 L286.9,287.9 L286.4,287.6 L285.8,287.1 L285.4,286.4 L284.9,287.2 L284.3,287.6 L283.9,288.4 L283.4,288.5 L282.8,288.1 L282.4,290.2 L281.9,290.1 L281.3,290.7 L280.9,291.6 L280.4,293 L279.8,293.5 L279.4,294.7 L278.9,295.6 L278.3,296.9 L277.9,297.1 L277.4,299.1 L276.8,298.6 L276.4,298.8 L275.9,298.9 L275.3,300.1 L274.9,299 L274.4,300.1 L273.8,300.2 L273.4,300.2 L272.9,300.7 L272.3,299.7 L271.9,299.6 L271.4,299.1 L270.8,299.2 L270.4,299.1 L269.9,299.1 L269.3,300.3 L268.9,300.9 L268.4,301.7 L267.8,302.5 L267.4,303.7 L266.9,304.5 L266.3,305.1 L265.9,307.5 L265.4,308.1 L264.8,310.1 L264.4,312.6 L263.9,314.1 L263.3,316.1 L262.9,316.9 L262.4,317.9 L261.8,318 L261.4,318.4 L260.9,319.7 L260.3,321.7 L259.9,322.9 L259.4,324.4 L258.8,326.5 L258.4,329 L257.9,332.1 L257.3,336.7 L256.9,341.6 L256.4,346.1 L255.8,351.2 L255.3,356.5 L254.8,359.7 L254.3,361.2 L253.8,362 L253.3,363 L252.8,364.4 L252.3,365.7 L251.8,366.1 L251.3,367.6 L250.8,369.1 L250.3,370 L249.8,370.6 L249.3,370.6Z" fill="#ff0000"/><polyline points="249.3,370.6 251.3,363.5 253.3,362.9 255.3,353.8 257.3,335.8 259.3,321 261.3,318.9 263.3,312.6 265.3,308.5 267.3,300.4 269.3,301.7 271.3,293.1 273.3,303.8 275.3,294.8 277.3,297.2 279.3,290.8 281.3,289.6 283.3,283.6 285.3,289 287.3,285.4 289.3,289.5 291.3,282.2 293.3,282.7 295.3,270.8 297.3,278 299.3,267.3 301.3,271.6 303.3,265.4 305.3,266.2 307.3,260 309.3,263 311.3,255.6 313.3,259.9 315.3,254.3 317.3,255.9 319.3,252 321.3,254 323.3,246.8 325.3,249.9 327.3,241.9 329.3,242 331.3,236.6 333.3,238.2 335.3,228.3 337.3,232.9 339.3,228 341.3,220.5 343.3,212.5 345.3,207.1 347.3,198 349.3,202.9 351.3,196.2 353.3,198.1 355.3,192.2 357.3,190 359.3,183.6 361.3,185.4 363.3,176.5 365.3,182.2 367.3,171.9 369.3,180.2 371.3,174 373.3,178 375.3,174.4 377.3,179.5 379.3,169.5 381.3,175.5 383.3,169.5 385.3,172 387.3,161.9 389.3,164.5 391.3,157.8 393.3,165.6 395.3,156.4 397.3,162.3 399.3,153.4 401.3,161.1 403.3,154.9 405.3,161.9 407.3,150.4 409.3,159.4 411.3,151.3 413.3,154.4 415.3,149.8 417.3,152.5 419.3,145.8 421.3,150.4 423.3,142.7 425.3,148.3 427.3,140.4 429.3,148.3 431.3,143.2 433.3,145.4 435.3,139.6 437.3,146.2 439.3,139.1 441.4,145.8 443.4,138.1 445.4,140.3 447.4,130.1 449.4,135.7 451.4,129.7 453.4,137.9 455.4,130.9 457.4,135.1 459.4,129.9 461.4,129.6 463.4,126.4 465.4,127.5 467.4,124.4 469.4,128.6 471.4,120.3 473.4,130.5 475.4,121.7 477.4,126.4 479.4,118.6 481.4,122.5 483.4,113.2 485.4,119.1 487.4,112.1 489.4,116.6 491.4,109.3 493.4,116.5 495.4,107.6 497.4,114.2 499.4,108 501.4,112.2 503.4,106.1 505.4,113.1 507.4,105.1 509.4,109.5 511.4,103.5 513.4,106.1 515.4,97.7 517.4,104.1 519.4,97.5 521.4,106.3 523.4,98.3 525.4,102.8 527.4,96.3 529.4,102.6 531.4,94.4 533.4,96.5 535.4,89.7 537.4,101.4 539.4,93.9 541.4,102.6 543.4,99.1 545.4,105.3 547.4,95.5 549.4,100.3 551.4,88.1" fill="none" stroke="#ff0000" stroke-width="2.6" stroke-linejoin="round" stroke-linecap="round" />
<path d="M71.6,358.6 L72.1,359.1 L72.6,359.3 L73.1,359.2 L73.6,358.6 L74.1,358.3 L74.6,357.7 L75.1,357.8 L75.6,358.2 L76.1,358.7 L76.6,358.9 L77.1,358.8 L77.6,358.9 L78.1,359.3 L78.6,359.3 L79.1,359.8 L79.6,359.7 L80.1,360 L80.6,359.9 L81.1,359.6 L81.6,359.7 L82.1,359.5 L82.6,360.3 L83.1,360.7 L83.6,361.3 L84.1,361.8 L84.6,362.2 L85.1,362.5 L85.1,368.2 L84.6,368.3 L84.1,368.2 L83.6,368 L83.1,368.1 L82.6,368.3 L82.1,368.1 L81.6,368.5 L81.1,368.6 L80.6,369 L80.1,368.2 L79.6,367 L79.1,366.1 L78.6,366.5 L78.1,367.3 L77.6,367.9 L77.1,367.1 L76.6,366.6 L76.1,365.7 L75.6,366.3 L75.1,366.8 L74.6,367.6 L74.1,367.6 L73.6,367.3 L73.1,367.2 L72.6,367.7 L72.1,367.9 L71.6,367.9Z" fill="#00ad50"/><polyline points="71.6,364 72.1,364.2 72.6,364.1 73.1,363.8 73.6,363.4 74.1,363.4 74.6,363 75.1,362.6 75.6,362.6 76.1,362.6 76.6,362.6 77.1,362.3 77.6,362.3 78.1,362.4 78.6,362.3 79.1,362.6 79.6,362.8 80.1,363.5 80.6,363.7 81.1,363.8 81.6,364.2 82.1,364.4 82.6,364.7 83.1,364.8 83.6,364.9 84.1,365.3 84.6,365.5 85.1,365.6" fill="none" stroke="#00ad50" stroke-width="2.4" stroke-linejoin="round" stroke-linecap="round" />
<path d="M85.1,362.2 L85.6,362.3 L86.1,362.2 L86.6,362.2 L87.1,362.5 L87.6,362.7 L88.1,362.8 L88.6,362.8 L89.1,362.4 L89.6,361.9 L90.1,362.1 L90.6,362.4 L91.1,362.9 L91.6,362.8 L92.1,362.8 L92.6,362.9 L93.1,363 L93.6,362.9 L94.1,362.9 L94.6,363.5 L95.1,363.9 L95.6,364.5 L96.1,363.9 L96.6,363.1 L97.1,362.8 L97.6,363.6 L98.1,364.2 L98.6,365 L99.1,364.9 L99.6,364.5 L100.1,364.2 L100.6,364 L101.1,363.9 L101.6,363.7 L102.1,363.8 L102.6,363.9 L103.1,364 L103.6,363.8 L104.1,363.9 L104.6,364 L105.1,364.1 L105.6,364.5 L106.1,364.7 L106.1,371.2 L105.6,370.9 L105.1,370.3 L104.6,370 L104.1,370.4 L103.6,370.9 L103.1,371.6 L102.6,370.8 L102.1,370 L101.6,369.3 L101.1,369.5 L100.6,369.8 L100.1,370 L99.6,370.3 L99.1,370.7 L98.6,370.7 L98.1,370.3 L97.6,369.9 L97.1,369.3 L96.6,368.8 L96.1,368.6 L95.6,368.4 L95.1,368.6 L94.6,369 L94.1,369.3 L93.6,368.9 L93.1,368.7 L92.6,368.2 L92.1,368 L91.6,367.9 L91.1,367.9 L90.6,368.2 L90.1,368.8 L89.6,369.4 L89.1,369 L88.6,368.4 L88.1,367.5 L87.6,367.5 L87.1,367.4 L86.6,367.2 L86.1,367.4 L85.6,367.6 L85.1,367.6Z" fill="#00ad50"/><polyline points="85.1,364.6 85.6,364.7 86.1,364.7 86.6,364.7 87.1,364.9 87.6,365 88.1,365 88.6,365.3 89.1,365.2 89.6,365.1 90.1,364.9 90.6,364.9 91.1,365.1 91.6,365.3 92.1,365.5 92.6,365.8 93.1,366 93.6,366.1 94.1,366.3 94.6,366.4 95.1,366.4 95.6,366.5 96.1,366.6 96.6,366.6 97.1,366.9 97.6,367 98.1,367 98.6,367 99.1,367.4 99.6,367.3 100.1,367.5 100.6,367.6 101.1,367.7 101.6,367.8 102.1,367.7 102.6,367.6 103.1,367.5 103.6,367.5 104.1,367.6 104.6,367.9 105.1,367.7 105.6,367.8 106.1,367.6" fill="none" stroke="#00ad50" stroke-width="2.4" stroke-linejoin="round" stroke-linecap="round" />
<path d="M106.1,365.9 L106.6,366 L107.1,366 L107.6,365.9 L108.1,365.9 L108.6,365.9 L109.1,365.9 L109.6,366.2 L110.1,366.3 L110.6,366.4 L111.1,366.3 L111.6,366.3 L112.1,366.2 L112.6,366.3 L113.1,366.3 L113.6,366.2 L114.1,366.3 L114.6,366.3 L115.1,366.4 L115.6,366.6 L116.1,366.7 L116.6,366.6 L117.1,366.6 L117.6,366.4 L118.1,366.5 L118.6,366.4 L119.1,366.4 L119.6,366.6 L120.1,366.2 L120.6,366.1 L121.1,365.8 L121.6,366 L122.1,366.1 L122.6,366.3 L123.1,366.1 L123.6,366 L124.1,365.8 L124.6,365.9 L125.1,366.2 L125.6,366.4 L126.1,366.1 L126.6,366 L127.1,365.9 L127.6,366.2 L128.1,366.2 L128.6,366.4 L129.1,366.4 L129.6,366.5 L130.1,366.5 L130.6,366.6 L131.1,366.5 L131.6,366.5 L132.1,366.4 L132.2,366.3 L132.2,368.7 L132.1,368.7 L131.6,368.6 L131.1,368.6 L130.6,368.5 L130.1,368.4 L129.6,368.4 L129.1,368.3 L128.6,368.2 L128.1,368.4 L127.6,368.6 L127.1,368.7 L126.6,368.5 L126.1,368.4 L125.6,368.4 L125.1,368.5 L124.6,368.5 L124.1,368.7 L123.6,368.5 L123.1,368.4 L122.6,368.2 L122.1,368.2 L121.6,368.2 L121.1,368.3 L120.6,368.4 L120.1,368.5 L119.6,368.6 L119.1,368.6 L118.6,368.6 L118.1,368.7 L117.6,368.5 L117.1,368.6 L116.6,368.5 L116.1,368.7 L115.6,368.8 L115.1,368.8 L114.6,368.7 L114.1,368.7 L113.6,368.7 L113.1,368.7 L112.6,368.6 L112.1,368.5 L111.6,368.6 L111.1,368.8 L110.6,368.9 L110.1,368.7 L109.6,368.5 L109.1,368.2 L108.6,368.3 L108.1,368.3 L107.6,368.4 L107.1,368.4 L106.6,368.3 L106.1,368Z" fill="#00ad50"/><polyline points="106.1,367.1 106.6,367.2 107.1,367.2 107.6,367.1 108.1,367.2 108.6,367.3 109.1,367.4 109.6,367.4 110.1,367.4 110.6,367.3 111.1,367.3 111.6,367.3 112.1,367.3 112.6,367.3 113.1,367.4 113.6,367.3 114.1,367.4 114.6,367.4 115.1,367.5 115.6,367.6 116.1,367.6 116.6,367.5 117.1,367.5 117.6,367.4 118.1,367.5 118.6,367.5 119.1,367.4 119.6,367.6 120.1,367.4 120.6,367.4 121.1,367.4 121.6,367.3 122.1,367.3 122.6,367.3 123.1,367.3 123.6,367.4 124.1,367.4 124.6,367.3 125.1,367.4 125.6,367.4 126.1,367.3 126.6,367.2 127.1,367.3 127.6,367.4 128.1,367.3 128.6,367.4 129.1,367.4 129.6,367.5 130.1,367.5 130.6,367.5 131.1,367.5 131.6,367.4 132.1,367.5 132.2,367.5" fill="none" stroke="#00ad50" stroke-width="2.4" stroke-linejoin="round" stroke-linecap="round" />
<polyline points="132.2,367.3 132.6,360.4 132.8,299.7 133.4,298.3" fill="none" stroke="#00ad50" stroke-width="2.2" stroke-linejoin="round" stroke-linecap="round" />
<path d="M133.4,297.5 L133.9,289.5 L134.4,279.4 L134.9,275.7 L135.4,273.1 L135.9,269.2 L136.4,265.9 L136.9,262.5 L137.4,258.8 L137.9,256.1 L138.4,253.8 L138.9,251.7 L139.4,249.7 L139.9,248.5 L140.4,246.7 L140.9,243.4 L141.4,242.8 L141.9,241.1 L142.4,239.4 L142.9,238.2 L143.4,237 L143.9,236.2 L144.4,234.8 L144.9,234.1 L145.4,232.4 L145.9,232.4 L146.4,230.8 L146.9,229.8 L147.4,229 L147.9,228.3 L148.4,227.2 L148.9,226.5 L149.4,222.9 L149.9,221.5 L150.4,220.1 L150.9,218.4 L151.4,218 L151.9,215.9 L152.4,214.5 L152.9,212.5 L153.4,212.5 L153.9,211.2 L154.4,210.1 L154.9,211.4 L155.4,211.4 L155.9,210.6 L156.4,209.8 L156.9,208.1 L157.4,206.7 L157.9,206.1 L158.4,204 L158.9,203.5 L159.4,201.7 L159.9,201 L160.4,200.6 L160.9,202.1 L161.4,203 L161.9,202.9 L162.4,202 L162.9,201.9 L163.4,202.2 L163.9,201.9 L164.4,202.4 L164.9,202.9 L165.4,202.5 L165.9,201.8 L166.4,201.9 L166.9,201.2 L167.4,201.3 L167.9,200.6 L168.4,201 L168.9,199.9 L169.4,198.2 L169.9,197.4 L170.4,196 L170.9,194.5 L171.4,194.4 L171.9,195.2 L172.4,194.2 L172.9,194.6 L173.4,194.8 L173.9,195.1 L174.4,196 L174.9,195.5 L175.4,195 L175.9,193.1 L176.4,191.3 L176.9,189.4 L177.4,187.4 L177.9,186.4 L178.4,187.1 L178.9,188.7 L179.4,189.6 L179.9,190.4 L180.4,190.9 L180.9,190.8 L181.4,191.4 L181.9,192.8 L182.4,192.2 L182.9,192.9 L183.4,192.6 L183.9,191.9 L184.4,191.5 L184.9,191.4 L185.4,191.8 L185.9,191.5 L186.4,191.5 L186.9,190.6 L187.4,190 L187.9,189 L188.4,188.1 L188.9,186.7 L189.4,186.1 L189.9,185.9 L190.4,184.8 L190.9,183.9 L191.4,183.3 L191.9,182.7 L192.4,182.7 L192.9,182.2 L193.4,180.9 L193.9,179.8 L194.4,179.7 L194.9,179.6 L195.4,179.8 L195.9,179.4 L196.4,179 L196.9,177.5 L197.4,177.9 L197.9,176.9 L198.4,177 L198.9,175.9 L199.4,175.1 L199.9,174.8 L200.4,174.2 L200.9,173.4 L201.4,173.6 L201.9,173.7 L202.4,173.5 L202.9,172.9 L203.4,172.1 L203.9,171.4 L204.4,170.8 L204.9,170.5 L205.4,170.7 L205.9,170.3 L206.4,169.5 L206.9,168.8 L207.4,169.3 L207.9,169.1 L208.4,169 L208.9,168.8 L209.4,168.7 L209.9,168.4 L210.4,168.6 L210.9,168.6 L211.4,166.4 L211.9,165.9 L212.4,167.3 L212.9,166 L213.4,165.6 L213.9,165.8 L214.4,165.3 L214.9,165.6 L215.4,164.4 L215.9,163.1 L216.4,162.6 L216.9,161.8 L217.4,160.8 L217.9,160.8 L218.4,160.7 L218.9,160.4 L219.4,159.8 L219.9,159.7 L220.4,159.4 L220.9,158.8 L221.4,158.9 L221.9,158.9 L222.4,158.7 L222.9,158.8 L223.4,157.9 L223.9,157.6 L224.4,157.1 L224.9,157.6 L225.4,157.7 L225.9,158.7 L226.4,159.2 L226.9,158.6 L227.4,157.4 L227.9,157.3 L228.4,156.6 L228.9,156.1 L229.4,155 L229.9,155 L230.4,154.7 L230.9,154.5 L231.4,154.3 L231.9,153.3 L232.4,151.6 L232.9,151.1 L233.4,150.4 L233.9,149.9 L234.4,150.4 L234.9,150.3 L235.4,151.2 L235.9,151.2 L236.4,151.5 L236.9,151.7 L237.4,152.1 L237.9,151.2 L238.4,151.7 L238.9,151.6 L239.4,150.9 L239.9,151.2 L240.4,151.3 L240.9,151.9 L241.4,152.1 L241.9,152.1 L242.4,151 L242.9,151.8 L243.4,152.5 L243.9,152.7 L244.4,152.7 L244.9,153.2 L245.4,152.3 L245.9,152.5 L246.4,152.2 L246.9,151.5 L247.4,151.6 L247.9,151.7 L248.4,152.6 L248.9,153 L249.4,151.8 L249.9,150.6 L250.4,150.5 L250.9,150.3 L251.4,149.8 L251.9,149 L252.4,148.9 L252.9,148.4 L253.4,148.1 L253.9,148.8 L254.4,149 L254.9,148.7 L255.4,148.1 L255.9,148.2 L256.4,149.4 L256.9,149.2 L257.4,150.3 L257.9,149.9 L258.4,149.8 L258.9,150.3 L259.4,149.9 L259.9,150 L260.4,149.1 L260.9,149.3 L261.4,149.7 L261.9,149 L262.4,148.8 L262.9,148.3 L263.4,146.7 L263.9,148.1 L264.4,148.2 L264.9,148.3 L265.4,148.2 L265.9,147.9 L266.4,148.9 L266.9,147.3 L267.4,146.8 L267.9,146.1 L268.4,145.6 L268.9,145.7 L269.4,144.9 L269.9,143.8 L270.4,142.8 L270.9,142.9 L271.4,143.2 L271.9,143.3 L272.4,143.9 L272.9,143.3 L273.4,143.6 L273.9,143.7 L274.4,143.2 L274.9,142.5 L275.4,142.7 L275.9,142 L276.4,141.5 L276.9,140.7 L277.4,141.5 L277.9,141.2 L278.4,140.6 L278.9,140.2 L279.4,139.8 L279.9,139.7 L280.4,138.4 L280.9,137.6 L281.4,137.7 L281.9,138.2 L282.4,137.4 L282.9,137.3 L283.4,136.8 L283.9,135.2 L284.4,134.9 L284.9,134.1 L285.4,134.5 L285.9,134.2 L286.4,134 L286.9,133 L287.4,133 L287.9,131.7 L288.4,131.7 L288.9,132.5 L289.4,131.6 L289.9,132 L290.4,132.9 L290.9,132.9 L291.4,133.7 L291.9,133.8 L292.4,133.6 L292.9,132.5 L293.4,132.1 L293.9,131.4 L294.4,133.1 L294.9,133.4 L295.4,133.4 L295.9,132.8 L296.4,134 L296.9,133.4 L297.4,134.2 L297.9,134.5 L298.4,134.2 L298.9,133.5 L299.4,133.2 L299.9,132.1 L300.4,132.3 L300.9,133 L301.4,133.2 L301.9,133.4 L302.4,132.6 L302.9,132.4 L303.4,131.4 L303.9,130.8 L304.4,130.9 L304.9,132.1 L305.4,131.7 L305.9,131.2 L306.4,129.7 L306.9,129.5 L307.4,128.6 L307.9,127.4 L308.4,126.3 L308.9,126.2 L309.4,125.8 L309.9,126 L310.4,125.7 L310.9,125.4 L311.4,126.1 L311.9,126.3 L312.4,126.4 L312.9,127 L313.4,126.7 L313.9,125.7 L314.4,124.9 L314.9,123.6 L315.4,123.6 L315.9,123.1 L316.4,123.1 L316.9,123.3 L317.4,122.5 L317.9,122.4 L318.4,122.9 L318.9,122.6 L319.4,122.9 L319.9,122.4 L320.4,121.6 L320.9,121.1 L321.4,119.8 L321.9,120 L322.4,119.5 L322.9,120.1 L323.4,119.1 L323.9,119 L324.4,119 L324.9,118.6 L325.4,118.6 L325.9,117.9 L326.4,117.1 L326.9,116.1 L327.4,115.6 L327.9,115 L328.4,115.1 L328.9,114.8 L329.4,114.4 L329.9,113.9 L330.4,112.7 L330.9,112.5 L331.4,112.8 L331.9,112 L332.4,111.9 L332.9,112.3 L333.4,111.9 L333.9,112 L334.4,111.8 L334.9,113.2 L335.4,113.9 L335.9,114.4 L336.4,113.8 L336.9,113.9 L337.4,113.6 L337.9,113.6 L338.4,113 L338.9,112.9 L339.4,112.2 L339.9,112.2 L340.4,113 L340.9,111.9 L341.4,110.9 L341.9,111.1 L342.4,111.4 L342.9,110.9 L343.4,111.1 L343.9,111.1 L344.4,111.2 L344.9,111.8 L345.4,111.1 L345.9,111.2 L346.4,111 L346.9,110.3 L347.4,110.3 L347.9,109.2 L348.4,108.1 L348.9,108.6 L349.4,107.7 L349.9,108.6 L350.4,109 L350.9,108.4 L351.4,107.6 L351.9,106.1 L352.4,105.9 L352.9,104.8 L353.4,105.7 L353.9,104.5 L354.4,104.5 L354.9,102.8 L355.4,102.6 L355.9,103.4 L356.4,103.1 L356.9,102.6 L357.4,102.3 L357.9,102.4 L358.4,102.9 L358.9,102.6 L359.4,101.2 L359.9,101.4 L360.4,101.9 L360.9,103.1 L361.4,103 L361.9,102.8 L362.4,102.2 L362.9,102.4 L363.4,103.2 L363.9,102.3 L364.4,102 L364.9,101.1 L365.4,100.4 L365.9,100.1 L366.4,100.2 L366.9,99.4 L367.4,99 L367.9,99.7 L368.4,99.7 L368.9,99.9 L369.4,99.8 L369.9,99.4 L370.4,99.3 L370.9,99.3 L371.4,98.9 L371.9,99.2 L372.4,98.9 L372.9,99.1 L373.4,98.7 L373.9,98.8 L374.4,98 L374.9,97.3 L375.4,96.2 L375.9,96.7 L376.4,96.7 L376.9,96.5 L377.4,96.5 L377.9,95.6 L378.4,95.4 L378.9,94.8 L379.4,93.3 L379.9,93 L380.4,92.2 L380.9,92.9 L381.4,92.2 L381.9,91.7 L382.4,92.1 L382.9,91.9 L383.4,90.8 L383.9,90.8 L384.4,90.1 L384.9,91 L385.4,90.1 L385.9,89.5 L386.4,87.6 L386.9,87.1 L387.4,88.2 L387.9,87.9 L388.4,87.2 L388.9,87.2 L389.4,86.8 L389.9,86.7 L390.4,88 L390.9,88.9 L391.4,89.5 L391.9,90.1 L392.4,89.1 L392.9,87.4 L393.4,87.6 L393.9,87.4 L394.4,87.1 L394.9,86.6 L395.4,86.7 L395.9,86.6 L396.4,86.4 L396.9,86.3 L397.4,85.7 L397.9,85.1 L398.4,85.6 L398.9,85 L399.4,85.8 L399.9,85.8 L400.4,85.6 L400.9,86 L401.4,85.3 L401.9,85 L402.4,84.5 L402.9,84.3 L403.4,84.5 L403.9,85.5 L404.4,85.5 L404.9,84.6 L405.4,83.8 L405.9,82.5 L406.4,82.8 L406.9,83.2 L407.4,83.3 L407.9,83.3 L408.4,83.4 L408.9,83.5 L409.4,83.6 L409.9,83.6 L410.4,82.7 L410.9,83.1 L411.4,83.7 L411.9,82.5 L412.4,82.2 L412.9,81.3 L413.4,81.5 L413.9,81.1 L414.4,81.6 L414.9,81.8 L415.4,81.1 L415.9,80.4 L416.4,79.6 L416.9,79.6 L417.4,78.7 L417.9,78.6 L418.4,77.4 L418.9,77.7 L419.4,77.6 L419.9,76.6 L420.4,75.8 L420.9,75.6 L421.4,75.5 L421.9,73.4 L422.4,73.4 L422.9,74.1 L423.4,73.6 L423.9,72.5 L424.4,73.1 L424.9,73.2 L425.4,73.2 L425.9,73.4 L426.4,72.5 L426.9,72 L427.4,71.3 L427.9,70.6 L428.4,70.4 L428.9,69.8 L429.4,70.8 L429.9,71.1 L430.4,71.5 L430.9,70.4 L431.4,70.2 L431.9,70.1 L432.4,70.1 L432.9,70.4 L433.4,69.8 L433.9,69.2 L434.4,69.7 L434.9,71 L435.4,72 L435.9,71.5 L436.4,70.7 L436.9,70.5 L437.4,70.5 L437.9,71.2 L438.4,70.7 L438.9,69.9 L439.4,70.2 L439.9,69.4 L440.4,68.5 L440.9,68.6 L441.4,68.2 L441.9,67.2 L442.4,66.8 L442.9,66.3 L443.4,66 L443.9,65.3 L444.4,65.5 L444.9,65.1 L445.4,64.6 L445.9,65.2 L446.4,64.5 L446.9,64.9 L447.4,65.2 L447.9,64.9 L448.4,64.9 L448.9,63.8 L449.4,63.9 L449.9,63.2 L450.4,62.7 L450.9,62.8 L451.4,62.4 L451.9,62.4 L452.4,62.7 L452.9,63.3 L453.4,63.4 L453.9,63.9 L454.4,63.3 L454.9,63 L455.4,63.3 L455.9,63.8 L456.4,63.9 L456.9,63.4 L457.4,62.3 L457.9,61.4 L458.4,61.8 L458.9,60.9 L459.4,60.5 L459.9,60.6 L460.4,60.5 L460.9,59.7 L461.4,60.6 L461.9,60.3 L462.4,60.1 L462.9,60.2 L463.4,59.6 L463.9,59.6 L464.4,59.1 L464.9,58.1 L465.4,57.2 L465.9,57 L466.4,56.8 L466.9,56.3 L467.4,55.9 L467.9,55.7 L468.4,56.1 L468.9,56.7 L469.4,56.4 L469.9,56.4 L470.4,55.1 L470.9,54.4 L471.4,54 L471.9,53.5 L472.4,53.9 L472.9,52.7 L473.4,53.1 L473.9,53.5 L474.4,54.9 L474.9,54.5 L475.4,54.7 L475.9,55.5 L476.4,56 L476.9,55.2 L477.4,54.8 L477.9,53.9 L478.4,53.8 L478.9,54 L479.4,54.6 L479.9,54.7 L480.4,54.9 L480.9,55.2 L481.4,54.4 L481.9,54.5 L482.4,54.7 L482.9,54.3 L483.4,53.4 L483.9,53.2 L484.4,53 L484.9,53.1 L485.4,51.7 L485.9,51.3 L486.4,52.3 L486.9,52.7 L487.4,52.3 L487.9,51.7 L488.4,51.1 L488.9,50.2 L489.4,49.6 L489.9,49.2 L490.4,48.2 L490.9,47.9 L491.4,47.8 L491.9,46.8 L492.4,46.3 L492.9,45.2 L493.4,45 L493.9,45 L494.4,44.5 L494.9,44.4 L495.4,44.5 L495.9,44.7 L496.4,43.7 L496.9,43.3 L497.4,42.3 L497.9,41.1 L498.4,41.7 L498.9,42.1 L499.4,42.8 L499.9,43.1 L500.4,42.6 L500.9,42.6 L501.4,42.1 L501.9,42.7 L502.4,41.1 L502.9,41.2 L503.4,40.8 L503.9,41.1 L504.4,41.6 L504.9,41.1 L505.4,41.7 L505.9,42.1 L506.4,41.2 L506.9,42.3 L507.4,41.6 L507.9,40.9 L508.4,41.6 L508.9,41.2 L509.4,41.4 L509.9,41.5 L510.4,41 L510.9,42 L511.4,43 L511.9,43 L512.4,44 L512.9,43.9 L513.4,44 L513.9,43.8 L514.4,43 L514.9,42.8 L515.4,42.3 L515.9,42.6 L516.4,42.5 L516.9,41.9 L517.4,42.3 L517.9,42.2 L518.4,42.9 L518.9,42.3 L519.4,41.6 L519.9,40.8 L520.4,40.6 L520.9,40.1 L521.4,39.8 L521.9,40.5 L522.4,40.7 L522.9,40.1 L523.4,40.2 L523.9,39.9 L524.4,39.6 L524.9,39.4 L525.4,39.4 L525.9,39.7 L526.4,40.1 L526.9,40 L527.4,39.4 L527.9,39.3 L528.4,39.1 L528.9,38.9 L529.4,38.1 L529.9,38 L530.4,36.9 L530.9,37.7 L531.4,38.1 L531.9,38.6 L532.4,37.9 L532.9,37.8 L533.4,38.3 L533.9,37.8 L534.4,36.9 L534.9,36.6 L535.4,35 L535.9,35.3 L536.4,35.4 L536.9,34.3 L537.4,34.6 L537.9,35 L538.4,35.1 L538.9,35.2 L539.4,35.8 L539.9,35.6 L540.4,36 L540.9,35.5 L541.4,34.6 L541.9,34.1 L542.4,33.1 L542.9,33.2 L543.4,32.7 L543.9,32.9 L544.4,33 L544.9,33.9 L545.4,34.8 L545.9,34.3 L546.4,34 L546.9,33.8 L547.4,33.3 L547.9,34.3 L548.4,34.9 L548.9,34.5 L549.4,33.5 L549.9,33 L550.4,33 L550.9,33.8 L551.4,32.9 L551.9,33.7 L552.4,32.7 L552.4,37.1 L551.9,38.1 L551.4,37.3 L550.9,38.2 L550.4,37.4 L549.9,37.4 L549.4,37.9 L548.9,38.9 L548.4,39.3 L547.9,38.7 L547.4,37.7 L546.9,38.2 L546.4,38.4 L545.9,38.7 L545.4,39.2 L544.9,38.3 L544.4,37.4 L543.9,37.3 L543.4,37.1 L542.9,37.6 L542.4,37.5 L541.9,38.5 L541.4,39 L540.9,39.9 L540.4,40.4 L539.9,40 L539.4,40.2 L538.9,39.6 L538.4,39.5 L537.9,39.4 L537.4,39 L536.9,38.7 L536.4,39.8 L535.9,39.7 L535.4,39.4 L534.9,41 L534.4,41.3 L533.9,42.2 L533.4,42.7 L532.9,42.2 L532.4,42.3 L531.9,43 L531.4,42.5 L530.9,42.1 L530.4,41.3 L529.9,42.4 L529.4,42.5 L528.9,43.3 L528.4,43.5 L527.9,43.7 L527.4,43.8 L526.9,44.4 L526.4,44.5 L525.9,44.1 L525.4,43.8 L524.9,43.8 L524.4,44 L523.9,44.3 L523.4,44.6 L522.9,44.5 L522.4,45.1 L521.9,44.9 L521.4,44.2 L520.9,44.5 L520.4,45 L519.9,45.2 L519.4,46 L518.9,46.7 L518.4,47.3 L517.9,46.6 L517.4,46.7 L516.9,46.3 L516.4,46.9 L515.9,47 L515.4,46.7 L514.9,47.2 L514.4,47.4 L513.9,48.2 L513.4,48.4 L512.9,48.3 L512.4,48.4 L511.9,47.4 L511.4,47.4 L510.9,46.4 L510.4,45.4 L509.9,45.9 L509.4,45.8 L508.9,45.6 L508.4,46 L507.9,45.3 L507.4,46 L506.9,46.7 L506.4,45.6 L505.9,46.5 L505.4,46.1 L504.9,45.5 L504.4,46 L503.9,45.5 L503.4,45.2 L502.9,45.6 L502.4,45.5 L501.9,47.1 L501.4,46.5 L500.9,47 L500.4,47 L499.9,47.5 L499.4,47.2 L498.9,46.5 L498.4,46.1 L497.9,45.5 L497.4,46.7 L496.9,47.7 L496.4,48.1 L495.9,49.1 L495.4,48.9 L494.9,48.8 L494.4,48.9 L493.9,49.4 L493.4,49.4 L492.9,49.6 L492.4,50.7 L491.9,51.2 L491.4,52.2 L490.9,52.3 L490.4,52.6 L489.9,53.6 L489.4,54 L488.9,54.6 L488.4,55.5 L487.9,56.1 L487.4,56.7 L486.9,57.1 L486.4,56.7 L485.9,55.7 L485.4,56.1 L484.9,57.5 L484.4,57.4 L483.9,57.6 L483.4,57.8 L482.9,58.7 L482.4,59.1 L481.9,58.9 L481.4,58.8 L480.9,59.6 L480.4,59.3 L479.9,59.1 L479.4,59 L478.9,58.4 L478.4,58.2 L477.9,58.3 L477.4,59.2 L476.9,59.6 L476.4,60.4 L475.9,59.9 L475.4,59.1 L474.9,58.9 L474.4,59.3 L473.9,57.9 L473.4,57.5 L472.9,57.1 L472.4,58.3 L471.9,57.9 L471.4,58.4 L470.9,58.8 L470.4,59.5 L469.9,60.8 L469.4,60.8 L468.9,61.1 L468.4,60.5 L467.9,60.1 L467.4,60.3 L466.9,60.7 L466.4,61.2 L465.9,61.4 L465.4,61.6 L464.9,62.5 L464.4,63.5 L463.9,64 L463.4,64 L462.9,64.6 L462.4,64.5 L461.9,64.7 L461.4,65 L460.9,64.1 L460.4,64.9 L459.9,65 L459.4,64.9 L458.9,65.3 L458.4,66.2 L457.9,65.8 L457.4,66.7 L456.9,67.8 L456.4,68.3 L455.9,68.2 L455.4,67.7 L454.9,67.4 L454.4,67.7 L453.9,68.3 L453.4,67.8 L452.9,67.7 L452.4,67.1 L451.9,66.8 L451.4,66.8 L450.9,67.2 L450.4,67.1 L449.9,67.6 L449.4,68.3 L448.9,68.2 L448.4,69.3 L447.9,69.3 L447.4,69.6 L446.9,69.3 L446.4,68.9 L445.9,69.6 L445.4,69 L444.9,69.5 L444.4,69.9 L443.9,69.7 L443.4,70.4 L442.9,70.7 L442.4,71.2 L441.9,71.6 L441.4,72.6 L440.9,73 L440.4,72.9 L439.9,73.8 L439.4,74.6 L438.9,74.3 L438.4,75.1 L437.9,75.6 L437.4,74.9 L436.9,74.9 L436.4,75.1 L435.9,75.9 L435.4,76.4 L434.9,75.4 L434.4,74.1 L433.9,73.6 L433.4,74.2 L432.9,74.8 L432.4,74.5 L431.9,74.5 L431.4,74.6 L430.9,74.8 L430.4,75.9 L429.9,75.5 L429.4,75.2 L428.9,74.2 L428.4,74.8 L427.9,75 L427.4,75.7 L426.9,76.4 L426.4,76.9 L425.9,77.8 L425.4,77.6 L424.9,77.6 L424.4,77.5 L423.9,76.9 L423.4,78 L422.9,78.5 L422.4,77.8 L421.9,77.8 L421.4,79.9 L420.9,80 L420.4,80.2 L419.9,81 L419.4,82 L418.9,82.1 L418.4,81.8 L417.9,83 L417.4,83.1 L416.9,84 L416.4,84 L415.9,84.8 L415.4,85.5 L414.9,86.2 L414.4,86 L413.9,85.5 L413.4,85.9 L412.9,85.7 L412.4,86.6 L411.9,86.9 L411.4,88.1 L410.9,87.5 L410.4,87.1 L409.9,88 L409.4,88 L408.9,87.9 L408.4,87.8 L407.9,87.7 L407.4,87.7 L406.9,87.6 L406.4,87.2 L405.9,86.9 L405.4,88.2 L404.9,89 L404.4,89.9 L403.9,89.9 L403.4,88.9 L402.9,88.7 L402.4,88.9 L401.9,89.4 L401.4,89.7 L400.9,90.4 L400.4,90 L399.9,90.2 L399.4,90.2 L398.9,89.4 L398.4,90 L397.9,89.5 L397.4,90.1 L396.9,90.7 L396.4,90.8 L395.9,91 L395.4,91.1 L394.9,91 L394.4,91.5 L393.9,91.8 L393.4,92 L392.9,91.8 L392.4,93.5 L391.9,94.5 L391.4,93.9 L390.9,93.3 L390.4,92.4 L389.9,91.1 L389.4,91.2 L388.9,91.6 L388.4,91.6 L387.9,92.3 L387.4,92.6 L386.9,91.5 L386.4,92 L385.9,93.9 L385.4,94.5 L384.9,95.4 L384.4,94.5 L383.9,95.2 L383.4,95.2 L382.9,96.3 L382.4,96.5 L381.9,96.1 L381.4,96.6 L380.9,97.3 L380.4,96.6 L379.9,97.4 L379.4,97.7 L378.9,99.2 L378.4,99.8 L377.9,100 L377.4,100.9 L376.9,100.9 L376.4,101.1 L375.9,101.1 L375.4,100.6 L374.9,101.7 L374.4,102.4 L373.9,103.2 L373.4,103.1 L372.9,103.5 L372.4,103.3 L371.9,103.6 L371.4,103.3 L370.9,103.7 L370.4,103.7 L369.9,103.8 L369.4,104.2 L368.9,104.3 L368.4,104.1 L367.9,104.1 L367.4,103.4 L366.9,103.8 L366.4,104.6 L365.9,104.5 L365.4,104.8 L364.9,105.5 L364.4,106.4 L363.9,106.7 L363.4,107.6 L362.9,106.8 L362.4,106.6 L361.9,107.2 L361.4,107.4 L360.9,107.5 L360.4,106.3 L359.9,105.8 L359.4,105.6 L358.9,107 L358.4,107.3 L357.9,106.8 L357.4,106.7 L356.9,107 L356.4,107.5 L355.9,107.8 L355.4,107 L354.9,107.2 L354.4,108.9 L353.9,108.9 L353.4,110.1 L352.9,109.2 L352.4,110.3 L351.9,110.5 L351.4,112 L350.9,112.8 L350.4,113.4 L349.9,113 L349.4,112.1 L348.9,113 L348.4,112.5 L347.9,113.6 L347.4,114.7 L346.9,114.7 L346.4,115.4 L345.9,115.6 L345.4,115.5 L344.9,116.2 L344.4,115.6 L343.9,115.5 L343.4,115.5 L342.9,115.3 L342.4,115.8 L341.9,115.5 L341.4,115.3 L340.9,116.3 L340.4,117.4 L339.9,116.6 L339.4,116.6 L338.9,117.3 L338.4,117.4 L337.9,118 L337.4,118 L336.9,118.3 L336.4,118.2 L335.9,118.8 L335.4,118.3 L334.9,117.6 L334.4,116.2 L333.9,116.4 L333.4,116.3 L332.9,116.7 L332.4,116.3 L331.9,116.4 L331.4,117.2 L330.9,116.9 L330.4,117.1 L329.9,118.3 L329.4,118.8 L328.9,119.2 L328.4,119.5 L327.9,119.4 L327.4,120 L326.9,120.5 L326.4,121.5 L325.9,122.3 L325.4,123 L324.9,123 L324.4,123.4 L323.9,123.4 L323.4,123.5 L322.9,124.5 L322.4,123.9 L321.9,124.4 L321.4,124.2 L320.9,125.5 L320.4,126 L319.9,126.8 L319.4,127.3 L318.9,127 L318.4,127.3 L317.9,126.8 L317.4,126.9 L316.9,127.7 L316.4,127.5 L315.9,127.5 L315.4,128 L314.9,128 L314.4,129.3 L313.9,130.1 L313.4,131.1 L312.9,131.4 L312.4,130.8 L311.9,130.7 L311.4,130.5 L310.9,129.8 L310.4,130.1 L309.9,130.4 L309.4,130.2 L308.9,130.6 L308.4,130.7 L307.9,131.8 L307.4,133 L306.9,133.9 L306.4,134.1 L305.9,135.6 L305.4,136.1 L304.9,136.5 L304.4,135.3 L303.9,135.2 L303.4,135.8 L302.9,136.8 L302.4,137 L301.9,137.8 L301.4,137.6 L300.9,137.4 L300.4,136.7 L299.9,136.5 L299.4,137.6 L298.9,137.9 L298.4,138.6 L297.9,138.9 L297.4,138.6 L296.9,137.8 L296.4,138.4 L295.9,137.2 L295.4,137.8 L294.9,137.8 L294.4,137.5 L293.9,135.8 L293.4,136.5 L292.9,136.9 L292.4,138 L291.9,138.2 L291.4,138.1 L290.9,137.3 L290.4,137.3 L289.9,136.4 L289.4,136 L288.9,136.9 L288.4,136.1 L287.9,136.1 L287.4,137.4 L286.9,137.4 L286.4,138.4 L285.9,138.6 L285.4,138.9 L284.9,138.5 L284.4,139.3 L283.9,139.6 L283.4,141.2 L282.9,141.7 L282.4,141.8 L281.9,142.6 L281.4,142.1 L280.9,142 L280.4,142.8 L279.9,144.1 L279.4,144.2 L278.9,144.6 L278.4,145 L277.9,145.6 L277.4,145.9 L276.9,145.1 L276.4,145.9 L275.9,146.4 L275.4,147.1 L274.9,146.9 L274.4,147.6 L273.9,148.1 L273.4,148 L272.9,147.7 L272.4,148.3 L271.9,147.7 L271.4,147.6 L270.9,147.3 L270.4,147.2 L269.9,148.2 L269.4,149.3 L268.9,150.1 L268.4,150 L267.9,150.5 L267.4,151.2 L266.9,151.7 L266.4,153.3 L265.9,152.3 L265.4,152.6 L264.9,152.7 L264.4,152.6 L263.9,152.5 L263.4,151.1 L262.9,152.7 L262.4,153.2 L261.9,153.4 L261.4,154.1 L260.9,153.7 L260.4,153.5 L259.9,154.4 L259.4,154.3 L258.9,154.7 L258.4,154.2 L257.9,154.3 L257.4,154.7 L256.9,153.6 L256.4,153.8 L255.9,152.6 L255.4,152.5 L254.9,153.1 L254.4,153.4 L253.9,153.2 L253.4,152.5 L252.9,152.8 L252.4,153.3 L251.9,153.4 L251.4,154.2 L250.9,154.7 L250.4,154.9 L249.9,155 L249.4,156.2 L248.9,157.4 L248.4,157 L247.9,156.1 L247.4,156 L246.9,155.9 L246.4,156.6 L245.9,156.9 L245.4,156.7 L244.9,157.6 L244.4,157.1 L243.9,157.1 L243.4,156.9 L242.9,156.2 L242.4,155.4 L241.9,156.5 L241.4,156.5 L240.9,156.3 L240.4,155.7 L239.9,155.6 L239.4,155.3 L238.9,156 L238.4,156.1 L237.9,155.6 L237.4,156.5 L236.9,156.1 L236.4,155.9 L235.9,155.6 L235.4,155.6 L234.9,154.7 L234.4,154.8 L233.9,154.3 L233.4,154.8 L232.9,155.5 L232.4,156 L231.9,157.7 L231.4,158.7 L230.9,158.9 L230.4,159.1 L229.9,159.4 L229.4,159.4 L228.9,160.5 L228.4,161 L227.9,161.7 L227.4,161.8 L226.9,163 L226.4,163.6 L225.9,163.1 L225.4,162.1 L224.9,162 L224.4,161.5 L223.9,162 L223.4,162.3 L222.9,163.2 L222.4,163.1 L221.9,163.3 L221.4,163.3 L220.9,163.2 L220.4,163.8 L219.9,164.1 L219.4,164.2 L218.9,164.8 L218.4,165.1 L217.9,165.2 L217.4,165.2 L216.9,166.2 L216.4,167 L215.9,167.5 L215.4,168.8 L214.9,170 L214.4,169.7 L213.9,170.2 L213.4,170 L212.9,170.4 L212.4,171.7 L211.9,170.3 L211.4,170.8 L210.9,173 L210.4,173 L209.9,172.8 L209.4,173.1 L208.9,173.2 L208.4,173.4 L207.9,173.5 L207.4,173.7 L206.9,173.2 L206.4,173.9 L205.9,174.7 L205.4,175.1 L204.9,174.9 L204.4,175.2 L203.9,175.8 L203.4,176.5 L202.9,177.3 L202.4,177.9 L201.9,178.1 L201.4,178 L200.9,177.8 L200.4,178.6 L199.9,179.2 L199.4,179.5 L198.9,180.3 L198.4,181.4 L197.9,181.3 L197.4,182.3 L196.9,181.9 L196.4,183.4 L195.9,183.8 L195.4,184.2 L194.9,184 L194.4,184.1 L193.9,184.2 L193.4,185.3 L192.9,186.6 L192.4,187.1 L191.9,187.1 L191.4,187.7 L190.9,188.3 L190.4,189.2 L189.9,190.3 L189.4,190.5 L188.9,191.1 L188.4,192.5 L187.9,193.4 L187.4,194.4 L186.9,195 L186.4,195.9 L185.9,195.9 L185.4,196.2 L184.9,195.8 L184.4,195.9 L183.9,196.3 L183.4,197 L182.9,197.3 L182.4,196.6 L181.9,197.2 L181.4,195.8 L180.9,195.2 L180.4,195.3 L179.9,194.8 L179.4,194 L178.9,193.1 L178.4,191.5 L177.9,190.8 L177.4,191.8 L176.9,193.8 L176.4,195.7 L175.9,197.5 L175.4,199.4 L174.9,199.9 L174.4,200.4 L173.9,199.5 L173.4,199.2 L172.9,199 L172.4,198.6 L171.9,199.6 L171.4,198.8 L170.9,198.9 L170.4,200.4 L169.9,201.8 L169.4,202.6 L168.9,204.3 L168.4,205.4 L167.9,205 L167.4,205.7 L166.9,205.6 L166.4,206.3 L165.9,206.2 L165.4,206.9 L164.9,207.3 L164.4,206.8 L163.9,206.3 L163.4,206.6 L162.9,206.3 L162.4,206.4 L161.9,207.3 L161.4,207.4 L160.9,206.5 L160.4,205 L159.9,205.4 L159.4,206.1 L158.9,207.9 L158.4,208.4 L157.9,210.5 L157.4,211.1 L156.9,212.5 L156.4,214.2 L155.9,215 L155.4,215.8 L154.9,215.8 L154.4,214.5 L153.9,215.6 L153.4,216.9 L152.9,216.9 L152.4,218.9 L151.9,220.3 L151.4,222.4 L150.9,222.8 L150.4,224.5 L149.9,225.9 L149.4,227.3 L148.9,230.9 L148.4,231.6 L147.9,232.7 L147.4,233.4 L146.9,234.2 L146.4,235.2 L145.9,236.8 L145.4,236.8 L144.9,238.5 L144.4,239.2 L143.9,240.6 L143.4,241.4 L142.9,242.6 L142.4,243.8 L141.9,245.5 L141.4,247.2 L140.9,247.8 L140.4,251.1 L139.9,252.9 L139.4,254.1 L138.9,256.1 L138.4,258.2 L137.9,260.5 L137.4,263.2 L136.9,266.9 L136.4,270.3 L135.9,273.6 L135.4,277.5 L134.9,280.1 L134.4,283.8 L133.9,293.9 L133.4,301.9Z" fill="#00ad50"/><polyline points="133.4,300.1 135.4,274.2 137.4,263 139.4,251.1 141.4,245.6 143.4,235 145.4,237.3 147.4,228.6 149.4,228.2 151.4,217 153.4,216.5 155.4,210.3 157.4,210.9 159.4,200.6 161.4,209.7 163.4,199.4 165.4,206.8 167.4,200.8 169.4,202.9 171.4,191.7 173.4,198.6 175.4,196.3 177.4,197 179.4,186.8 181.4,196.4 183.4,192.2 185.4,194.7 187.4,188.3 189.4,190.3 191.4,180.3 193.4,186.9 195.4,180 197.4,181.9 199.4,172.7 201.4,180 203.4,172 205.4,179.5 207.4,164.9 209.4,175 211.4,166.8 213.4,169.7 215.4,163.4 217.4,164.7 219.4,158.9 221.4,165.7 223.4,155 225.4,163.6 227.4,155.6 229.4,160.9 231.4,152.8 233.4,160.5 235.4,151 237.4,160.8 239.4,151.3 241.4,159.2 243.4,148.1 245.4,160.7 247.4,150.4 249.4,159.6 251.4,150 253.4,151.9 255.4,146.1 257.4,155 259.4,147.7 261.4,154.9 263.4,146.4 265.4,151.9 267.4,146.8 269.4,151.9 271.4,139.7 273.4,150.5 275.4,141.9 277.4,149.3 279.4,138.4 281.4,143.7 283.4,132.1 285.4,141.3 287.4,131.7 289.4,135.7 291.4,126.9 293.4,139.8 295.4,129.1 297.4,138.9 299.4,128.7 301.4,138.4 303.4,132.2 305.4,137.6 307.4,128.5 309.4,132.8 311.4,122.3 313.4,134.8 315.4,118.9 317.4,128 319.4,118.5 321.4,126.5 323.4,120.6 325.4,127.4 327.4,114.3 329.4,120.2 331.4,109.1 333.4,118.8 335.4,112.6 337.4,119.4 339.4,112.6 341.4,117.8 343.4,107.7 345.4,119.9 347.4,110.7 349.4,115.6 351.4,106.3 353.4,111.7 355.4,102.1 357.4,106.3 359.4,102.3 361.4,107.1 363.4,99.8 365.4,105.9 367.4,96.7 369.4,110.2 371.4,98.9 373.4,104.4 375.4,95.7 377.4,103.5 379.4,90.5 381.4,98.1 383.4,88.4 385.4,97.6 387.4,83.7 389.4,94.4 391.4,87.6 393.4,94.2 395.4,86.8 397.4,92.5 399.4,84.9 401.4,89.3 403.4,81.5 405.4,89.1 407.4,81.1 409.4,90.6 411.4,81.7 413.4,86.7 415.4,81.5 417.4,82.6 419.4,76.9 421.4,78.7 423.4,74.1 425.4,77.6 427.4,70.2 429.4,75.6 431.4,67.1 433.4,76.4 435.4,71.7 437.4,77.3 439.4,65.6 441.4,72.7 443.4,66.4 445.4,69.7 447.4,62.1 449.4,67.3 451.4,59.3 453.4,70 455.4,60.3 457.4,68.1 459.4,59.7 461.4,66.9 463.4,57.5 465.4,62.2 467.4,56.9 469.4,63.7 471.4,54.6 473.4,59.3 475.4,50.9 477.4,62 479.4,51.7 481.4,60.3 483.4,51.6 485.4,55.8 487.4,53.4 489.4,55.4 491.4,47.7 493.4,53.5 495.4,41 497.4,49.3 499.4,39.6 501.4,47.8 503.4,40.6 505.4,49.1 507.4,42.6 509.4,45.1 511.4,41.3 513.4,48.8 515.4,40.7 517.4,47.4 519.4,42.3 521.4,48.5 523.4,40.8 525.4,45.3 527.4,37.9 529.4,44.2 531.4,38.4 533.4,45.4 535.4,34 537.4,37.9 539.4,35 541.4,41.3 543.4,27.4 545.4,39.6 547.4,32 549.4,39.5 551.4,30.8" fill="none" stroke="#00ad50" stroke-width="2.6" stroke-linejoin="round" stroke-linecap="round" />
<path d="M71.6,372 V12 H596.4 V372" fill="none" stroke="#222" stroke-width="1.8"/>
<line x1="70.7" y1="372" x2="597.3" y2="372" stroke="#404040" stroke-width="2"/>
<g stroke="#e2e2e2" stroke-width="1"><line x1="142.5" y1="485" x2="142.5" y2="844" stroke="#dedede"/><line x1="217.6" y1="485" x2="217.6" y2="844" stroke="#dedede"/><line x1="292.7" y1="485" x2="292.7" y2="844" stroke="#dedede"/><line x1="367.8" y1="485" x2="367.8" y2="844" stroke="#dedede"/><line x1="442.9" y1="485" x2="442.9" y2="844" stroke="#dedede"/><line x1="518.0" y1="485" x2="518.0" y2="844" stroke="#dedede"/><line x1="67" y1="785.2" x2="594" y2="785.2" stroke="#ebebeb"/><line x1="67" y1="725.4" x2="594" y2="725.4" stroke="#ebebeb"/><line x1="67" y1="665.6" x2="594" y2="665.6" stroke="#ebebeb"/><line x1="67" y1="605.8" x2="594" y2="605.8" stroke="#ebebeb"/><line x1="67" y1="546.0" x2="594" y2="546.0" stroke="#ebebeb"/></g>
<rect x="124.5" y="621.7" width="196" height="50.6" fill="#fff"/>
<polyline points="70.4,805.6 246.3,805.6" fill="none" stroke="#b01515" stroke-width="2.6" stroke-linejoin="round" stroke-linecap="round" />
<polyline points="246.3,805.3 247.7,800.5 249.3,797.9 251.5,793.4 252.9,783.4 254.3,766.2 256.3,751.6 258,744.6 259.3,741.8 261.2,736.6 262.9,733.6 264.4,724.5 265.9,718.8 267.9,712.1 269.4,712.4 270.9,712.5 272.6,714.2 274.2,709.9 276.3,705.9 277.6,700.5 279,699.6 281.2,697 282.7,695.6 284.3,693.1 285.8,693.3 287.3,692 289,691 290.9,683.9 292.5,679.4 294.3,674.1 295.9,673.4 297.6,671.3 298.9,671.4 300.9,669.2 302.3,667.7 304.4,664.2 305.9,663.8 307.3,661.3 308.8,661.1 310.8,659.1 312.5,657.8 313.9,654.9 315.7,655.1 317.3,654.3 319,655.6 320.8,650.6 322.2,646.3 323.9,641.6 325.3,640.1 327,636.4 328.6,633.6 330.7,627.8 332.3,627.8 334,628.9 335.3,634.1 337.1,636.8 339,642.7 340.6,646 342.3,644.7 343.5,640.5 345.2,646.2 347.4,648.4 348.4,653.3 350.2,655.9 352.1,659.1 353.6,657.4 355.4,658.2 356.7,657.8 358.8,660.6 360.3,661 362.1,663.2 363.8,659.7 365.4,658.7 367.1,654.7 368.3,656.6 370.2,656.6 371.9,658.1 373.7,659.6 374.9,663 376.8,660.1 378.4,658.2 380.1,657.2 381.8,661.7 383.1,658.7 385.3,658.3 386.7,654.1 388.6,653.4 390.1,651.6 391.6,653.4 393.5,654.9 395.1,658.6 396.6,657.8 398,660.5 399.9,659.3 401.4,660.2 403.4,656.6 405.1,656.2 406.6,656.6 408.3,661.1 409.6,660.4 411.6,660.5 412.9,657.2 414.8,654.7 416.2,648.8 418,652.2 419.5,652.2 421.5,656.2 423.4,651.3 424.5,650.5 426.2,646.3 427.8,649.6 429.4,650.4 431.6,654.2 432.9,654.7 434.6,657.6 436.2,652.2 437.8,650.8 439.6,651.3 441.2,654.6 442.6,654.7 444.7,653.7 446.1,648.6 447.9,646.6 449.2,644 451,646.8 453.1,645.8 454.7,649.4 456.3,648.6 458.1,651 459.3,647.1 461.1,645.3 462.6,640.3 464.3,642.7 465.9,642.3 467.7,644.8 469.3,644.8 470.9,647.2 472.4,647.2 474.1,648.3 476,644.9 477.7,643.9 479.2,640.4 481.1,640.5 482.7,638.1 484.2,640.4 485.6,640.3 487.5,643.2 489.1,638.8 490.8,638.1 492.6,635 494.1,637.3 495.5,637.5 497.1,640.9 498.9,641.1 500.9,643.5 502.5,642.3 504.3,644.5 505.5,641.3 507.3,639.5 508.9,635 510.4,634.4 512.5,632.2 513.7,633.6 515.3,631.4 517.5,632.9 519.1,632.3 520.4,635.2 522.2,635.2 523.7,635.2 525.7,632.1 527.2,631.7 529.1,628.7 530.3,630.3 532.2,629.9 533.6,631.8 535.4,631.2 536.9,633.7 538.8,633 540.6,635.5 542.3,632.8 543.7,631.4 545.5,627.6 547,626.9" fill="none" stroke="#ff0000" stroke-width="3.4" stroke-linejoin="round" stroke-linecap="round" />
<polyline points="373.6,827.2 386.5,833 407.3,832.7 421.9,832.7 439.9,833.7 468.4,828.3 483.1,832.7 502.2,835.9 510.4,830.4 522,832.5 527.5,832.5 533.5,831.5 539.6,832.5 547.5,510.1" fill="none" stroke="#0a6fc2" stroke-width="2.2" stroke-linejoin="round" stroke-linecap="round" />
<rect x="370" y="823.6" width="7.2" height="7.2" fill="#0a6fc2"/>
<rect x="382.9" y="829.4" width="7.2" height="7.2" fill="#0a6fc2"/>
<rect x="403.7" y="829.1" width="7.2" height="7.2" fill="#0a6fc2"/>
<rect x="418.3" y="829.1" width="7.2" height="7.2" fill="#0a6fc2"/>
<rect x="436.3" y="830.1" width="7.2" height="7.2" fill="#0a6fc2"/>
<rect x="464.8" y="824.7" width="7.2" height="7.2" fill="#0a6fc2"/>
<rect x="479.5" y="829.1" width="7.2" height="7.2" fill="#0a6fc2"/>
<rect x="498.6" y="832.3" width="7.2" height="7.2" fill="#0a6fc2"/>
<rect x="506.8" y="826.8" width="7.2" height="7.2" fill="#0a6fc2"/>
<rect x="518.4" y="828.9" width="7.2" height="7.2" fill="#0a6fc2"/>
<rect x="523.9" y="828.9" width="7.2" height="7.2" fill="#0a6fc2"/>
<rect x="529.9" y="827.9" width="7.2" height="7.2" fill="#0a6fc2"/>
<rect x="536" y="828.9" width="7.2" height="7.2" fill="#0a6fc2"/>
<rect x="543.9" y="506.5" width="7.2" height="7.2" fill="#0a6fc2"/>
<path d="M67,845 V485 H594 V844" fill="none" stroke="#111" stroke-width="2"/>
<line x1="68" y1="844" x2="595" y2="844" stroke="#2a2a2a" stroke-width="2"/>
<text x="54" y="378.6" text-anchor="end" font-size="19.3" >0.0</text>
<text x="54" y="333.7" text-anchor="end" font-size="19.3" >0.2</text>
<text x="54" y="288.8" text-anchor="end" font-size="19.3" >0.4</text>
<text x="54" y="243.8" text-anchor="end" font-size="19.3" >0.6</text>
<text x="54" y="198.9" text-anchor="end" font-size="19.3" >0.8</text>
<text x="54" y="154" text-anchor="end" font-size="19.3" >1.0</text>
<text x="54" y="109.1" text-anchor="end" font-size="19.3" >1.2</text>
<text x="54" y="64.2" text-anchor="end" font-size="19.3" >1.4</text>
<text x="54" y="19.2" text-anchor="end" font-size="19.3" >1.6</text>
<text x="613" y="379.1" text-anchor="start" font-size="19.3" >0.0</text>
<text x="613" y="334.2" text-anchor="start" font-size="19.3" >7.0</text>
<text x="613" y="289.3" text-anchor="start" font-size="19.3" >14.0</text>
<text x="613" y="244.3" text-anchor="start" font-size="19.3" >21.0</text>
<text x="613" y="199.4" text-anchor="start" font-size="19.3" >28.0</text>
<text x="613" y="154.5" text-anchor="start" font-size="19.3" >35.0</text>
<text x="613" y="109.6" text-anchor="start" font-size="19.3" >42.0</text>
<text x="613" y="64.7" text-anchor="start" font-size="19.3" >49.0</text>
<text x="613" y="19.7" text-anchor="start" font-size="19.3" >56.0</text>
<text x="71.6" y="401" text-anchor="middle" font-size="19.3" >0</text>
<text x="146.6" y="401" text-anchor="middle" font-size="19.3" >500</text>
<text x="221.6" y="401" text-anchor="middle" font-size="19.3" >1000</text>
<text x="296.6" y="401" text-anchor="middle" font-size="19.3" >1500</text>
<text x="371.6" y="401" text-anchor="middle" font-size="19.3" >2000</text>
<text x="446.6" y="401" text-anchor="middle" font-size="19.3" >2500</text>
<text x="521.6" y="401" text-anchor="middle" font-size="19.3" >3000</text>
<text x="596.6" y="401" text-anchor="middle" font-size="19.3" >3500</text>
<text x="332" y="429" text-anchor="middle" font-size="19.3" >Time (sec)</text>
<text x="0" y="0" text-anchor="middle" font-size="19.8" transform="translate(19.2,193) rotate(-90)">Porewater pressure (kPa)</text>
<text x="0" y="0" text-anchor="middle" font-size="19.7" transform="translate(675.7,198.6) rotate(-90)">Vertical displacement (mm)</text>
<text x="87.1" y="63.6" text-anchor="start" font-size="26" >a)</text>
<text x="316.5" y="85.2" text-anchor="start" font-size="19.3" letter-spacing="0.8">Pwp3</text>
<text x="398.2" y="120.6" text-anchor="start" font-size="19.3" letter-spacing="0.9">Pwp2</text>
<text x="460.5" y="226.5" text-anchor="start" font-size="19.3" letter-spacing="0.7">Pwp1</text>
<text x="463" y="345.6" text-anchor="start" font-size="19.3" >Vdr</text>
<text x="543.8" y="366.9" text-anchor="start" font-size="19.3" >Vdl</text>
<text x="50" y="851.9" text-anchor="end" font-size="19.3" >0.0</text>
<text x="50" y="792.1" text-anchor="end" font-size="19.3" >0.2</text>
<text x="50" y="732.3" text-anchor="end" font-size="19.3" >0.4</text>
<text x="50" y="672.5" text-anchor="end" font-size="19.3" >0.6</text>
<text x="50" y="612.7" text-anchor="end" font-size="19.3" >0.8</text>
<text x="50" y="552.9" text-anchor="end" font-size="19.3" >1.0</text>
<text x="50" y="493.1" text-anchor="end" font-size="19.3" >1.2</text>
<text x="610" y="851.9" text-anchor="start" font-size="19.3" >0.0</text>
<text x="610" y="792.1" text-anchor="start" font-size="19.3" >6.0</text>
<text x="610" y="732.3" text-anchor="start" font-size="19.3" >12.0</text>
<text x="610" y="672.5" text-anchor="start" font-size="19.3" >18.0</text>
<text x="610" y="612.7" text-anchor="start" font-size="19.3" >24.0</text>
<text x="610" y="552.9" text-anchor="start" font-size="19.3" >30.0</text>
<text x="610" y="493.1" text-anchor="start" font-size="19.3" >36.0</text>
<text x="67.4" y="874.5" text-anchor="middle" font-size="19.3" >0</text>
<text x="142.5" y="874.5" text-anchor="middle" font-size="19.3" >500</text>
<text x="217.6" y="874.5" text-anchor="middle" font-size="19.3" >1000</text>
<text x="292.7" y="874.5" text-anchor="middle" font-size="19.3" >1500</text>
<text x="367.8" y="874.5" text-anchor="middle" font-size="19.3" >2000</text>
<text x="442.9" y="874.5" text-anchor="middle" font-size="19.3" >2500</text>
<text x="518" y="874.5" text-anchor="middle" font-size="19.3" >3000</text>
<text x="593.1" y="874.5" text-anchor="middle" font-size="19.3" >3500</text>
<text x="331.5" y="903.5" text-anchor="middle" font-size="19.3" >Time (sec)</text>
<text x="0" y="0" text-anchor="middle" font-size="19.5" transform="translate(18.8,666.6) rotate(-90)">Hydraulic gradient</text>
<text x="0" y="0" text-anchor="middle" font-size="19.4" transform="translate(676.1,673.6) rotate(-90)">TSS (g/lt)</text>
<text x="86.4" y="537.5" text-anchor="start" font-size="26" letter-spacing="-1.2">b)</text>
<text x="151" y="654.2" text-anchor="start" font-size="19.1" word-spacing="2.4">hydraulic gradient</text>
<text x="486.2" y="804.9" text-anchor="start" font-size="19.3" letter-spacing="0.9">TSS</text>
</svg>
</body></html>
